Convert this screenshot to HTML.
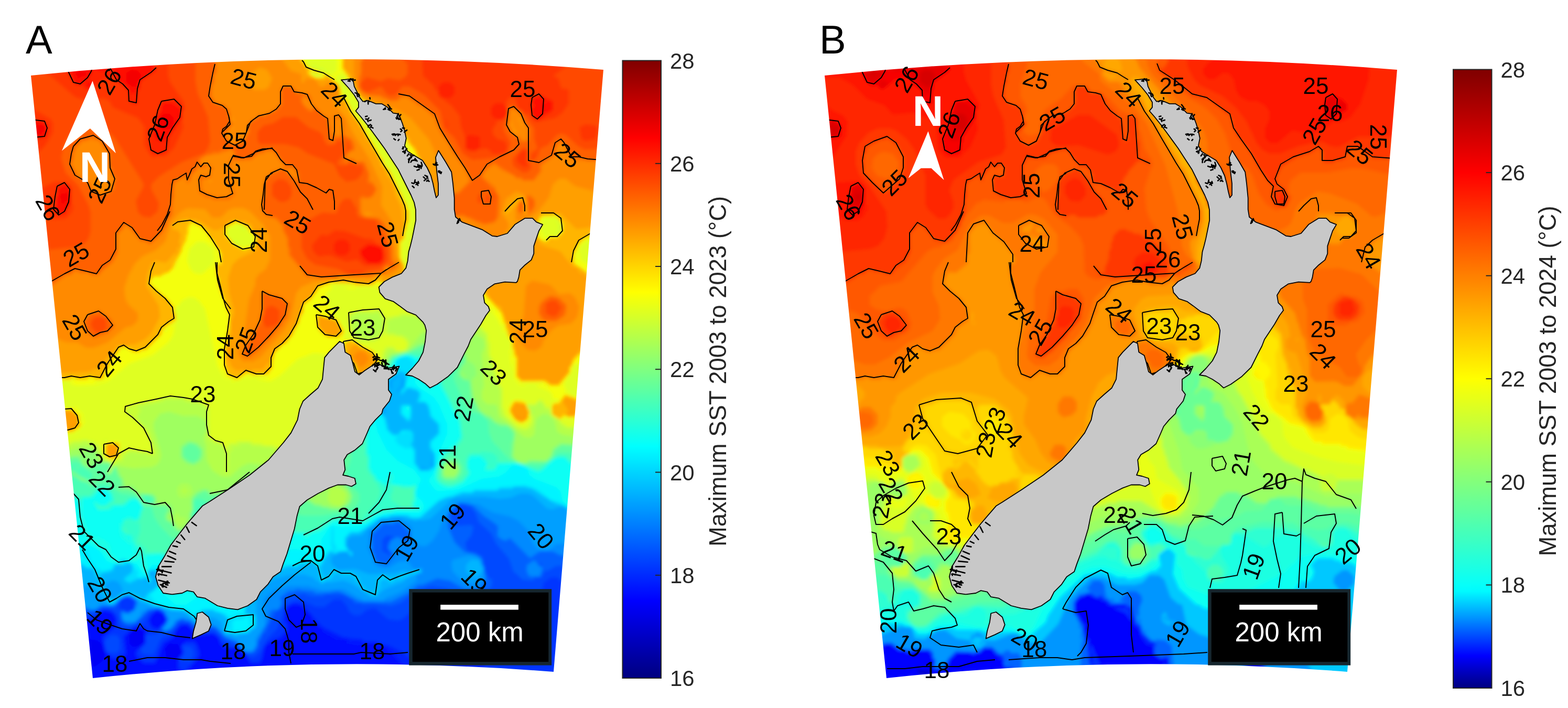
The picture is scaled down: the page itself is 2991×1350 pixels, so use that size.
<!DOCTYPE html>
<html><head><meta charset="utf-8"><title>SST maps</title><style>html,body{margin:0;padding:0;background:#fff;overflow:hidden}
svg{display:block}
text{font-family:"Liberation Sans",Arial,sans-serif}
.tk{font-size:42px;fill:#262626}
.ct{font-size:45.4px;fill:#262626}
.pl{font-size:76px;fill:#000}
.sb{font-size:51px;fill:#fff}
.na{font-size:81px;font-weight:bold;fill:#fff}
.cl{font-size:44px;fill:#000;text-anchor:middle;dominant-baseline:central}</style></head><body>
<svg width="2991" height="1350" viewBox="0 0 2991 1350" xmlns="http://www.w3.org/2000/svg">
<defs><linearGradient id="gA" x1="0" y1="1" x2="0" y2="0"><stop offset="0.0000" stop-color="#000080"/><stop offset="0.0104" stop-color="#00008a"/><stop offset="0.0208" stop-color="#000095"/><stop offset="0.0312" stop-color="#00009f"/><stop offset="0.0417" stop-color="#0000aa"/><stop offset="0.0521" stop-color="#0000b5"/><stop offset="0.0625" stop-color="#0000bf"/><stop offset="0.0729" stop-color="#0000ca"/><stop offset="0.0833" stop-color="#0000d4"/><stop offset="0.0938" stop-color="#0000df"/><stop offset="0.1042" stop-color="#0000ea"/><stop offset="0.1146" stop-color="#0000f4"/><stop offset="0.1250" stop-color="#0000ff"/><stop offset="0.1354" stop-color="#000bff"/><stop offset="0.1458" stop-color="#0015ff"/><stop offset="0.1562" stop-color="#0020ff"/><stop offset="0.1667" stop-color="#002aff"/><stop offset="0.1771" stop-color="#0035ff"/><stop offset="0.1875" stop-color="#0040ff"/><stop offset="0.1979" stop-color="#004aff"/><stop offset="0.2083" stop-color="#0055ff"/><stop offset="0.2188" stop-color="#0060ff"/><stop offset="0.2292" stop-color="#006aff"/><stop offset="0.2396" stop-color="#0075ff"/><stop offset="0.2500" stop-color="#0080ff"/><stop offset="0.2604" stop-color="#008aff"/><stop offset="0.2708" stop-color="#0095ff"/><stop offset="0.2812" stop-color="#009fff"/><stop offset="0.2917" stop-color="#00aaff"/><stop offset="0.3021" stop-color="#00b5ff"/><stop offset="0.3125" stop-color="#00bfff"/><stop offset="0.3229" stop-color="#00caff"/><stop offset="0.3333" stop-color="#00d4ff"/><stop offset="0.3438" stop-color="#00dfff"/><stop offset="0.3542" stop-color="#00eaff"/><stop offset="0.3646" stop-color="#00f4ff"/><stop offset="0.3750" stop-color="#00ffff"/><stop offset="0.3854" stop-color="#0bfff4"/><stop offset="0.3958" stop-color="#15ffea"/><stop offset="0.4062" stop-color="#20ffdf"/><stop offset="0.4167" stop-color="#2bffd4"/><stop offset="0.4271" stop-color="#35ffca"/><stop offset="0.4375" stop-color="#40ffbf"/><stop offset="0.4479" stop-color="#4affb5"/><stop offset="0.4583" stop-color="#55ffaa"/><stop offset="0.4688" stop-color="#60ff9f"/><stop offset="0.4792" stop-color="#6aff95"/><stop offset="0.4896" stop-color="#75ff8a"/><stop offset="0.5000" stop-color="#80ff80"/><stop offset="0.5104" stop-color="#8aff75"/><stop offset="0.5208" stop-color="#95ff6a"/><stop offset="0.5312" stop-color="#9fff60"/><stop offset="0.5417" stop-color="#aaff55"/><stop offset="0.5521" stop-color="#b5ff4a"/><stop offset="0.5625" stop-color="#bfff40"/><stop offset="0.5729" stop-color="#caff35"/><stop offset="0.5833" stop-color="#d5ff2a"/><stop offset="0.5938" stop-color="#dfff20"/><stop offset="0.6042" stop-color="#eaff15"/><stop offset="0.6146" stop-color="#f4ff0b"/><stop offset="0.6250" stop-color="#ffff00"/><stop offset="0.6354" stop-color="#fff400"/><stop offset="0.6458" stop-color="#ffea00"/><stop offset="0.6562" stop-color="#ffdf00"/><stop offset="0.6667" stop-color="#ffd500"/><stop offset="0.6771" stop-color="#ffca00"/><stop offset="0.6875" stop-color="#ffbf00"/><stop offset="0.6979" stop-color="#ffb500"/><stop offset="0.7083" stop-color="#ffaa00"/><stop offset="0.7188" stop-color="#ff9f00"/><stop offset="0.7292" stop-color="#ff9500"/><stop offset="0.7396" stop-color="#ff8a00"/><stop offset="0.7500" stop-color="#ff8000"/><stop offset="0.7604" stop-color="#ff7500"/><stop offset="0.7708" stop-color="#ff6a00"/><stop offset="0.7812" stop-color="#ff6000"/><stop offset="0.7917" stop-color="#ff5500"/><stop offset="0.8021" stop-color="#ff4a00"/><stop offset="0.8125" stop-color="#ff4000"/><stop offset="0.8229" stop-color="#ff3500"/><stop offset="0.8333" stop-color="#ff2a00"/><stop offset="0.8438" stop-color="#ff2000"/><stop offset="0.8542" stop-color="#ff1500"/><stop offset="0.8646" stop-color="#ff0b00"/><stop offset="0.8750" stop-color="#ff0000"/><stop offset="0.8854" stop-color="#f40000"/><stop offset="0.8958" stop-color="#ea0000"/><stop offset="0.9062" stop-color="#df0000"/><stop offset="0.9167" stop-color="#d50000"/><stop offset="0.9271" stop-color="#ca0000"/><stop offset="0.9375" stop-color="#bf0000"/><stop offset="0.9479" stop-color="#b50000"/><stop offset="0.9583" stop-color="#aa0000"/><stop offset="0.9688" stop-color="#9f0000"/><stop offset="0.9792" stop-color="#950000"/><stop offset="0.9896" stop-color="#8a0000"/><stop offset="1.0000" stop-color="#800000"/></linearGradient><linearGradient id="gB" x1="0" y1="1" x2="0" y2="0"><stop offset="0.0000" stop-color="#000080"/><stop offset="0.0104" stop-color="#000099"/><stop offset="0.0208" stop-color="#0000b2"/><stop offset="0.0312" stop-color="#0000cb"/><stop offset="0.0417" stop-color="#0000e5"/><stop offset="0.0521" stop-color="#0000fe"/><stop offset="0.0625" stop-color="#0018ff"/><stop offset="0.0729" stop-color="#0031ff"/><stop offset="0.0833" stop-color="#004aff"/><stop offset="0.0938" stop-color="#0063ff"/><stop offset="0.1042" stop-color="#007cff"/><stop offset="0.1146" stop-color="#0096ff"/><stop offset="0.1250" stop-color="#00afff"/><stop offset="0.1354" stop-color="#00c8ff"/><stop offset="0.1458" stop-color="#00e1ff"/><stop offset="0.1562" stop-color="#00faff"/><stop offset="0.1667" stop-color="#06fff9"/><stop offset="0.1771" stop-color="#0efff1"/><stop offset="0.1875" stop-color="#16ffe9"/><stop offset="0.1979" stop-color="#1effe1"/><stop offset="0.2083" stop-color="#25ffda"/><stop offset="0.2188" stop-color="#2dffd2"/><stop offset="0.2292" stop-color="#35ffca"/><stop offset="0.2396" stop-color="#3dffc2"/><stop offset="0.2500" stop-color="#44ffbb"/><stop offset="0.2604" stop-color="#4cffb3"/><stop offset="0.2708" stop-color="#54ffab"/><stop offset="0.2812" stop-color="#5cffa3"/><stop offset="0.2917" stop-color="#64ff9b"/><stop offset="0.3021" stop-color="#6bff94"/><stop offset="0.3125" stop-color="#73ff8c"/><stop offset="0.3229" stop-color="#7bff84"/><stop offset="0.3333" stop-color="#83ff7c"/><stop offset="0.3438" stop-color="#8aff75"/><stop offset="0.3542" stop-color="#92ff6d"/><stop offset="0.3646" stop-color="#9aff65"/><stop offset="0.3750" stop-color="#a2ff5d"/><stop offset="0.3854" stop-color="#a9ff56"/><stop offset="0.3958" stop-color="#b1ff4e"/><stop offset="0.4062" stop-color="#b9ff46"/><stop offset="0.4167" stop-color="#c1ff3e"/><stop offset="0.4271" stop-color="#c9ff36"/><stop offset="0.4375" stop-color="#d0ff2f"/><stop offset="0.4479" stop-color="#d8ff27"/><stop offset="0.4583" stop-color="#e0ff1f"/><stop offset="0.4688" stop-color="#e8ff17"/><stop offset="0.4792" stop-color="#efff10"/><stop offset="0.4896" stop-color="#f7ff08"/><stop offset="0.5000" stop-color="#ffff00"/><stop offset="0.5104" stop-color="#fff700"/><stop offset="0.5208" stop-color="#ffef00"/><stop offset="0.5312" stop-color="#ffe700"/><stop offset="0.5417" stop-color="#ffdf00"/><stop offset="0.5521" stop-color="#ffd700"/><stop offset="0.5625" stop-color="#ffcf00"/><stop offset="0.5729" stop-color="#ffc700"/><stop offset="0.5833" stop-color="#ffbf00"/><stop offset="0.5938" stop-color="#ffb700"/><stop offset="0.6042" stop-color="#ffaf00"/><stop offset="0.6146" stop-color="#ffa700"/><stop offset="0.6250" stop-color="#ff9f00"/><stop offset="0.6354" stop-color="#ff9700"/><stop offset="0.6458" stop-color="#ff8f00"/><stop offset="0.6562" stop-color="#ff8700"/><stop offset="0.6667" stop-color="#ff8000"/><stop offset="0.6771" stop-color="#ff7800"/><stop offset="0.6875" stop-color="#ff7000"/><stop offset="0.6979" stop-color="#ff6800"/><stop offset="0.7083" stop-color="#ff6000"/><stop offset="0.7188" stop-color="#ff5800"/><stop offset="0.7292" stop-color="#ff5000"/><stop offset="0.7396" stop-color="#ff4800"/><stop offset="0.7500" stop-color="#ff4000"/><stop offset="0.7604" stop-color="#ff3800"/><stop offset="0.7708" stop-color="#ff3000"/><stop offset="0.7812" stop-color="#ff2800"/><stop offset="0.7917" stop-color="#ff2000"/><stop offset="0.8021" stop-color="#ff1800"/><stop offset="0.8125" stop-color="#ff1000"/><stop offset="0.8229" stop-color="#ff0800"/><stop offset="0.8333" stop-color="#ff0000"/><stop offset="0.8438" stop-color="#f70000"/><stop offset="0.8542" stop-color="#ef0000"/><stop offset="0.8646" stop-color="#e70000"/><stop offset="0.8750" stop-color="#df0000"/><stop offset="0.8854" stop-color="#d70000"/><stop offset="0.8958" stop-color="#cf0000"/><stop offset="0.9062" stop-color="#c70000"/><stop offset="0.9167" stop-color="#bf0000"/><stop offset="0.9271" stop-color="#b70000"/><stop offset="0.9375" stop-color="#af0000"/><stop offset="0.9479" stop-color="#a70000"/><stop offset="0.9583" stop-color="#9f0000"/><stop offset="0.9688" stop-color="#970000"/><stop offset="0.9792" stop-color="#8f0000"/><stop offset="0.9896" stop-color="#870000"/><stop offset="1.0000" stop-color="#800000"/></linearGradient><clipPath id="cA"><path d="M59,144 A5916,5916 0 0 1 1151,133 L1056,1281 A4762,4762 0 0 0 177,1293 Z"/></clipPath><clipPath id="cB"><path d="M1573,144 A5916,5916 0 0 1 2665,133 L2570,1281 A4762,4762 0 0 0 1691,1293 Z"/></clipPath><filter id="bl" x="0" y="0" width="100%" height="100%"><feGaussianBlur stdDeviation="3"/></filter></defs>
<rect width="2991" height="1350" fill="#fff"/>
<g clip-path="url(#cA)"><g filter="url(#bl)"><rect x="40" y="100" width="1128" height="1208" fill="#00008a"/>
<path fill-rule="evenodd" d="M41,101 41,1307 1167,1307 1167,101Z" fill="#00009f"/>
<path fill-rule="evenodd" d="M41,101 41,1307 1167,1307 1167,101Z" fill="#0000b5"/>
<path fill-rule="evenodd" d="M41,101 41,1307 1167,1307 1167,101Z" fill="#0000ca"/>
<path fill-rule="evenodd" d="M41,101 41,1307 1167,1307 1167,101Z" fill="#0000df"/>
<path fill-rule="evenodd" d="M41,101 41,1307 1167,1307 1167,101Z" fill="#0000f4"/>
<path fill-rule="evenodd" d="M41,101 41,1307 1167,1307 1167,101ZM461,1247 465,1245 467,1249 465,1251ZM457,1243 461,1241 463,1245 461,1247ZM445,1239 457,1237 459,1241ZM323,1227 343,1229 347,1245 341,1255 321,1257 317,1253 315,1237ZM169,1219 185,1221 195,1229 199,1239 199,1253 195,1261 181,1271 167,1269 157,1259 153,1249 153,1235 157,1227ZM259,1199 265,1199 275,1207 275,1225 265,1233 253,1233 247,1227 247,1209ZM311,1187 313,1185 315,1189 313,1191ZM311,1175 313,1173 315,1177 313,1179Z" fill="#000bff"/>
<path fill-rule="evenodd" d="M373,1223 355,1223 345,1231 349,1245 339,1257 339,1277 345,1277 345,1283 357,1281 381,1251 381,1241ZM41,101 41,1269 57,1271 41,1273 41,1293 53,1289 93,1247 89,1243 95,1243 95,1237 99,1239 97,1235 101,1233 101,1227 107,1227 105,1223 113,1217 113,1211 121,1205 121,1199 135,1185 143,1185 147,1181 179,1181 189,1169 201,1163 215,1169 221,1181 217,1197 195,1213 199,1239 213,1257 229,1257 231,1253 237,1253 241,1249 237,1215 249,1201 257,1197 273,1197 279,1203 277,1225 259,1241 259,1253 273,1265 297,1265 313,1227 333,1215 335,1203 347,1191 357,1191 369,1203 371,1213 407,1209 417,1217 419,1227 429,1237 457,1235 469,1247 477,1265 497,1265 507,1231 521,1221 537,1217 549,1205 549,1189 545,1185 547,1161 557,1153 571,1153 595,1175 595,1181 603,1187 601,1191 605,1189 605,1195 609,1193 611,1201 611,1197 617,1197 617,1205 647,1221 653,1217 665,1217 665,1223 655,1223 675,1229 717,1225 719,1229 713,1231 729,1229 731,1233 727,1235 741,1233 743,1237 737,1239 749,1247 775,1277 783,1295 783,1307 899,1307 901,1299 903,1307 1167,1307 1167,101ZM57,1269 59,1265 65,1267 59,1271ZM65,1263 67,1261 69,1265 67,1267ZM69,1261 71,1257 77,1259 71,1263ZM77,1257 79,1253 83,1255 79,1259ZM81,1253 83,1249 87,1251 83,1255ZM85,1249 87,1245 91,1247 87,1251ZM751,1243 757,1241 759,1245 757,1247ZM743,1239 749,1237 751,1241 747,1243ZM923,1225 927,1227 925,1255ZM869,1225 871,1227 867,1233 865,1227ZM869,1225 871,1221 875,1223 871,1227ZM667,1223 689,1221 691,1225 669,1227ZM873,1221 875,1217 879,1219 875,1223ZM643,1215 649,1213 651,1217 645,1219ZM635,1211 641,1209 643,1213 639,1215ZM891,1205 909,1205 923,1219 919,1239 901,1255 887,1253 875,1235 877,1215ZM627,1207 633,1205 635,1209 631,1211ZM619,1203 625,1201 627,1205 623,1207ZM301,1165 305,1169 309,1167 319,1181 303,1199 291,1195 285,1185 289,1173Z" fill="#0020ff"/>
<path fill-rule="evenodd" d="M369,1225 355,1225 345,1233 349,1237 349,1247 341,1257 341,1273 351,1279 375,1257 379,1249 375,1231ZM41,101 41,1267 53,1267 73,1255 99,1229 119,1197 133,1183 141,1183 145,1179 177,1179 197,1163 215,1167 223,1181 221,1195 197,1215 201,1241 215,1255 225,1255 239,1245 235,1213 257,1195 275,1195 281,1201 277,1211 277,1227 261,1243 261,1249 275,1263 293,1263 303,1249 303,1241 311,1225 329,1215 335,1201 345,1191 359,1191 375,1211 407,1207 417,1213 421,1225 431,1235 457,1235 471,1247 469,1249 479,1263 493,1263 499,1257 503,1233 513,1223 533,1215 547,1201 547,1191 543,1187 543,1165 547,1157 557,1151 571,1151 579,1155 615,1195 655,1215 691,1219 695,1223 719,1223 723,1227 743,1231 767,1243 775,1251 799,1263 805,1261 811,1267 837,1267 851,1253 863,1225 881,1207 889,1203 911,1203 929,1225 929,1255 921,1275 909,1291 911,1297 905,1307 1167,1307 1167,101ZM303,1163 317,1175 315,1177 319,1183 309,1197 297,1201 287,1195 283,1181 293,1167ZM253,1157 255,1161 251,1163 249,1161ZM229,1145 231,1141 235,1143 231,1147Z" fill="#0035ff"/>
<path fill-rule="evenodd" d="M351,1231 347,1233 351,1237 351,1247 341,1259 363,1261 369,1251 369,1241 365,1233ZM211,1211 199,1223 203,1241 207,1245 223,1245 229,1239 229,1219 223,1211ZM41,101 41,1209 69,1205 135,1173 181,1173 197,1161 209,1161 223,1171 227,1191 233,1199 253,1197 255,1193 273,1189 285,1171 301,1161 313,1169 319,1183 297,1209 279,1211 279,1227 267,1239 273,1247 289,1249 295,1245 305,1221 311,1215 327,1209 343,1189 359,1189 371,1201 383,1205 409,1205 431,1227 457,1235 475,1253 485,1253 495,1245 509,1219 529,1199 545,1155 561,1145 575,1145 603,1157 619,1157 637,1143 651,1143 663,1157 665,1165 675,1173 687,1173 699,1163 715,1159 741,1181 759,1183 767,1181 781,1169 791,1147 801,1137 809,1133 823,1133 837,1141 859,1165 867,1169 913,1177 959,1179 989,1173 1017,1157 1031,1139 1037,1111 1051,1101 1063,1101 1079,1117 1087,1137 1117,1161 1143,1173 1167,1177 1167,101ZM239,1137 247,1137 249,1141 257,1143 255,1161 245,1167 227,1161 229,1143Z" fill="#004aff"/>
<path fill-rule="evenodd" d="M41,101 41,1165 105,1157 153,1157 155,1161 165,1161 167,1165 183,1165 195,1157 221,1157 227,1143 235,1141 239,1135 255,1141 259,1145 257,1161 245,1169 231,1165 229,1173 235,1189 245,1193 259,1189 283,1165 303,1161 313,1167 317,1179 321,1181 317,1191 307,1199 313,1205 321,1205 337,1191 339,1185 349,1181 351,1185 361,1185 369,1193 397,1193 399,1197 409,1197 429,1217 449,1225 465,1243 485,1245 493,1233 493,1223 497,1221 501,1207 507,1207 525,1167 537,1159 543,1143 559,1133 577,1133 579,1129 583,1131 581,1133 595,1137 621,1137 617,1135 619,1133 657,1133 659,1137 665,1137 667,1143 673,1141 675,1143 671,1145 679,1151 689,1149 691,1153 711,1151 747,1155 765,1149 793,1127 823,1117 851,1121 891,1137 909,1137 929,1129 937,1119 939,1109 937,1103 931,1103 929,1095 925,1093 921,1067 917,1059 909,1057 911,1055 891,1051 887,1035 899,1021 903,1005 899,1001 871,1003 861,993 861,975 879,961 889,961 891,965 903,967 899,969 907,977 913,995 937,1017 947,1037 971,1065 979,1089 997,1105 1019,1107 1019,1101 1033,1101 1039,1087 1043,1089 1061,1079 1079,1079 1139,1097 1167,1099 1167,101ZM505,1199 507,1197 509,1201 507,1203ZM509,1191 511,1189 513,1193 511,1195ZM1029,1075 1031,1073 1035,1077 1031,1079ZM737,1021 751,1023 739,1037 739,1047 747,1053 745,1059 729,1051 729,1029ZM857,983 859,981 861,985 859,987Z" fill="#0060ff"/>
<path fill-rule="evenodd" d="M1019,1067 1005,1077 1005,1091 1009,1099 1031,1099 1035,1081 1031,1081ZM41,101 41,1147 67,1147 71,1143 117,1143 121,1147 137,1147 169,1163 183,1163 195,1155 217,1157 231,1139 245,1135 261,1147 255,1165 249,1165 247,1169 237,1169 235,1165 231,1167 233,1183 245,1191 259,1187 283,1163 301,1159 313,1167 321,1181 317,1191 309,1197 313,1203 327,1199 335,1187 347,1179 361,1183 369,1191 397,1191 401,1195 409,1195 429,1215 449,1223 467,1243 477,1245 483,1243 491,1231 491,1223 511,1187 515,1167 535,1159 539,1151 535,1139 551,1127 563,1127 567,1123 577,1127 597,1127 601,1131 631,1131 635,1127 645,1127 685,1147 725,1149 747,1147 779,1131 799,1115 807,1115 835,1103 857,1107 885,1123 911,1123 919,1119 927,1107 919,1065 907,1057 887,1053 867,1033 855,1005 855,983 859,975 879,959 901,963 921,983 941,995 949,1003 949,1023 961,1031 973,1027 1011,1065 1031,1051 1053,1051 1069,1059 1085,1059 1089,1063 1105,1063 1109,1067 1125,1067 1129,1071 1167,1071 1167,101ZM761,995 781,1015 781,1029 775,1035 763,1025 745,1029 741,1047 751,1059 737,1077 723,1073 715,1065 715,1057 711,1053 711,1019 731,999 751,999Z" fill="#0075ff"/>
<path fill-rule="evenodd" d="M1019,1069 1005,1079 1005,1089 1011,1099 1029,1099 1035,1083 1029,1081ZM41,101 41,1147 65,1147 69,1143 119,1143 123,1147 139,1147 171,1163 181,1163 193,1155 217,1155 231,1139 247,1135 261,1145 261,1155 257,1163 247,1169 237,1169 233,1165 233,1181 239,1187 257,1187 281,1163 303,1159 313,1165 321,1181 317,1187 319,1189 309,1199 315,1203 325,1199 337,1183 351,1179 355,1183 363,1183 371,1191 399,1191 403,1195 411,1195 431,1215 451,1223 467,1243 481,1243 487,1237 491,1221 511,1185 515,1165 519,1161 529,1163 535,1157 533,1155 537,1149 533,1139 549,1127 561,1127 565,1123 599,1127 603,1131 647,1127 687,1147 745,1147 777,1131 797,1115 805,1115 833,1103 859,1107 887,1123 909,1123 917,1119 927,1105 923,1081 919,1079 919,1067 905,1057 885,1053 867,1035 855,1007 855,981 859,973 877,959 903,963 923,983 951,1003 949,1021 955,1027 965,1031 973,1025 1011,1063 1029,1051 1055,1051 1071,1059 1087,1059 1091,1063 1107,1063 1111,1067 1127,1067 1131,1071 1167,1071 1167,101ZM761,993 783,1015 783,1029 775,1037 761,1025 755,1025 749,1031 747,1029 741,1045 753,1059 737,1079 729,1073 723,1075 713,1065 715,1059 709,1053 709,1019 731,997 749,999 755,993Z" fill="#008aff"/>
<path fill-rule="evenodd" d="M865,1067 861,1073 863,1089 881,1107 895,1113 907,1113 925,1099 921,1097 923,1083 913,1063 895,1059ZM41,101 41,1127 83,1127 131,1133 153,1145 161,1153 159,1157 169,1157 171,1161 181,1161 193,1153 217,1153 229,1139 249,1135 263,1143 263,1155 259,1157 259,1163 247,1171 237,1171 233,1167 235,1181 239,1185 257,1185 269,1173 267,1169 273,1163 277,1165 279,1161 305,1157 315,1165 323,1181 311,1199 315,1201 325,1197 333,1189 333,1183 341,1181 343,1177 363,1181 371,1189 405,1189 407,1193 413,1193 431,1213 453,1221 459,1229 457,1233 467,1241 481,1241 489,1229 487,1217 491,1213 493,1217 491,1211 495,1207 497,1209 497,1203 505,1193 503,1143 519,1127 553,1117 587,1117 615,1125 655,1123 683,1139 679,1141 687,1139 693,1145 733,1145 733,1141 765,1129 795,1107 793,1095 805,1093 805,1083 791,1087 777,1069 761,1071 741,1083 727,1083 713,1075 713,1067 703,1047 705,1015 715,1005 721,1005 725,995 763,991 767,997 775,997 785,1005 785,1027 801,1041 813,1041 825,1031 837,1013 847,985 851,981 853,983 851,977 855,973 857,977 857,971 875,957 897,957 899,959 895,961 911,961 939,977 973,985 989,993 1007,1011 1017,1037 1029,1049 1047,1049 1061,1037 1081,1037 1139,1049 1167,1049 1167,101Z" fill="#009fff"/>
<path fill-rule="evenodd" d="M899,1067 889,1077 889,1089 895,1097 907,1101 919,1091 921,1081 917,1079 915,1069ZM41,101 41,1091 99,1093 141,1103 163,1117 185,1125 199,1143 199,1139 203,1139 203,1147 209,1153 215,1153 237,1135 249,1135 271,1149 281,1149 293,1157 357,1169 377,1189 391,1177 409,1177 423,1187 429,1209 445,1209 447,1213 453,1213 455,1209 479,1207 477,1203 489,1197 489,1135 507,1113 527,1103 547,1097 579,1095 597,1101 605,1109 609,1107 611,1113 617,1113 619,1109 629,1111 655,1107 671,1113 707,1137 721,1137 721,1133 735,1123 771,1109 777,1101 781,1103 783,1097 791,1097 795,1091 803,1091 805,1087 801,1085 797,1089 787,1087 785,1091 777,1091 773,1087 753,1093 705,1095 677,1085 643,1087 633,1075 631,1067 635,1059 643,1057 647,1051 663,1053 669,1061 673,1061 673,1051 667,1051 661,1041 663,1029 669,1023 691,1021 703,1005 709,1005 727,989 767,985 777,991 785,989 789,993 799,993 797,991 801,989 803,993 821,989 865,949 921,947 953,951 973,949 993,941 1007,941 1017,945 1043,969 1053,971 1073,965 1083,973 1089,973 1091,989 1107,1001 1141,1009 1167,1009 1167,101ZM195,1131 197,1129 199,1133 197,1135ZM683,1119 685,1117 687,1121 685,1123ZM211,1107 221,1107 229,1113 235,1127 217,1143 209,1141 197,1117ZM277,1107 281,1105 283,1111 281,1113ZM291,1103 295,1107 291,1113ZM305,1093 307,1109 303,1111 301,1107ZM285,1101 287,1089 303,1091 291,1093 291,1101ZM801,891 819,893 803,895ZM825,865 827,889 823,891ZM727,765 731,767 729,779 731,777 737,785 731,789 725,781ZM731,757 735,761 733,767 729,765ZM757,743 761,741 763,747 759,749ZM761,739 765,737 767,741 763,743ZM745,739 747,737 749,741 747,743ZM767,721 771,723 769,739 765,737ZM753,717 755,721 747,727 747,737 743,739 741,727ZM753,717 755,713 759,715 755,719Z" fill="#00b5ff"/>
<path fill-rule="evenodd" d="M767,771 763,775 763,789 779,805 785,799 785,775 781,771ZM41,101 41,1065 143,1073 145,1077 153,1075 165,1085 177,1085 209,1151 223,1147 237,1135 249,1135 293,1155 305,1155 325,1163 349,1163 377,1187 379,1185 373,1175 375,1171 379,1173 383,1167 405,1163 411,1169 417,1167 435,1181 431,1187 433,1193 429,1197 429,1207 445,1207 451,1211 455,1207 471,1207 487,1195 487,1173 469,1169 469,1157 473,1153 471,1139 477,1133 475,1127 481,1117 497,1101 509,1093 517,1093 523,1087 525,1089 529,1085 541,1085 557,1079 563,1083 575,1075 585,1077 593,1071 607,1083 613,1111 627,1103 629,1105 639,1093 647,1093 651,1097 671,1097 689,1119 687,1121 709,1135 719,1135 719,1127 725,1121 725,1109 731,1103 747,1111 751,1107 765,1105 771,1099 777,1101 783,1095 791,1095 793,1091 803,1091 801,1085 799,1089 789,1089 785,1093 779,1091 773,1097 767,1095 755,1103 741,1103 735,1097 729,1097 719,1107 719,1123 715,1125 715,1131 701,1127 689,1115 685,1103 669,1091 651,1093 637,1085 623,1103 617,1101 611,1079 617,1075 617,1069 631,1051 637,1055 661,1051 671,1061 671,1053 667,1053 659,1041 659,1027 669,1017 685,1017 691,1011 693,1013 725,989 759,983 779,985 783,989 801,989 837,957 853,949 865,949 871,943 877,945 881,941 901,941 905,937 949,937 953,933 977,933 981,929 1013,931 1039,949 1041,947 1051,957 1053,955 1059,961 1073,963 1095,977 1103,977 1119,985 1167,985 1167,101ZM309,1095 307,1111 291,1127 285,1127 275,1143 263,1135 257,1135 255,1131 235,1131 217,1145 207,1141 209,1139 195,1117 197,1111 193,1101 189,1099 199,1091 205,1093 215,1089 221,1077 239,1077 243,1073 253,1079 253,1089 235,1105 247,1113 255,1107 259,1109 263,1103 273,1105 277,1099 287,1113 289,1105 283,1091 287,1087 301,1087ZM763,707 775,713 773,737 763,751 767,753 779,739 785,739 791,745 793,743 801,751 795,767 809,767 817,775 815,777 821,783 819,793 835,809 837,825 819,841 819,855 829,867 829,889 817,897 803,897 793,883 793,857 785,847 789,843 789,825 783,819 767,819 757,829 749,827 739,817 741,811 737,807 737,799 723,781 723,767 741,745 739,727Z" fill="#00caff"/>
<path fill-rule="evenodd" d="M767,773 765,789 779,803 783,797 783,773ZM41,101 41,1063 143,1071 167,1083 179,1083 185,1099 189,1101 193,1119 205,1137 205,1145 211,1151 221,1147 225,1141 219,1145 207,1143 195,1119 191,1101 187,1099 189,1095 213,1087 221,1075 237,1077 245,1071 253,1077 253,1091 237,1103 239,1107 249,1111 261,1103 273,1103 277,1099 287,1111 289,1107 283,1101 283,1089 303,1087 309,1093 309,1109 291,1129 281,1135 275,1145 253,1133 235,1133 229,1137 249,1133 295,1155 307,1155 327,1163 351,1163 359,1167 377,1187 379,1185 371,1175 373,1171 389,1163 407,1163 427,1171 437,1181 429,1205 451,1209 469,1207 487,1193 487,1175 467,1171 471,1137 479,1117 497,1099 529,1083 541,1083 545,1079 559,1079 563,1083 573,1075 595,1071 609,1081 613,1111 629,1103 637,1091 647,1091 649,1095 671,1095 685,1109 689,1121 711,1135 719,1133 723,1109 729,1103 739,1103 747,1111 757,1103 801,1091 803,1087 791,1089 787,1093 757,1101 755,1105 741,1105 731,1097 721,1107 721,1123 717,1125 715,1133 701,1129 687,1115 683,1103 671,1093 649,1093 637,1085 637,1091 623,1105 615,1103 615,1097 611,1095 611,1077 629,1051 639,1055 645,1051 663,1051 671,1059 671,1053 665,1053 663,1045 659,1043 659,1025 669,1015 685,1015 725,987 741,987 745,983 779,983 783,987 801,987 837,955 853,947 865,947 881,939 901,939 905,935 949,935 953,931 977,931 981,927 1003,927 1007,931 1015,931 1051,955 1119,983 1167,983 1167,101ZM227,1069 237,1067 239,1071 231,1073ZM761,707 777,713 773,739 765,745 765,751 777,739 795,743 801,749 797,767 811,767 817,773 821,793 837,809 837,827 821,843 821,853 829,865 829,891 819,897 801,897 791,883 791,859 783,847 787,841 787,827 781,821 767,821 759,829 749,829 739,819 735,799 723,783 723,765 739,745 739,725Z" fill="#00dfff"/>
<path fill-rule="evenodd" d="M485,1175 469,1175 463,1181 449,1181 443,1187 445,1201 435,1203 431,1199 431,1205 469,1205 475,1197 485,1193ZM475,1177 483,1179 481,1195 477,1193ZM207,1145 211,1149 215,1147ZM231,1137 237,1133 247,1133 237,1133ZM735,1101 731,1099 723,1107 729,1101ZM763,827 779,823 785,829 785,841 785,827 781,823 767,823ZM767,775 767,789 779,799 783,791 783,775ZM41,101 41,1061 145,1069 147,1073 157,1073 167,1081 181,1081 183,1089 187,1083 195,1089 187,1095 195,1089 213,1085 219,1075 239,1075 241,1071 247,1071 255,1077 255,1091 257,1081 265,1091 261,1101 273,1101 277,1097 285,1105 285,1111 287,1105 283,1103 281,1089 285,1085 303,1085 311,1093 309,1109 303,1119 283,1135 285,1139 287,1133 293,1145 287,1149 295,1145 299,1149 295,1153 309,1153 311,1157 325,1157 327,1161 353,1161 355,1165 361,1165 373,1181 369,1171 385,1165 387,1161 409,1161 411,1165 429,1169 437,1177 459,1169 465,1171 469,1135 473,1133 477,1115 507,1089 517,1089 527,1081 541,1081 543,1077 559,1077 563,1073 569,1077 569,1071 585,1073 587,1069 597,1069 609,1079 621,1057 629,1049 635,1049 631,1041 633,1005 637,1007 637,1035 643,1045 639,1053 641,1055 645,1049 663,1049 657,1041 657,1025 669,1013 685,1013 727,985 741,985 745,981 779,981 783,985 801,985 837,953 881,937 901,937 905,933 949,933 951,929 1003,925 1025,933 1051,953 1067,957 1095,973 1117,977 1119,981 1167,981 1167,101ZM175,1077 179,1075 181,1079 177,1081ZM171,1073 175,1071 177,1075 173,1077ZM599,1071 603,1069 611,1073 603,1075ZM227,1069 237,1065 241,1071 231,1073ZM169,1063 173,1065 171,1073 167,1071ZM155,1051 161,1049 169,1057 169,1063 165,1065ZM765,681 779,681 789,691 789,701 779,711 775,737 765,749 779,737 797,743 803,749 803,761 797,765 811,765 819,773 823,793 839,809 839,827 823,843 823,853 831,865 831,889 819,899 801,899 789,883 789,859 785,857 785,851 781,855 773,855 759,847 753,837 759,831 749,831 737,819 733,799 721,783 721,765 737,745 737,725 753,709 757,709 755,691Z" fill="#00f4ff"/>
<path fill-rule="evenodd" d="M773,775 781,791 781,775ZM787,737 779,737 775,729 775,739 767,747 777,737ZM41,101 41,1021 93,1021 121,1025 187,1045 203,1069 211,1073 239,1075 241,1071 261,1075 273,1093 279,1095 285,1111 287,1105 283,1103 281,1087 291,1077 303,1077 311,1085 309,1111 303,1117 307,1123 305,1127 335,1153 355,1153 383,1133 423,1117 463,1081 499,1061 523,1053 561,1047 579,1049 587,1055 605,1053 613,1041 613,1029 631,1001 651,1005 685,1003 709,993 715,985 727,985 729,981 743,977 797,977 805,973 809,965 805,955 793,945 793,935 797,931 795,925 801,921 803,913 789,895 759,879 737,857 721,825 713,793 715,765 729,743 737,719 751,703 753,689 765,679 775,677 787,681 797,697 791,729 797,737 827,757 837,771 853,809 853,827 839,859 835,885 831,889 831,897 819,913 819,919 829,933 837,937 875,933 919,913 951,909 965,901 977,887 991,885 1001,889 1007,895 1009,905 1019,913 1061,929 1069,937 1073,955 1081,963 1095,963 1111,951 1125,947 1167,947 1167,101ZM227,1067 239,1065 241,1071 229,1073ZM161,989 163,987 165,991 163,993ZM179,969 181,967 183,971 181,973Z" fill="#0bfff4"/>
<path fill-rule="evenodd" d="M41,101 41,977 89,977 91,973 109,973 111,969 119,971 119,965 125,965 135,953 143,951 151,957 151,993 155,995 159,1019 165,1021 167,1027 187,1045 201,1051 207,1063 227,1075 239,1073 229,1073 209,1053 211,1043 205,1035 181,1021 175,1023 175,1017 171,1019 165,1013 161,993 155,985 157,951 177,949 187,937 201,933 211,943 211,951 215,953 201,963 191,963 179,955 179,961 187,973 215,971 215,965 237,965 251,953 263,953 271,967 263,989 255,991 253,987 241,985 243,989 233,989 235,997 229,997 229,1021 251,1041 255,1053 259,1055 257,1059 253,1057 253,1063 241,1069 259,1069 269,1059 271,1081 287,1109 283,1103 281,1081 277,1077 277,1059 309,1057 311,1061 325,1065 325,1071 329,1069 329,1075 335,1075 331,1079 335,1089 329,1095 325,1091 315,1091 309,1099 309,1111 305,1115 311,1125 323,1125 333,1115 335,1093 343,1087 361,1083 337,1083 333,1079 335,1077 373,1079 369,1077 371,1073 383,1075 383,1069 391,1071 391,1065 399,1067 399,1061 407,1063 407,1057 415,1059 415,1053 421,1053 439,1041 447,1043 447,1037 457,1037 459,1033 469,1033 471,1029 481,1029 483,1025 525,1021 527,1017 577,1017 579,1023 585,1025 595,1017 611,1013 637,993 697,997 723,979 729,981 733,977 749,977 753,973 801,973 803,967 789,965 793,955 791,935 795,927 791,923 785,927 747,923 745,915 751,915 747,899 739,911 739,923 731,923 729,919 733,915 729,919 719,915 717,907 709,901 709,895 705,893 705,867 701,865 701,783 705,779 705,771 715,751 721,747 731,723 749,699 753,687 763,679 783,677 801,685 831,711 835,725 839,727 839,737 843,739 843,745 847,747 871,795 871,801 875,803 879,833 875,835 875,841 843,869 831,899 831,915 841,925 849,929 863,929 883,921 897,903 893,893 893,879 897,871 901,869 907,873 911,867 929,883 929,889 923,893 925,897 943,897 951,885 989,883 1027,901 1035,897 1051,879 1063,873 1077,873 1101,897 1119,909 1133,909 1135,913 1167,913 1167,101ZM329,1095 333,1093 335,1097 331,1099ZM259,1045 263,1047 261,1055 257,1053ZM253,1043 257,1041 259,1045 257,1047ZM201,1043 207,1041 211,1045 203,1047ZM193,1039 199,1037 201,1041 195,1043ZM251,1033 255,1035 253,1043 249,1039ZM189,1035 191,1033 195,1037 191,1039ZM185,1031 187,1029 191,1033 187,1035ZM181,1027 185,1025 187,1029 183,1031ZM239,1023 249,1021 251,1031 247,1033 247,1027 241,1027ZM177,1023 181,1021 183,1025 179,1027ZM233,1019 237,1017 239,1021 237,1023ZM229,1015 233,1013 235,1017 231,1019Z" fill="#20ffdf"/>
<path fill-rule="evenodd" d="M315,1093 311,1097 311,1111 305,1117 311,1123 323,1123 331,1115 331,1101 323,1093ZM41,101 41,975 87,975 89,971 107,971 143,947 153,957 153,991 157,993 161,1019 167,1019 169,1027 183,1035 187,1043 199,1047 223,1073 237,1075 221,1069 207,1055 207,1049 193,1045 163,1015 163,1005 159,1003 159,991 155,987 155,949 175,947 185,935 203,931 213,941 217,955 209,957 203,965 189,965 181,957 187,971 207,971 213,963 235,963 249,951 263,951 273,967 269,973 269,983 265,985 263,993 253,993 251,989 237,993 233,1011 241,1019 253,1021 253,1031 265,1045 265,1055 243,1071 263,1063 271,1051 273,1081 283,1101 275,1079 277,1055 311,1055 313,1059 327,1063 337,1075 367,1075 369,1071 379,1071 381,1067 387,1067 389,1063 395,1063 397,1059 403,1059 405,1055 411,1055 413,1051 419,1051 445,1035 455,1035 457,1031 467,1031 469,1027 479,1027 481,1023 523,1019 525,1015 579,1015 581,1023 585,1023 593,1015 611,1011 617,1003 637,991 675,991 679,995 697,995 713,983 733,975 749,975 753,971 803,971 787,967 787,957 791,955 791,933 795,929 791,925 787,929 745,925 743,913 747,911 747,901 745,911 741,913 741,927 737,929 735,925 729,925 723,917 717,917 715,909 707,903 707,897 703,895 703,869 699,867 699,781 703,779 703,769 747,699 751,687 761,679 775,675 803,683 813,695 819,695 833,709 833,715 841,725 841,735 845,737 845,743 849,745 849,751 853,753 853,759 857,761 857,767 861,769 861,775 877,801 881,835 867,853 861,853 845,869 833,899 833,913 841,923 847,923 849,927 863,927 883,919 895,903 895,897 891,895 891,877 895,875 897,867 903,867 905,871 909,867 923,871 929,881 929,891 925,895 943,895 949,883 989,883 1025,899 1035,895 1059,873 1077,871 1101,895 1107,895 1121,907 1135,907 1137,911 1167,911 1167,101Z" fill="#35ffca"/>
<path fill-rule="evenodd" d="M311,1097 311,1113 307,1117 311,1121 321,1121 329,1113 329,1103 321,1095ZM319,1095 329,1105 329,1111 319,1121 313,1121 309,1115 313,1111 313,1099ZM267,1045 267,1049 271,1049ZM235,1003 235,1009 243,1017 251,1017 245,1017ZM243,995 239,995 239,999ZM743,925 751,931 745,947 747,955 765,965 753,969 787,969 785,957 789,953 789,933 793,929 767,931 761,927ZM929,893 941,893 945,885 939,893 935,893 931,889 931,881ZM41,101 41,973 85,973 87,969 105,969 107,965 121,961 131,949 143,945 139,943 141,939 153,947 151,951 147,947 153,955 155,945 173,945 185,933 203,929 215,941 219,957 211,959 205,967 189,967 183,959 187,969 205,969 211,961 233,961 249,949 261,949 271,959 275,971 271,973 267,993 253,995 267,997 267,1013 259,1037 263,1041 267,1037 281,1049 275,1055 313,1053 315,1057 329,1061 339,1073 365,1073 367,1069 377,1069 379,1065 385,1065 387,1061 393,1061 395,1057 401,1057 403,1053 409,1053 411,1049 417,1049 443,1033 453,1033 455,1029 465,1029 467,1025 477,1025 479,1021 521,1017 523,1013 581,1013 585,1021 591,1013 601,1013 597,1009 599,1007 609,1009 615,1001 621,1001 635,989 677,989 679,993 697,993 691,989 719,957 725,943 725,933 721,927 725,923 713,917 713,911 701,897 701,871 697,869 697,781 709,753 739,709 749,687 755,681 773,675 803,681 835,709 839,721 843,723 843,733 847,735 847,741 851,743 851,749 855,751 855,757 859,759 859,765 863,767 863,773 879,799 883,837 869,855 863,855 847,871 839,885 835,913 843,921 861,925 881,917 893,901 889,895 889,877 893,867 903,865 905,861 909,865 915,865 917,861 939,863 949,871 949,881 985,881 1015,893 1023,893 1025,897 1063,869 1079,869 1103,893 1115,901 1121,901 1123,905 1137,905 1139,909 1167,909 1167,101ZM261,1033 263,1031 267,1037 263,1039ZM583,1017 585,1013 589,1015 585,1019ZM277,955 291,957 279,959ZM271,947 283,947 275,951ZM719,923 721,921 723,925 721,927Z" fill="#4affb5"/>
<path fill-rule="evenodd" d="M873,873 861,871 847,879 841,893 841,909 849,917 867,917 881,905 883,891ZM41,101 41,937 95,929 129,913 131,905 137,905 137,911 145,909 153,917 169,921 169,927 181,927 189,921 205,921 229,941 261,945 275,965 289,965 295,987 307,1005 327,1025 345,1031 369,1025 381,1011 381,995 365,983 365,977 369,975 371,951 389,953 407,973 425,981 453,981 471,977 541,977 579,983 615,983 667,975 677,969 685,957 685,941 661,917 661,899 669,875 677,805 689,771 751,681 769,677 771,673 795,671 825,673 853,669 863,675 871,691 865,721 887,773 897,785 917,789 931,803 933,825 939,841 973,877 995,885 1029,887 1045,881 1067,863 1087,863 1125,877 1167,881 1167,101ZM269,945 287,945 295,957 279,961ZM127,903 129,901 131,905 129,907ZM213,899 215,897 217,901 215,903ZM203,895 205,893 207,897 205,899ZM145,899 155,889 161,889 161,895 165,893 175,903 177,911 167,915 151,907ZM143,889 147,891 147,897 139,899 137,895ZM207,887 209,885 211,889 209,891ZM127,893 141,881 149,885 153,881 155,883 153,891 143,887 137,895Z" fill="#60ff9f"/>
<path fill-rule="evenodd" d="M127,897 161,919 169,919 175,925 181,921 151,909 135,897ZM853,879 843,891 843,907 849,913 867,913 877,901 877,889 867,879ZM41,101 41,905 61,905 63,901 101,897 139,873 149,873 157,887 167,893 175,893 183,885 209,883 211,889 203,903 211,905 219,889 223,905 231,915 233,925 223,929 227,933 245,933 255,937 265,947 273,963 317,965 319,977 315,979 315,991 325,997 337,1013 351,1013 365,999 363,979 367,975 367,955 379,941 385,941 387,937 393,937 401,945 441,941 451,929 455,931 455,925 459,929 461,927 457,925 459,921 465,921 465,925 475,925 475,921 481,921 483,925 479,927 489,925 491,929 505,929 507,933 545,937 547,941 569,945 575,953 581,953 583,957 589,957 601,965 625,969 629,973 651,973 669,959 673,945 665,929 645,909 641,895 637,893 637,863 641,861 641,847 645,845 649,819 653,817 665,783 721,721 747,681 777,673 811,657 823,657 827,653 853,653 855,657 869,661 883,675 887,689 875,705 875,715 885,725 895,727 899,759 911,783 953,813 967,813 981,827 979,841 975,845 975,871 989,883 1005,885 1009,881 1041,881 1053,871 1057,859 1071,849 1125,853 1129,857 1167,857 1167,101ZM267,943 291,945 295,949 295,959 279,961ZM465,919 473,917 475,921 467,923ZM363,845 373,849 383,859 379,877 369,883 359,879 349,869 349,855Z" fill="#75ff8a"/>
<path fill-rule="evenodd" d="M129,897 155,915 179,923ZM853,881 845,889 845,907 849,911 867,911 875,901 875,891 867,881ZM41,101 41,903 59,903 61,899 99,895 137,871 151,871 157,885 167,891 175,891 181,883 209,883 213,889 205,903 211,903 219,887 229,911 233,913 233,923 237,927 225,931 247,931 249,935 255,935 275,963 319,963 325,971 317,981 317,991 327,995 339,1011 351,1011 363,999 367,949 377,939 383,939 385,935 395,935 401,943 439,939 469,911 493,927 527,931 529,935 547,935 549,939 571,943 577,951 583,951 601,963 611,963 613,967 651,971 667,959 671,945 663,931 643,911 643,905 635,895 635,861 639,859 639,845 643,843 647,817 655,807 655,797 659,795 663,781 671,775 671,769 711,731 747,679 779,671 799,659 823,655 825,651 855,651 857,655 871,659 885,673 889,691 881,697 877,715 885,723 897,725 901,759 905,761 913,781 929,795 935,795 945,807 951,807 953,811 967,811 977,817 981,825 977,871 987,881 1005,883 1009,879 1043,879 1051,871 1059,853 1067,851 1069,847 1127,851 1129,855 1167,855 1167,101ZM267,941 291,943 297,949 297,959 277,961 267,947ZM361,843 375,847 385,857 385,871 381,873 381,879 373,881 371,885 357,881 347,871 347,853Z" fill="#8aff75"/>
<path fill-rule="evenodd" d="M177,883 167,889 173,889ZM855,881 847,889 847,907 867,909 873,901 873,891 869,885ZM159,881 159,885 163,885ZM879,707 879,713 887,721 895,721 889,721ZM41,101 41,901 97,893 99,889 113,885 137,869 153,869 163,859 177,859 183,865 185,875 181,881 209,881 213,885 205,903 211,903 217,887 223,891 231,909 235,911 235,921 239,923 237,929 247,929 251,925 255,929 251,933 257,929 265,943 267,937 273,941 291,941 299,949 297,961 327,963 331,983 329,985 323,975 319,989 323,993 329,991 339,1009 349,1009 361,997 361,979 367,973 365,949 377,937 385,933 397,933 403,941 437,937 445,929 441,927 445,923 449,925 455,917 461,917 465,913 463,909 477,899 483,913 475,913 487,921 493,921 495,925 529,929 531,933 549,933 551,937 573,941 579,949 585,949 603,961 613,961 615,965 627,965 631,969 649,969 663,961 669,947 661,931 641,911 637,899 633,897 633,859 637,857 637,843 641,841 645,815 653,805 653,797 661,781 727,709 747,677 779,669 797,657 821,653 825,649 855,649 867,657 873,657 891,679 891,691 897,689 907,699 909,715 899,725 903,757 915,781 923,789 935,793 947,805 967,809 979,817 983,825 979,871 989,881 1001,883 1011,877 1041,879 1051,869 1053,857 1069,845 1129,849 1131,853 1167,853 1167,101ZM439,929 441,931 435,935 433,933ZM359,841 377,845 387,857 387,871 383,879 371,887 355,883 345,873 345,851Z" fill="#9fff60"/>
<path fill-rule="evenodd" d="M335,975 335,997 339,1001 347,1001 353,995 353,987 343,987ZM337,995 345,993 347,997 339,999ZM345,991 349,989 351,993 347,995ZM337,987 341,985 343,989 339,991ZM635,927 627,933 625,953 631,961 647,965 657,959 661,941 651,931ZM345,923 339,929 339,943 345,949 361,947 365,941 365,929 359,923ZM353,943 357,941 359,945 355,947ZM345,943 349,941 351,945 347,947ZM357,939 361,937 363,941 359,943ZM341,939 345,937 347,941 343,943ZM357,931 361,929 363,933 359,935ZM341,931 345,929 347,933 343,935ZM353,927 357,925 359,929 355,931ZM345,927 349,925 351,929 347,931ZM41,101 41,873 101,869 155,853 175,853 187,863 195,877 213,883 213,891 205,903 211,901 217,887 253,893 289,891 301,885 307,873 307,863 293,817 293,805 305,789 323,785 349,793 377,793 393,803 395,821 389,831 389,839 393,849 395,879 405,897 423,909 439,909 461,889 475,883 523,889 567,885 593,865 641,775 663,753 697,733 721,713 743,675 777,669 803,637 819,629 837,627 881,635 905,635 923,647 925,661 919,675 923,737 919,745 919,761 929,771 945,771 949,775 951,793 999,833 1011,835 1019,829 1023,799 1035,789 1047,791 1057,801 1063,823 1073,829 1099,833 1167,829 1167,101ZM1013,785 1015,783 1017,787 1015,789Z" fill="#b5ff4a"/>
<path fill-rule="evenodd" d="M41,101 41,845 61,845 63,849 135,849 139,845 155,845 159,841 177,845 191,861 195,873 215,885 209,895 209,903 215,889 223,881 235,877 237,867 245,865 247,861 281,865 285,869 293,869 297,865 285,825 261,797 269,779 263,779 261,775 311,765 315,761 349,761 353,765 381,769 395,779 397,835 409,845 419,845 427,853 431,863 431,901 435,903 437,861 447,855 439,853 439,849 459,851 461,849 453,849 455,845 477,845 479,849 521,853 523,857 555,853 577,835 589,815 589,807 593,805 601,783 605,781 605,775 631,749 655,737 681,733 705,721 723,703 739,665 749,665 757,671 773,669 781,657 777,645 767,639 755,639 753,635 739,635 739,609 749,609 751,605 763,605 767,601 797,605 799,601 821,601 823,597 845,597 847,601 877,605 879,609 909,621 927,639 931,679 939,695 943,721 947,723 947,731 955,743 955,777 959,791 987,817 1003,821 1013,815 1017,807 1017,793 1013,791 1013,785 1005,773 1021,773 1029,765 1037,771 1041,781 1049,779 1051,791 1067,801 1067,807 1081,817 1115,817 1119,813 1141,809 1143,805 1167,801 1167,101ZM433,855 435,853 439,857 435,859ZM245,783 247,781 249,785 247,787ZM669,603 683,597 725,597 727,605 731,607 731,629 727,631 727,637 713,647 691,647 687,643 679,643 673,633ZM717,595 721,593 723,597 719,599Z" fill="#caff35"/>
<path fill-rule="evenodd" d="M217,881 215,887 219,885ZM41,101 41,841 63,841 65,845 135,845 137,841 167,837 169,841 179,841 191,853 195,865 197,857 199,873 205,873 207,877 233,873 229,871 231,857 235,863 245,857 263,857 267,861 283,861 293,865 281,825 261,801 253,799 241,787 241,781 249,773 273,769 277,765 293,765 313,757 351,757 355,761 383,765 399,777 399,833 411,841 419,841 431,857 437,845 449,845 453,841 479,841 483,845 499,845 503,849 523,849 525,853 555,849 561,841 569,839 573,829 581,823 585,805 601,773 629,745 651,737 653,733 663,733 665,729 683,729 685,725 705,717 721,701 725,685 729,685 729,673 737,661 751,661 757,669 771,669 775,665 777,653 767,643 737,639 733,631 731,639 715,651 689,651 685,647 681,647 685,647 685,651 679,651 677,647 667,645 673,639 665,619 665,601 681,593 713,593 717,589 723,589 731,597 735,609 737,605 763,601 765,597 795,601 797,597 817,597 821,593 847,593 849,597 879,601 881,605 911,617 931,637 931,651 935,653 935,679 939,681 939,691 943,693 943,707 947,709 951,731 959,741 959,779 963,781 963,791 987,813 995,813 997,817 1009,813 1009,807 1013,807 1013,795 1009,791 1013,785 1007,781 1005,771 1021,771 1029,761 1035,763 1043,777 1049,773 1051,789 1059,797 1061,795 1071,801 1071,807 1079,809 1081,813 1115,813 1117,809 1131,809 1141,801 1167,797 1167,101ZM203,839 205,841 201,847 199,841ZM697,715 699,713 701,717 699,719ZM701,711 709,711 705,715ZM709,709 711,705 715,707 711,711ZM713,705 715,701 719,703 715,707ZM717,699 719,697 721,701 719,703ZM685,651 687,649 691,653 687,655ZM769,499 771,497 773,501 771,503ZM449,463 453,461 455,465 451,467ZM445,459 449,457 451,461 447,463ZM1061,445 1063,449 1059,451 1057,449ZM1065,441 1067,445 1063,447 1061,445ZM461,435 471,435 465,439ZM457,431 461,429 463,433 459,435ZM1067,425 1071,427 1069,443 1065,441ZM1065,417 1065,427 1061,423ZM773,383 775,381 777,385 775,387ZM769,375 771,373 773,377 771,379ZM761,359 763,357 765,361 763,363ZM757,351 759,349 761,353 759,355ZM749,335 751,333 753,337 751,339ZM745,327 747,325 749,329 747,331ZM737,315 739,313 741,317 739,319ZM733,307 735,305 737,309 735,311ZM721,287 723,285 725,289 723,291ZM709,267 711,265 713,269 711,271ZM697,247 699,245 701,249 699,251ZM669,203 671,201 673,205 671,207ZM665,195 667,193 669,197 667,199ZM653,167 655,165 661,173 655,175ZM651,157 655,161 653,167 649,165ZM601,143 613,141 615,145 603,147ZM593,139 597,137 601,141 595,143ZM617,135 621,133 623,137 619,139ZM605,131 615,129 619,133 607,135ZM593,127 603,125 607,129 595,131Z" fill="#dfff20"/>
<path fill-rule="evenodd" d="M205,843 199,849 199,871 209,877 219,877 223,871 227,873 229,843ZM159,791 145,775 139,779 89,777 91,787 89,789 85,783 83,787 91,817 95,821 117,821 119,825 141,825 143,821 149,821 161,805ZM155,791 159,793 157,807 153,805ZM93,789 99,791 97,811 91,809 95,805ZM149,787 151,785 155,789 151,791ZM145,783 147,781 151,785 147,787ZM141,779 143,777 147,781 143,783ZM979,763 971,775 975,795 993,809 1005,805 1011,789 1003,773 1005,769 997,763ZM41,101 41,717 87,719 41,721 41,747 65,741 91,729 93,725 135,725 137,727 133,731 147,735 189,733 205,727 247,693 291,677 321,653 329,641 335,619 333,615 337,611 333,585 339,585 347,573 359,567 369,567 379,573 391,589 415,697 425,717 433,725 435,721 445,721 447,725 439,727 445,729 447,725 457,725 459,721 463,723 463,717 469,721 479,721 481,717 511,717 511,721 485,723 515,727 533,717 567,685 599,673 631,677 669,703 673,697 673,707 679,707 681,717 695,717 707,709 725,691 725,685 711,667 691,659 675,647 663,647 661,651 655,649 659,645 653,641 657,637 657,629 649,617 649,611 633,605 635,601 641,601 625,581 621,561 635,547 629,545 631,541 673,541 673,547 655,547 665,551 709,551 679,551 675,547 677,545 711,545 713,549 735,549 737,545 743,545 749,549 753,547 747,547 747,541 755,541 759,545 759,537 765,541 779,527 779,515 779,521 775,525 773,523 773,505 765,493 765,463 773,455 773,443 781,423 781,401 745,325 737,317 697,245 673,213 665,193 653,181 653,169 641,153 641,145 645,141 657,141 663,147 671,169 687,187 687,193 693,193 707,209 713,209 713,215 719,215 717,219 721,217 723,221 729,221 731,225 727,227 771,275 791,311 801,345 803,331 807,331 807,347 803,353 805,359 805,351 811,351 811,367 807,371 809,377 809,371 815,371 813,401 815,397 819,399 819,411 815,415 817,421 817,415 823,415 823,427 819,431 839,493 847,505 893,543 937,591 951,611 961,635 963,629 967,631 967,641 975,651 975,665 971,669 977,709 979,683 983,683 981,723 987,723 983,727 995,737 1011,735 993,735 993,729 1037,729 1037,733 1021,735 1047,745 1053,751 1055,761 1067,761 1065,767 1055,767 1051,779 1053,791 1069,801 1077,795 1101,797 1109,789 1109,763 1097,755 1087,755 1085,751 1089,749 1085,747 1083,751 1075,749 1081,745 1077,739 1077,727 1089,711 1093,695 1097,693 1099,697 1107,689 1127,683 1167,681 1167,665 1141,663 1167,661 1167,527 1157,525 1167,523 1167,499 1143,507 1125,507 1107,495 1105,481 1101,479 1103,473 1107,475 1105,467 1111,467 1109,463 1115,463 1115,457 1123,459 1123,453 1167,467 1167,449 1153,447 1167,445 1167,101 647,101 643,105 643,137 629,143 617,139 615,135 605,135 603,131 593,131 587,127 585,119 581,117 585,113 585,101 581,101 581,115 577,113 577,101ZM1039,735 1045,733 1047,737 1045,739ZM1073,733 1075,729 1079,731 1075,735ZM985,727 989,725 991,729 989,731ZM179,727 195,725 197,729 183,731ZM197,725 199,721 203,723 199,727ZM137,723 141,721 143,725 139,727ZM87,723 89,721 91,725 89,727ZM429,719 433,717 435,721 433,723ZM469,715 477,713 479,717 471,719ZM427,705 431,707 429,717 425,715ZM665,695 669,693 671,697 669,699ZM661,691 665,689 667,693 665,695ZM657,687 661,685 663,689 661,691ZM975,665 979,667 977,681 973,677ZM229,669 231,665 243,667ZM549,651 551,649 553,653 551,655ZM609,635 613,633 615,637 613,639ZM561,635 563,633 565,637 563,639ZM603,627 605,625 607,629 605,631ZM565,627 567,625 569,629 567,631ZM313,631 315,625 321,627 315,633ZM959,617 963,619 961,629 957,625ZM569,619 571,617 573,621 571,623ZM325,621 327,617 335,619 329,623ZM577,599 579,597 581,601 579,603ZM941,591 945,589 947,593 945,595ZM597,567 599,565 601,569 599,571ZM723,543 733,541 735,545ZM713,545 715,541 721,543 715,547ZM765,537 767,533 771,535 767,539ZM773,525 775,527 771,533 769,527ZM333,507 335,505 337,509 335,511ZM407,499 411,501 409,529ZM337,499 339,497 341,501 339,503ZM1101,481 1099,503 1097,483ZM415,481 419,483 417,499 411,497 415,493ZM409,475 413,473 415,479 413,481ZM405,471 409,469 411,473 409,475ZM401,463 405,461 407,467 405,469ZM375,461 391,461 407,475 409,493 403,507 385,523 371,521 363,513 357,497 361,475ZM1037,455 1041,453 1043,457 1039,459ZM481,455 485,453 487,457 483,459ZM1129,453 1131,449 1153,451ZM1029,449 1031,447 1037,453 1031,455ZM825,439 829,437 831,443 829,445ZM1027,433 1031,435 1029,447 1025,445ZM821,431 825,429 827,435 825,437ZM365,429 375,431 367,433ZM433,435 449,429 451,425 469,433 483,451 483,469 459,471 445,463 433,449ZM1033,415 1061,413 1071,427 1071,441 1061,451 1047,451 1045,455 1037,451 1029,433 1029,423 1035,423ZM799,317 803,319 801,329ZM777,279 781,277 783,283 781,285ZM773,275 777,273 779,277 777,279ZM769,267 773,265 775,271 773,273ZM761,259 765,257 767,261 765,263ZM757,255 761,253 763,257 761,259ZM753,251 757,249 759,253 757,255ZM749,247 753,245 755,249 753,251ZM745,243 749,241 751,245 749,247ZM741,239 745,237 747,241 745,243ZM737,235 741,233 743,237 741,239ZM733,231 737,229 739,233 737,235ZM729,227 733,225 735,229 733,231ZM637,147 639,145 643,149 639,151ZM629,143 635,141 637,145 631,147ZM589,139 599,137 603,141 615,141 617,145 603,147ZM649,135 653,133 655,139 653,141Z" fill="#f4ff0b"/>
<path fill-rule="evenodd" d="M207,843 199,851 201,871 209,875 227,871 227,843ZM91,783 91,787 99,791 99,809 91,813 99,821 117,819 123,825 137,825 157,811 151,805 153,795 137,779 95,779ZM983,763 975,771 977,773 971,779 971,785 987,805 1001,805 1009,799 1011,785 1003,769 995,763ZM1077,751 1065,767 1059,767 1053,773 1053,791 1065,799 1071,799 1077,793 1083,797 1097,797 1109,785 1109,767 1101,759ZM657,651 655,671 661,675 659,683 677,699 675,701 681,707 679,713 683,717 695,715 723,691 723,685 709,667 707,669 701,663 691,661 675,649 667,647 661,653ZM605,599 603,623 609,627 607,631 625,645 647,645 657,633 647,617 649,615 641,607 635,609 631,603 619,605 615,599ZM647,101 651,105 651,131 663,145 675,173 687,189 731,221 775,265 775,271 791,289 791,295 799,305 799,315 803,317 803,327 807,329 807,347 811,349 811,365 815,369 815,393 819,397 819,411 823,413 827,435 831,437 847,475 915,541 923,563 955,597 959,615 963,617 963,627 967,629 967,637 975,649 979,679 983,681 983,717 993,729 1039,729 1049,737 1067,737 1089,709 1089,701 1105,677 1111,677 1129,665 1139,665 1141,661 1167,661 1167,527 1121,519 1095,501 1095,483 1101,479 1099,475 1105,469 1103,467 1115,455 1117,457 1123,451 1127,453 1131,447 1151,449 1155,443 1167,445 1167,101ZM1033,413 1061,411 1073,427 1073,441 1061,453 1051,451 1039,461 1025,447 1025,433ZM41,101 41,717 87,717 95,725 135,725 139,719 145,725 167,725 171,719 177,719 181,725 193,725 201,719 199,711 209,703 213,689 221,683 221,677 231,665 241,663 253,673 267,673 271,667 279,669 309,639 313,627 335,611 335,597 331,593 333,585 315,563 309,563 287,541 287,535 293,529 307,529 309,525 323,521 333,511 333,505 349,479 349,469 357,459 365,425 377,433 383,433 395,445 395,451 409,463 407,467 421,483 421,501 411,501 411,527 417,531 415,547 421,551 419,559 425,563 423,571 429,575 427,583 433,587 431,595 437,599 437,629 431,633 433,649 427,653 427,703 433,707 431,713 439,721 445,719 451,725 463,715 467,717 471,711 477,711 481,717 513,715 511,711 521,703 519,687 525,683 523,675 541,657 547,657 549,649 561,639 561,633 573,615 571,607 581,595 579,583 589,573 597,571 597,565 605,559 603,555 611,547 615,549 619,543 627,545 631,539 673,539 677,545 709,545 721,537 741,545 745,541 755,541 769,531 769,525 773,523 773,507 765,495 765,461 773,453 771,443 777,437 775,427 781,421 781,403 775,397 777,391 771,385 773,383 767,377 769,375 763,369 765,367 759,361 761,359 755,353 757,351 751,345 749,335 735,317 733,307 723,297 721,287 711,277 713,275 699,257 697,247 671,213 673,211 667,205 665,195 653,183 647,161 623,141 595,133 589,127 587,129 577,115 577,101ZM431,435 451,423 469,431 489,455 483,463 485,469 481,473 471,471 467,475 451,469 431,449ZM589,137 597,135 601,139 613,139 619,147 603,149Z" fill="#fff400"/>
<path fill-rule="evenodd" d="M205,845 201,849 201,871 207,871 209,875 227,871 227,845ZM93,781 93,787 101,791 101,809 93,813 97,819 139,823 155,811 151,805 151,793 139,781ZM981,765 973,777 973,787 985,803 995,807 1007,799 1011,785 1007,783 1003,769 995,765ZM1053,773 1053,789 1067,799 1071,799 1077,791 1081,795 1099,795 1107,787 1107,765 1083,753 1077,753 1065,769 1057,769ZM657,653 661,683 677,699 681,715 695,715 723,691 723,685 711,669 691,661 675,649ZM605,601 605,623 617,639 625,643 647,643 655,635 655,629 643,609ZM649,101 653,107 653,131 689,191 729,219 777,267 793,291 809,331 809,347 813,351 817,395 821,399 825,427 849,475 917,543 925,563 957,599 969,639 977,651 977,663 985,683 985,719 993,727 1037,727 1049,735 1067,735 1087,711 1087,703 1095,687 1107,675 1143,659 1167,659 1167,529 1123,521 1095,501 1095,483 1103,467 1115,455 1131,447 1167,443 1167,101ZM1061,411 1073,427 1073,441 1061,453 1049,453 1041,461 1031,457 1023,445 1023,435 1031,415 1035,411ZM41,101 41,715 85,715 93,723 135,723 139,719 145,723 167,723 171,719 195,723 199,719 199,711 231,663 241,663 253,671 279,667 307,639 311,627 335,611 331,585 323,573 287,541 287,535 295,527 307,527 331,511 355,459 359,435 365,423 381,431 397,447 421,483 421,503 419,505 413,501 413,527 417,531 417,547 437,599 437,629 433,633 433,649 429,653 429,703 433,707 433,715 449,723 455,723 471,711 481,715 511,715 519,703 523,675 543,655 547,655 559,639 579,595 579,583 595,571 611,547 631,539 711,543 721,535 743,543 767,531 771,523 771,505 763,493 763,463 771,455 771,443 779,423 779,401 775,397 775,389 743,325 735,317 695,245 671,213 663,193 651,181 647,161 623,141 587,129 575,113 575,101ZM431,435 451,423 469,431 489,455 485,469 481,473 469,473 467,477 451,469 431,449ZM587,137 599,135 601,139 615,139 621,147 603,149Z" fill="#ffdf00"/>
<path fill-rule="evenodd" d="M205,845 201,851 201,869 211,875 219,875 227,869 227,845ZM93,783 101,789 101,811 93,813 99,819 137,823 155,811 151,807 151,795 137,781ZM983,765 977,771 973,785 981,799 995,807 1007,799 1007,791 1011,787 1001,769ZM1107,767 1101,761 1079,753 1067,769 1059,769 1053,775 1053,789 1067,799 1077,791 1083,795 1097,795 1107,785ZM667,649 657,655 661,681 677,697 681,713 693,715 723,687 709,669 689,661 673,649ZM605,601 605,621 609,631 617,633 617,639 627,643 645,643 655,633 641,609ZM649,101 653,105 653,129 689,189 731,219 777,265 793,289 809,329 809,345 813,349 817,393 821,397 825,425 849,473 917,541 925,561 957,597 969,637 977,649 977,661 985,681 985,717 995,727 1039,727 1051,735 1065,735 1087,709 1087,701 1095,685 1105,675 1141,659 1167,659 1167,529 1121,521 1095,503 1095,481 1103,465 1113,455 1129,447 1167,443 1167,101ZM1031,413 1063,411 1073,425 1073,443 1063,453 1051,453 1043,461 1029,457 1023,447 1023,433ZM41,101 41,715 87,715 95,723 133,723 137,719 147,723 165,723 169,719 193,723 229,663 243,663 255,671 277,667 307,637 311,625 335,609 331,587 323,575 287,543 287,533 293,527 305,527 321,519 331,509 355,457 359,433 365,423 383,431 397,445 421,481 421,503 417,505 413,501 413,525 417,529 417,545 437,597 437,631 433,635 433,651 429,655 429,701 433,705 433,713 451,723 469,711 479,711 483,715 511,713 519,701 523,673 541,655 547,655 547,649 559,637 571,613 571,605 579,593 579,581 589,571 595,571 595,565 609,547 629,539 709,543 721,535 741,543 761,535 771,521 771,507 763,495 763,461 771,453 771,441 779,421 775,391 743,327 735,319 695,247 671,215 663,195 651,183 647,163 621,141 585,129 575,115 575,101ZM431,433 449,423 471,431 489,453 485,471 465,477 449,469 431,451ZM587,137 599,135 603,139 615,139 621,147 601,149Z" fill="#ffca00"/>
<path fill-rule="evenodd" d="M207,845 201,851 203,869 217,875 225,869 227,847ZM93,783 103,791 103,809 99,815 95,813 99,819 117,817 123,823 137,823 153,811 149,807 151,795 137,781ZM983,765 977,771 979,773 973,779 973,785 987,803 1001,803 1007,797 1007,779 1001,769ZM1107,767 1101,761 1099,763 1093,757 1087,759 1079,753 1065,771 1059,769 1053,775 1055,791 1063,793 1067,799 1077,789 1083,795 1097,795 1107,785ZM667,649 657,655 657,669 663,675 661,681 679,697 677,701 683,707 681,713 693,715 723,687 709,669 705,671 701,665 689,663 683,655ZM605,603 605,621 611,625 609,629 619,635 619,639 623,637 627,643 645,643 655,633 641,609 635,611 629,605 619,607 613,601ZM649,101 655,107 653,129 667,147 665,149 671,155 669,157 677,173 691,187 689,189 693,189 727,219 729,217 779,267 777,269 795,291 793,293 803,307 801,313 807,319 805,325 811,331 809,345 815,351 813,365 819,371 817,393 823,399 821,409 827,415 825,425 831,431 829,433 835,439 833,441 839,447 837,449 843,455 841,457 847,463 849,473 919,543 917,545 923,551 925,561 959,599 957,601 963,607 961,613 967,619 965,625 971,631 969,637 979,651 977,661 983,667 981,677 987,683 985,717 995,727 1037,725 1051,735 1065,735 1087,709 1085,703 1091,697 1093,687 1107,673 1109,675 1131,661 1137,663 1143,657 1167,657 1167,531 1159,531 1153,525 1135,527 1129,521 1123,523 1093,501 1093,483 1099,477 1101,467 1115,453 1117,455 1131,445 1149,447 1155,441 1167,441 1167,101ZM1061,409 1075,425 1075,443 1063,455 1051,453 1039,463 1033,457 1031,459 1021,445 1021,435 1027,429 1025,423 1035,409ZM41,101 41,713 85,713 95,723 133,723 139,717 147,723 165,723 171,717 177,717 183,723 193,723 199,717 197,711 207,701 209,691 219,681 217,679 227,669 225,665 229,661 241,661 255,671 265,671 271,665 277,667 307,637 309,627 335,609 335,599 329,593 331,587 321,577 323,575 285,541 285,535 295,525 305,527 311,521 321,519 331,509 329,507 347,477 345,471 355,457 353,451 359,445 357,435 365,421 371,427 381,429 399,447 397,449 411,463 409,465 423,483 423,503 419,507 413,503 413,525 419,531 417,545 423,551 421,557 427,563 425,569 431,575 429,581 439,599 439,629 433,635 435,649 429,655 429,701 435,707 433,713 451,723 471,709 477,709 483,715 511,713 509,711 519,701 517,687 523,681 521,675 543,653 545,655 545,651 559,637 557,635 571,613 569,607 579,593 577,583 591,569 595,569 593,567 611,545 613,547 619,541 625,543 631,537 675,537 679,543 709,543 721,533 727,539 733,537 741,543 747,537 753,539 767,529 765,527 771,521 771,507 761,487 761,463 771,453 769,443 775,437 773,425 779,421 779,403 773,399 775,391 765,379 767,375 757,363 759,359 753,353 755,351 749,345 747,335 741,331 743,327 729,311 731,307 721,297 719,287 709,277 711,275 697,257 695,247 669,213 667,203 661,199 663,195 649,181 647,163 621,141 619,143 623,147 617,151 595,147 587,139 589,133 597,133 603,139 613,137 607,139 601,133 595,135 589,129 585,131 581,127 583,123 573,113 573,101ZM429,435 441,425 445,427 449,421 459,427 463,425 467,431 471,429 491,455 485,463 487,471 483,475 471,473 467,479 453,469 449,471 429,449Z" fill="#ffb500"/>
<path fill-rule="evenodd" d="M205,847 203,869 217,873 219,867 225,869 225,847ZM95,783 115,787 109,795 109,807 115,813 107,817 97,815 137,821 149,813 149,795 137,783ZM1067,771 1059,771 1055,775 1055,789 1059,793 1063,793 1057,789 1055,779 1061,771ZM983,767 975,779 975,785 981,797 995,805 1007,797 1005,791 1009,785 1005,783 1001,771ZM1079,755 1071,767 1073,765 1085,785 1077,789 1083,793 1097,793 1105,785 1105,767ZM91,715 95,721 133,721 99,721ZM509,709 505,713 483,713 509,713ZM197,709 197,715 191,721 183,721 193,721 197,717ZM435,705 435,713 439,717 447,717 441,717 435,711ZM659,655 663,681 667,685 669,683 679,695 683,713 693,713 721,689 709,671 703,673 701,667 687,663 681,655 667,663 667,669 663,671 659,663 663,655ZM715,683 719,687 715,693ZM305,633 275,665 269,665 277,665 305,637ZM607,603 607,621 619,637 625,637 627,641 645,641 653,633 651,631 647,637 645,635 649,623 641,611ZM333,599 331,609 325,613 333,609ZM323,583 329,589 329,595 329,587ZM309,567 321,579 321,575ZM415,505 417,525 415,511 419,507ZM329,505 317,517 321,517ZM1047,461 1055,455 1063,455 1051,455ZM399,445 399,449 409,457ZM651,101 655,103 655,129 667,143 679,173 691,189 695,189 711,205 717,205 727,217 733,217 779,263 779,269 795,287 795,293 803,303 803,313 807,315 807,325 811,327 811,345 815,347 819,393 823,395 827,425 831,427 851,473 919,539 927,561 959,595 963,613 967,615 967,625 971,627 971,637 979,647 983,677 987,679 987,717 995,725 1041,725 1051,733 1065,733 1085,709 1085,699 1089,697 1093,683 1103,673 1117,669 1113,667 1105,671 1103,669 1135,649 1167,641 1167,543 1133,535 1119,527 1129,523 1119,523 1105,511 1099,511 1093,505 1093,481 1089,505 1069,479 1031,467 1027,463 1029,461 1037,465 1043,463 1035,463 1033,459 1025,457 1025,451 1021,449 1021,431 1025,429 1025,419 1029,417 1031,409 1065,409 1069,413 1065,409 1067,405 1099,437 1167,429 1167,101ZM953,587 955,585 959,589 955,591ZM949,583 951,581 955,585 951,587ZM929,559 931,557 933,561 931,563ZM925,549 927,547 931,553 927,555ZM1113,523 1117,521 1121,525 1117,527ZM1105,519 1109,517 1111,521 1109,523ZM1101,515 1105,513 1107,517 1105,519ZM1089,505 1091,503 1095,509 1093,511ZM851,461 919,527 927,543 925,549 921,541 853,473 849,465ZM997,381 1001,379 1003,385 1001,387ZM997,375 999,379 993,379 967,409 963,405 965,399 987,377ZM789,279 791,277 793,281 791,283ZM781,267 783,265 785,269 783,271ZM41,101 41,703 77,703 117,711 169,709 189,701 221,663 221,673 225,669 221,663 223,659 243,661 245,657 257,657 277,647 289,635 305,605 303,583 279,545 281,523 289,503 295,497 317,501 337,479 337,493 349,461 345,467 341,465 345,447 339,439 329,437 327,433 337,423 351,417 363,417 365,421 371,417 377,421 371,425 381,421 407,439 417,439 425,433 429,451 429,431 437,429 433,425 437,421 441,425 445,425 441,421 445,417 449,421 457,421 459,425 467,421 471,425 467,429 475,425 483,433 481,437 475,433 491,451 491,461 487,463 487,471 491,475 487,479 483,475 471,475 485,479 455,493 443,505 435,531 437,559 447,593 443,613 439,597 439,631 443,635 439,643 435,635 435,651 439,653 435,663 431,655 431,701 435,681 441,699 451,707 467,705 469,709 479,709 481,705 501,705 513,689 515,701 511,705 517,701 515,679 517,677 521,681 521,671 539,653 545,653 545,647 557,637 555,629 561,629 561,623 569,613 569,603 573,601 571,591 573,589 577,593 577,579 587,569 593,569 593,563 601,557 601,551 607,545 625,541 627,537 677,537 679,541 709,541 711,537 717,537 717,531 723,533 719,531 723,525 729,527 727,537 737,537 741,541 743,537 753,537 765,529 765,523 769,521 769,507 761,495 761,461 769,453 773,425 769,423 765,393 753,369 757,359 753,357 745,335 741,339 737,335 741,327 733,321 733,315 729,319 725,315 729,307 721,301 717,287 709,281 709,275 697,261 693,247 685,241 685,235 669,217 665,203 661,207 659,205 661,195 649,183 645,163 621,143 621,151 603,151 593,147 585,139 585,135 591,133 583,131 581,123 573,117 573,101ZM551,635 553,633 555,637 553,639ZM341,469 343,477 339,481 337,475ZM489,463 491,461 493,465 491,467ZM485,443 487,441 491,447 489,449ZM767,435 769,433 771,437 769,439ZM749,359 753,357 755,363 753,365ZM747,351 749,349 751,353 749,355ZM743,343 745,341 747,345 745,347ZM733,325 735,323 739,329 737,331ZM721,307 725,305 727,309 725,311ZM709,287 713,285 715,289 713,291ZM699,267 701,265 703,269 701,271ZM687,247 689,245 691,249 689,251ZM655,195 657,193 659,197 657,199Z" fill="#ff9f00"/>
<path fill-rule="evenodd" d="M1001,771 997,771 1007,787 1003,789 1003,797 993,801 979,789 987,801 1001,801 1005,797 1005,789 1009,787 1005,785ZM683,669 675,677 675,685 683,693 683,699 693,699 703,689 703,679 695,671ZM1015,535 1003,545 999,601 995,617 987,629 987,645 1005,667 1021,669 1033,661 1037,649 1053,629 1065,621 1089,617 1101,605 1105,585 1097,567 1087,559 1067,561 1049,543ZM675,101 675,137 681,165 679,173 681,169 687,175 687,181 765,213 783,225 819,267 839,311 839,329 833,337 833,351 839,359 835,397 843,415 875,441 919,459 941,459 957,453 971,433 969,423 957,407 965,379 985,365 999,371 1005,383 1005,409 999,409 999,385 993,381 983,399 983,421 1001,421 1025,405 1047,377 1055,351 1067,341 1079,341 1097,355 1135,365 1167,365 1167,101ZM981,251 983,249 987,253 983,255ZM977,245 979,243 983,249 979,251ZM993,235 997,233 999,239 997,241ZM975,227 977,243 973,241ZM993,223 993,233 989,227ZM41,101 41,633 85,637 127,653 147,653 165,663 179,663 205,653 239,625 253,621 263,611 263,597 245,581 239,569 237,549 245,525 257,503 271,489 297,477 315,461 327,423 343,405 357,397 391,399 405,415 421,415 435,401 445,397 465,397 477,403 501,427 515,451 515,495 507,513 493,523 487,533 487,543 475,571 467,623 455,655 453,675 463,689 483,689 497,681 541,631 555,607 565,559 575,547 599,537 617,533 645,533 647,529 705,531 725,523 745,525 757,517 765,505 765,499 761,499 761,493 755,489 749,425 727,391 729,355 705,303 671,249 661,225 637,197 637,189 647,179 649,171 641,159 627,157 617,165 611,165 603,155 605,151 599,151 597,147 591,151 583,149 579,159 575,155 575,141 555,135 529,101ZM739,509 741,515 737,517 733,513ZM695,409 699,405 715,409ZM395,343 405,343 401,347ZM441,245 443,241 447,243 443,247ZM441,225 443,223 447,229 443,231ZM495,129 509,133 519,149 513,165 505,171 485,171 477,163 477,147 481,139Z" fill="#ff8a00"/>
<path fill-rule="evenodd" d="M189,591 181,597 175,595 159,613 163,631 179,645 205,637 219,623 213,609ZM1067,567 1051,563 1041,567 1031,577 1027,585 1027,599 1033,609 1041,613 1061,613 1077,603 1081,595 1081,581ZM531,563 517,563 515,559 507,557 499,559 499,597 495,601 495,613 487,625 487,631 483,633 483,639 475,645 475,651 463,667 463,681 469,679 475,683 489,673 541,617 539,615 549,605 547,595 553,589 553,579ZM993,381 987,403 997,409 999,387ZM1011,371 1001,377 1005,381 1007,409 1017,403 1021,393 1021,381ZM687,117 687,143 683,147 683,165 687,173 699,181 727,185 731,189 739,189 741,193 759,193 767,185 777,185 797,201 805,203 831,227 831,235 843,259 849,263 863,291 887,323 895,345 873,367 865,367 849,375 843,387 847,405 857,413 885,413 921,429 943,425 949,419 953,409 953,375 945,363 945,357 921,337 925,327 943,313 957,325 981,335 985,341 993,341 997,345 1019,345 1033,327 1033,315 1061,295 1061,283 1067,273 1073,273 1079,279 1083,295 1093,305 1153,309 1157,313 1167,313 1167,101 695,101 691,115ZM973,209 983,209 997,223 997,231 1007,245 1005,267 995,267 993,261 987,261 975,251 975,245 971,243ZM41,101 41,549 69,549 79,553 91,545 99,545 127,525 135,525 143,517 153,521 169,521 173,525 191,525 193,519 217,499 225,483 225,447 237,435 237,429 245,433 269,461 279,461 281,465 289,465 313,441 311,439 319,431 319,423 329,409 333,351 339,345 355,337 355,349 359,349 365,343 365,335 377,323 377,317 387,323 397,315 401,319 401,333 383,333 379,337 379,367 393,377 403,377 407,381 437,381 449,371 441,349 441,315 445,307 479,305 495,293 503,293 507,289 521,289 543,319 517,327 515,333 509,335 503,347 499,403 507,413 525,417 539,431 539,439 547,455 551,487 579,519 579,523 587,529 601,527 605,531 643,531 647,527 711,527 715,523 735,523 763,503 755,503 749,495 749,471 745,467 745,455 733,425 723,415 695,413 689,407 689,379 703,379 711,375 719,361 711,347 705,345 705,331 697,311 693,307 679,309 675,303 659,301 667,289 677,287 677,275 669,263 657,257 657,231 649,219 635,221 637,255 633,259 631,241 627,237 629,225 617,219 595,197 595,189 589,179 565,175 559,165 543,163 535,169 535,197 521,211 505,219 493,219 489,225 481,227 473,237 473,253 463,269 447,275 439,271 429,257 443,239 437,209 427,199 411,195 405,185 405,163 409,159 409,143 413,139 413,107 417,101ZM741,507 741,515 735,517 733,513ZM545,323 557,321 567,331 565,343ZM441,285 447,293 435,313 435,351 443,369 433,375 411,375 391,367 385,361 385,343 403,339 403,327 407,321 399,313 389,313 385,317 381,305 393,297 419,293ZM171,265 189,269 207,295 207,319 211,321 211,331 219,341 215,345 215,357 205,367 197,367 193,371 177,361 167,343 161,343 149,335 137,313 145,283 159,269 167,269ZM645,223 653,231 653,255 643,261 639,257 639,227ZM579,185 585,185 597,203 595,211 581,201 577,193Z" fill="#ff7500"/>
<path fill-rule="evenodd" d="M189,593 183,599 175,597 161,615 167,621 165,629 177,641 185,643 189,637 195,637 195,633 207,633 217,623 209,615 211,611 203,603 197,603ZM1051,565 1033,579 1029,597 1035,603 1033,605 1043,611 1061,611 1075,601 1079,583 1065,569ZM549,577 547,579 537,569 533,571 529,565 517,567 513,561 509,563 505,557 501,559 503,601 499,601 499,615 489,627 491,631 485,635 487,637 477,647 479,649 469,659 471,663 465,667 467,673 463,679 469,677 475,681 523,637 521,635 537,619 537,613 545,607ZM993,383 989,387 989,401 997,407 999,387ZM1011,375 1003,377 1007,383 1007,407 1019,393 1019,383ZM391,369 395,375 403,375 407,379 437,379 441,375 409,377ZM401,331 399,337 385,335 381,339 383,367 383,341 387,337 401,337ZM403,319 401,327 405,323ZM649,221 637,223 639,253 637,227 643,221 651,225ZM689,119 691,129 685,165 691,175 705,181 725,181 743,191 757,191 765,181 777,181 787,191 791,189 799,199 801,197 811,207 813,205 835,225 833,233 839,237 841,249 847,253 845,257 863,279 865,289 875,299 873,301 883,311 881,313 891,323 889,325 895,329 893,333 899,339 899,345 873,371 867,369 849,379 849,405 859,411 885,409 891,415 897,413 903,419 905,417 911,423 917,421 923,427 941,423 947,417 951,375 943,359 939,359 917,337 931,315 937,315 941,309 987,339 993,337 999,343 1017,343 1031,325 1029,315 1059,293 1057,281 1063,277 1061,273 1065,269 1073,269 1083,279 1081,285 1095,303 1115,301 1119,307 1155,305 1159,311 1167,309 1167,101 699,101ZM973,205 981,205 995,215 1003,239 1011,245 1009,269 993,271 989,267 991,263 985,263 973,251 969,243 969,209ZM41,101 41,545 69,545 77,551 81,545 85,547 91,541 97,543 127,521 133,523 143,513 151,513 155,519 169,517 175,523 189,523 189,519 215,497 213,495 223,481 221,447 235,433 233,429 237,425 243,431 245,429 271,459 277,457 283,463 289,463 311,441 309,437 317,431 317,421 327,409 325,381 331,377 329,349 339,341 349,339 353,333 359,337 359,345 363,341 361,335 375,321 373,317 377,313 385,321 395,313 397,315 391,313 387,319 383,317 377,307 385,299 399,293 401,295 407,289 417,291 423,285 433,287 439,281 451,291 445,299 447,303 477,303 493,289 501,291 505,285 523,285 539,307 537,309 547,313 545,317 559,317 571,331 571,347 565,351 561,341 539,323 525,331 519,329 519,333 513,339 511,337 511,343 505,347 507,375 501,379 501,401 507,405 507,411 513,409 519,415 525,413 543,431 541,437 551,455 549,469 555,475 553,485 587,527 603,525 605,529 643,529 645,525 711,525 713,521 735,521 737,519 733,519 731,513 739,505 747,509 743,515 757,507 751,505 747,495 745,469 737,449 739,443 731,427 721,417 697,415 687,407 685,379 691,373 701,377 711,373 717,361 709,349 705,351 701,347 703,331 693,309 677,311 675,305 663,305 665,311 661,313 655,307 657,297 663,295 663,289 675,285 671,267 655,259 655,231 653,259 649,263 641,263 637,257 639,269 633,271 629,267 629,241 625,239 627,227 623,227 599,203 597,213 587,211 573,193 575,183 583,181 595,197 589,181 565,179 557,167 543,165 537,171 539,199 523,215 519,213 515,219 511,217 505,223 495,221 485,231 483,229 475,237 475,255 469,259 471,263 465,267 467,271 463,275 455,273 447,279 441,273 437,275 433,271 435,267 425,257 425,253 429,249 433,251 433,245 443,237 437,231 435,211 425,201 419,203 413,197 409,199 405,195 407,191 401,187 401,161 407,157 405,143 411,137 409,107 415,101ZM169,261 183,261 199,273 197,277 211,293 209,317 215,323 213,329 223,341 217,347 219,357 207,371 199,369 195,375 185,369 181,371 173,363 175,359 169,353 171,351 143,333 143,327 137,323 139,319 133,315 133,309 139,305 137,289 143,285 141,281 157,265 165,267Z" fill="#ff6000"/>
<path fill-rule="evenodd" d="M181,605 173,615 175,625 185,635 199,631 203,627 203,611 197,605ZM521,583 515,583 505,591 501,613 507,625 525,621 533,611 533,591ZM1051,573 1041,579 1041,597 1051,603 1061,603 1071,587 1061,573ZM579,431 575,443 575,473 585,493 601,505 645,513 663,523 689,523 701,517 725,513 741,497 741,475 717,419 687,415 681,409 681,399 669,379 657,379 649,387 641,407 615,405 589,419ZM927,369 925,385 933,387 935,375ZM915,369 911,375 911,385 917,389 919,371ZM937,365 941,369 943,389 945,369ZM531,341 519,351 519,373 533,385 545,385 553,379 557,369 555,355 545,343ZM1001,281 995,283 977,303 979,317 997,329 1005,329 1013,323 1013,313 1007,309 1007,287ZM665,269 661,269 661,293 669,285ZM491,251 491,269 497,275 543,275 569,281 587,293 637,313 647,335 661,347 681,343 691,331 693,321 683,309 679,313 669,313 667,309 661,315 647,315 643,311 655,295 653,269 643,267 639,275 625,277 617,265 617,259 609,251 589,243 565,223 539,223 521,235 503,239ZM679,313 683,311 685,315 681,317ZM687,159 691,173 697,173 699,177 727,165 739,181 749,183 757,179 767,165 781,165 809,181 839,211 847,245 867,263 883,293 901,305 941,301 963,295 969,289 975,273 961,249 961,237 969,219 969,205 973,201 981,201 989,211 993,211 1019,245 1019,265 1025,283 1013,291 1013,307 1025,301 1031,283 1045,277 1063,257 1069,255 1079,257 1103,279 1115,285 1167,283 1167,101 761,101 763,109 777,121 777,141 773,147 763,153 739,149 727,155 699,147ZM41,477 87,477 145,471 161,465 169,455 173,441 173,405 169,391 149,353 125,329 117,301 121,279 129,263 145,247 159,241 193,245 209,253 219,263 273,349 273,357 259,383 263,405 273,413 287,415 301,403 303,387 289,361 289,351 303,337 347,309 389,293 397,283 401,269 397,223 377,177 373,153 373,101 41,101Z" fill="#ff4a00"/>
<path fill-rule="evenodd" d="M689,513 685,519 667,517 667,521 687,521ZM595,467 597,479 607,489 629,487 661,499 681,495 695,507 727,505 733,499 735,485 729,467 723,467 709,455 697,455 659,441 639,439 625,449 613,447ZM127,347 103,347 79,359 71,367 69,377 75,395 91,413 103,419 125,417 137,405 141,393 137,391 137,357ZM129,403 131,401 133,405 131,407ZM133,395 135,393 137,397 135,399ZM1015,293 1013,305 1019,301ZM1001,285 991,291 985,301 987,309 999,319 1011,315 1005,311 1005,287ZM1105,243 1109,265 1117,269 1137,265 1141,245 1135,239 1117,237ZM851,223 851,241 855,241ZM49,199 41,199 41,311 61,303 87,277 101,253 101,235 97,227ZM809,101 805,115 807,145 827,163 829,171 835,173 835,181 843,189 849,189 849,193 861,201 877,221 879,241 887,261 887,283 895,289 909,289 911,285 929,283 943,295 961,293 967,285 967,277 963,269 949,265 941,257 939,247 949,233 945,231 959,229 967,219 965,195 973,185 983,187 989,209 995,209 1003,219 1009,213 1015,227 1023,233 1059,225 1073,215 1085,197 1085,173 1081,169 1071,169 1065,149 1055,145 1085,123 1089,101ZM41,101 41,123 55,125 97,145 143,185 175,195 197,187 209,193 215,205 263,225 275,241 275,277 287,297 295,301 307,301 297,301 297,297 315,299 317,297 313,295 321,295 333,281 349,245 349,235 345,231 349,229 349,211 353,209 353,203 349,201 353,197 325,157 321,143 321,101ZM321,289 323,287 325,291 323,293Z" fill="#ff3500"/>
<path fill-rule="evenodd" d="M685,477 689,491 701,503 725,503 731,497 731,473 727,469 701,465ZM645,457 637,465 637,479 645,487 659,487 667,479 667,465 659,457ZM127,349 121,349 109,357 105,397 101,401 109,411 127,407 127,401 135,391 135,357ZM897,257 889,261 889,283 907,287 909,283 915,283 915,261ZM41,225 41,275 55,267 87,263 91,259 91,237 79,229 55,229 51,225ZM945,197 937,205 937,219 945,227 959,227 967,217 967,207 959,197ZM335,189 325,193 309,193 305,201 305,209 297,225 297,237 285,261 289,291 297,295 311,295 313,291 319,291 323,263 347,227 347,211 351,205ZM1031,181 1017,185 1013,193 1013,219 1017,221 1017,227 1023,227 1025,231 1055,211 1055,193ZM1015,201 1019,199 1021,203 1017,205ZM845,157 837,165 837,179 845,187 859,187 867,179 867,165 859,157ZM113,101 121,127 145,163 157,163 165,171 171,171 195,151 217,147 225,159 229,159 245,175 245,191 253,199 263,199 263,175 267,171 269,155 299,135 295,125 295,101Z" fill="#ff2000"/>
<path fill-rule="evenodd" d="M687,479 691,489 703,501 721,503 731,493 729,475 713,467 703,467ZM125,351 111,359 111,373 107,375 107,399 119,405 111,409 125,405 123,399 129,397 129,391 133,389 133,359 129,359ZM291,281 291,289 295,289ZM317,273 317,285 313,289 317,289ZM909,263 913,267 913,277 909,281 913,281 913,263ZM891,263 891,281 895,281 891,277 891,267 895,263ZM41,227 41,273 51,265 85,261 89,257 89,239 77,231 51,231 49,227ZM965,207 963,217 955,225 947,225 957,225 965,217ZM327,195 311,195 311,201 307,203 307,213 303,215 303,223 299,227 299,241 295,243 295,253 291,255 301,269 313,269 317,265 321,269 319,257 325,257 323,251 333,245 333,237 337,237 339,231 341,233 339,225 345,225 345,209ZM1029,183 1027,187 1019,187 1015,199 1021,201 1015,205 1015,217 1019,219 1019,225 1027,227 1037,217 1039,209 1041,217 1053,209 1053,195 1041,187 1031,187ZM1039,187 1043,191 1039,203ZM189,151 179,161 171,153 165,155 163,165 167,169 177,165ZM115,101 119,103 119,117 123,119 123,125 131,131 131,137 133,135 137,139 135,145 139,145 139,153 147,161 157,161 157,157 173,143 177,131 197,137 213,129 221,137 227,157 233,155 235,161 237,159 247,171 247,189 249,179 257,177 261,181 261,193 255,197 261,197 259,171 265,169 265,157 287,137 297,133 293,129 293,101ZM289,135 293,129 295,133 291,137Z" fill="#ff0b00"/>
<path fill-rule="evenodd" d="M117,363 111,387 125,389 129,385 129,365ZM121,383 125,381 127,385 123,387ZM115,377 119,379 117,387 113,385ZM117,367 125,365 127,369 119,371ZM65,235 59,243 63,257 81,257 85,253 85,239ZM77,251 81,249 83,253 79,255ZM63,241 67,243 65,251 61,249ZM73,239 77,237 79,241 75,243ZM65,239 69,237 71,241 67,243ZM313,217 305,223 301,233 309,247 325,247 331,241 331,225 323,217ZM161,135 147,135 143,141 143,149 151,157 169,141ZM149,151 153,149 155,153 151,155ZM153,147 157,145 159,149 155,151ZM147,141 151,143 149,151 145,149ZM159,137 163,139 161,147 157,145ZM251,133 241,139 241,157 255,167 263,161 261,159 271,145 263,135Z" fill="#f40000"/></g>
<path d="M128,130 131,138 140,157 153,160 167,148 174,136 176,130 M210,130 212,133 222,152 234,160 245,172 246,193 260,196 262,169 267,152 288,138 298,129 M308,193 332,189 346,203 343,224 329,244 319,262 317,286 301,293 288,286 284,265 295,238 301,210 308,193 M54,227 85,231 90,244 85,260 54,263 M109,355 123,348 133,361 131,385 123,403 112,410 102,399 105,375 109,355 M140,279 153,265 178,258 195,269 209,293 210,320 219,341 212,365 191,372 174,365 167,348 143,334 133,313 136,293 140,279 M329,430 339,423 363,420 384,430 401,451 418,478 422,500 M410,122 406,139 401,164 398,183 406,195 424,201 432,208 437,224 439,237 432,244 424,252 M470,252 478,232 493,221 514,216 527,208 535,198 535,175 540,164 555,164 561,175 576,177 586,180 594,198 604,211 617,221 625,226 628,265 635,268 638,250 638,221 646,219 651,226 653,255 656,301 680,312 M444,296 465,301 483,293 488,288 501,284 519,283 527,291 535,304 545,314 558,314 566,324 571,348 586,350 604,358 622,368 628,361 635,363 638,384 638,400 M504,400 506,345 517,330 535,322 548,327 561,345 573,366 586,379 597,400 M436,220 438,231 432,241 425,246 423,254 432,269 448,277 463,269 470,252 472,239 482,229 495,220 M520,282 501,286 487,290 480,298 461,301 451,299 444,298 436,315 436,343 444,369 432,375 414,377 395,371 381,364 379,343 383,334 393,337 400,334 402,320 396,311 389,311 383,318 376,309 372,318 366,322 361,334 357,343 355,330 347,335 338,341 330,343 328,352 326,371 325,390 319,409 309,428 300,440 M520,330 508,337 504,352 502,371 499,390 501,402 508,409 520,411 M210,496 195,506 184,522 164,517 143,512 123,522 97,537 71,548 M324,403 308,439 288,460 267,455 252,434 236,424 221,444 221,475 210,496 M760,179 781,183 805,200 829,217 839,244 856,272 873,299 887,320 901,344 915,334 929,313 953,299 980,286 990,275 987,262 973,251 966,238 970,207 980,203 987,210 994,217 1001,234 1008,244 1008,272 1008,306 1028,310 1052,296 1059,272 1070,265 1076,272 1090,299 1104,299 1121,303 1160,306 M918,365 932,363 937,375 935,389 922,389 918,375 918,365 M1015,186 1028,179 1037,189 1035,217 1025,227 1015,220 1013,200 1015,186 M963,403 973,392 987,379 997,377 1001,392 1001,403 M1032,406 1056,406 1070,416 1073,440 1063,451 1049,451 1042,458 M1090,500 1094,478 1104,458 1128,444 1160,440 M167,600 188,593 202,603 215,620 205,631 191,634 178,641 167,631 160,613 167,600 M295,500 288,517 284,541 298,555 315,569 329,586 332,607 322,613 308,624 301,638 288,651 277,662 260,669 246,665 236,658 226,662 205,693 191,720 171,717 153,720 136,717 123,720 92,720 M411,500 415,534 425,569 440,589 M432,900 432,865 425,844 411,840 398,830 394,810 394,785 398,772 367,761 350,758 325,755 298,761 264,768 239,775 238,785 253,796 274,816 288,844 291,865 M205,900 226,865 246,854 264,858 281,861 291,865 M92,782 136,779 147,792 150,806 143,816 129,820 92,813 M198,847 215,844 226,854 222,868 209,871 198,865 198,847 M500,555 513,562 538,569 548,579 544,600 531,620 513,641 493,662 472,679 462,675 469,658 483,638 496,610 500,589 500,555 M414,500 414,521 421,548 426,569 431,586 438,600 434,631 428,665 428,696 434,713 452,720 469,706 489,713 503,713 517,699 517,682 524,665 538,655 551,641 565,617 572,596 579,576 593,565 606,545 627,538 655,534 675,538 703,541 716,534 727,521 737,514 M572,507 586,524 613,528 675,524 727,521 744,510 761,500 M603,600 620,603 641,610 651,631 641,641 620,638 606,624 603,600 M665,596 692,591 723,589 734,607 730,631 723,644 703,648 675,644 667,631 665,596 M655,651 672,648 692,662 710,672 720,686 710,699 692,710 682,713 675,693 661,679 655,662 655,651 M226,929 246,928 260,938 274,958 295,962 315,958 325,969 329,989 331,1003 M140,941 150,952 153,986 160,1013 188,1041 202,1048 212,1062 226,1072 246,1069 260,1058 267,1044 270,1051 274,1079 281,1099 284,1110 M157,1048 167,1065 181,1086 195,1120 209,1148 222,1141 233,1134 246,1130 267,1141 295,1151 322,1158 350,1161 370,1175 377,1185 M167,1168 184,1182 212,1192 233,1199 260,1203 267,1189 274,1199 281,1203 308,1206 336,1213 363,1216 M246,1261 281,1254 315,1254 350,1258 384,1258 401,1261 440,1265 M400,941 434,934 455,917 476,900 M579,1020 606,1007 634,989 648,986 692,993 710,983 730,972 758,969 800,969 M703,979 723,958 737,934 744,900 M558,1079 572,1072 593,1069 606,1079 613,1106 627,1099 637,1086 651,1093 668,1093 679,1099 692,1124 716,1134 720,1106 730,1096 744,1106 761,1099 778,1093 800,1086 M710,1013 727,996 761,993 782,1010 778,1031 761,1044 737,1075 716,1072 706,1044 710,1013 M593,1072 562,1096 538,1117 513,1141 500,1161 507,1175 531,1185 544,1199 551,1223 551,1244 555,1265 M544,1141 562,1134 579,1148 582,1172 575,1192 565,1196 551,1182 544,1161 544,1141 M558,1247 606,1247 675,1247 689,1244 744,1247 778,1244 M428,1203 434,1182 452,1175 483,1172 483,1192 469,1203 448,1206 428,1203 M656,187 669,212 686,236 702,264 715,286 729,310 743,332 756,358 767,380 772,392 774,402 774,418 771,433 768,450 M576,115 579,118 584,128 599,134 617,139 628,146 638,152 M429,430 449,420 473,430 487,451 484,471 463,475 442,464 429,447 429,430" fill="none" stroke="#000" stroke-width="2" stroke-linejoin="round"/>
</g>
<text class="cl" transform="translate(208,155) rotate(-60)">26</text>
<text class="cl" transform="translate(465,150) rotate(15)">25</text>
<text class="cl" transform="translate(638,180) rotate(45)">24</text>
<text class="cl" transform="translate(997,169) rotate(0)">25</text>
<text class="cl" transform="translate(301,244) rotate(-70)">26</text>
<text class="cl" transform="translate(447,268) rotate(0)">25</text>
<text class="cl" transform="translate(442,334) rotate(90)">25</text>
<text class="cl" transform="translate(1083,296) rotate(40)">25</text>
<text class="cl" transform="translate(92,396) rotate(60)">26</text>
<text class="cl" transform="translate(568,423) rotate(30)">25</text>
<text class="cl" transform="translate(493,458) rotate(-90)">24</text>
<text class="cl" transform="translate(740,447) rotate(75)">25</text>
<text class="cl" transform="translate(145,485) rotate(-30)">25</text>
<text class="cl" transform="translate(624,586) rotate(40)">24</text>
<text class="cl" transform="translate(692,624) rotate(0)">23</text>
<text class="cl" transform="translate(987,632) rotate(-90)">24</text>
<text class="cl" transform="translate(1021,627) rotate(0)">25</text>
<text class="cl" transform="translate(143,624) rotate(60)">25</text>
<text class="cl" transform="translate(429,662) rotate(-90)">24</text>
<text class="cl" transform="translate(469,648) rotate(-70)">25</text>
<text class="cl" transform="translate(208,693) rotate(-50)">24</text>
<text class="cl" transform="translate(942,710) rotate(45)">23</text>
<text class="cl" transform="translate(387,751) rotate(0)">23</text>
<text class="cl" transform="translate(884,779) rotate(-80)">22</text>
<text class="cl" transform="translate(175,868) rotate(60)">23</text>
<text class="cl" transform="translate(195,921) rotate(45)">22</text>
<text class="cl" transform="translate(853,872) rotate(-90)">21</text>
<text class="cl" transform="translate(668,983) rotate(0)">21</text>
<text class="cl" transform="translate(863,984) rotate(-50)">19</text>
<text class="cl" transform="translate(157,1024) rotate(45)">21</text>
<text class="cl" transform="translate(596,1055) rotate(0)">20</text>
<text class="cl" transform="translate(775,1045) rotate(-60)">19</text>
<text class="cl" transform="translate(1032,1022) rotate(50)">20</text>
<text class="cl" transform="translate(191,1124) rotate(60)">20</text>
<text class="cl" transform="translate(191,1186) rotate(45)">19</text>
<text class="cl" transform="translate(219,1265) rotate(0)">18</text>
<text class="cl" transform="translate(589,1203) rotate(90)">18</text>
<text class="cl" transform="translate(445,1241) rotate(0)">18</text>
<text class="cl" transform="translate(538,1235) rotate(0)">19</text>
<text class="cl" transform="translate(710,1241) rotate(0)">18</text>
<text class="cl" transform="translate(905,1108) rotate(45)">19</text>
<text class="cl" transform="translate(190,362) rotate(-65)">25</text>
<g clip-path="url(#cB)"><g filter="url(#bl)"><rect x="1554" y="100" width="1128" height="1208" fill="#000099"/>
<path fill-rule="evenodd" d="M1555,101 1555,1307 2681,1307 2681,101Z" fill="#0000cb"/>
<path fill-rule="evenodd" d="M1555,101 1555,1307 2681,1307 2681,101ZM1751,1283 1753,1277 1777,1279 1771,1287 1755,1287ZM1749,1271 1753,1275 1749,1281Z" fill="#0000fe"/>
<path fill-rule="evenodd" d="M1555,101 1555,1307 1643,1307 1643,1275 1647,1273 1647,1263 1665,1245 1689,1229 1699,1229 1715,1241 1727,1241 1729,1245 1739,1245 1741,1241 1771,1241 1783,1259 1783,1265 1777,1271 1783,1277 1801,1277 1811,1265 1811,1259 1825,1245 1851,1245 1857,1249 1861,1245 1869,1245 1877,1237 1891,1237 1901,1249 1909,1251 1905,1255 1907,1259 1909,1253 1913,1255 1915,1275 1933,1275 1931,1285 1927,1277 1919,1279 1925,1287 1927,1307 1931,1307 1933,1285 1937,1287 1937,1307 2083,1307 2085,1267 2089,1271 2087,1307 2111,1307 2107,1287 2079,1223 2077,1211 2077,1221 2071,1221 2071,1207 2075,1207 2073,1199 2073,1205 2067,1205 2069,1189 2063,1189 2063,1183 2051,1165 2051,1151 2055,1143 2073,1133 2079,1133 2081,1137 2087,1137 2099,1145 2103,1141 2103,1147 2111,1145 2113,1149 2109,1153 2113,1155 2147,1153 2147,1159 2123,1159 2147,1169 2159,1185 2159,1179 2163,1177 2163,1191 2169,1191 2165,1195 2173,1195 2171,1205 2173,1201 2177,1203 2175,1211 2181,1211 2177,1215 2189,1229 2201,1233 2201,1247 2215,1257 2225,1255 2229,1259 2229,1269 2225,1271 2223,1263 2201,1293 2199,1307 2217,1307 2215,1287 2219,1283 2221,1307 2371,1307 2371,1279 2375,1277 2375,1271 2389,1261 2399,1261 2413,1275 2413,1307 2681,1307 2681,101ZM2221,1271 2225,1273 2223,1283 2219,1281ZM2081,1243 2085,1245 2083,1267 2079,1265ZM2191,1227 2199,1225 2201,1229 2195,1231ZM2187,1223 2191,1221 2193,1225 2191,1227ZM2077,1221 2081,1225 2079,1243 2075,1241ZM2183,1219 2187,1217 2189,1221 2187,1223ZM2179,1215 2183,1213 2185,1217 2183,1219ZM2157,1165 2161,1167 2159,1177 2155,1175ZM2149,1159 2155,1157 2157,1163 2155,1165ZM2111,1151 2115,1149 2117,1153 2113,1155ZM2095,1139 2099,1137 2101,1141 2097,1143Z" fill="#0031ff"/>
<path fill-rule="evenodd" d="M1555,101 1555,1307 1641,1307 1641,1273 1645,1271 1645,1261 1663,1243 1669,1243 1687,1227 1701,1227 1715,1239 1729,1239 1731,1243 1737,1243 1739,1239 1773,1239 1779,1245 1779,1255 1783,1257 1783,1267 1779,1271 1785,1275 1801,1275 1809,1263 1809,1257 1823,1243 1851,1243 1857,1247 1861,1243 1869,1243 1875,1235 1893,1235 1903,1247 1909,1247 1915,1253 1915,1267 1919,1271 1935,1273 1935,1283 1939,1285 1939,1307 2081,1307 2081,1269 2077,1267 2073,1225 2069,1223 2065,1193 2049,1167 2049,1149 2053,1141 2061,1135 2069,1135 2071,1131 2081,1131 2091,1139 2101,1135 2119,1151 2149,1151 2151,1155 2159,1157 2163,1175 2167,1177 2167,1187 2175,1193 2179,1207 2195,1223 2201,1223 2207,1229 2203,1233 2203,1247 2215,1255 2225,1251 2231,1257 2231,1271 2227,1273 2227,1283 2223,1285 2223,1307 2369,1307 2369,1277 2373,1275 2373,1269 2387,1259 2401,1259 2415,1273 2415,1307 2681,1307 2681,101Z" fill="#0063ff"/>
<path fill-rule="evenodd" d="M1917,1253 1917,1265 1921,1269 1933,1269 1923,1269 1917,1263ZM2205,1235 2205,1245 2213,1249 2205,1243ZM1555,101 1555,1307 1639,1307 1639,1271 1643,1269 1643,1261 1663,1241 1687,1225 1701,1225 1717,1237 1731,1237 1733,1241 1737,1237 1773,1237 1781,1245 1781,1255 1785,1257 1785,1267 1781,1271 1799,1273 1807,1257 1823,1241 1857,1243 1867,1241 1877,1233 1893,1233 1905,1245 1915,1249 1911,1245 1923,1239 1929,1245 1943,1245 1949,1255 1949,1281 1955,1307 2059,1307 2063,1225 2067,1223 2067,1211 2063,1209 2063,1195 2059,1193 2059,1187 2055,1185 2055,1179 2047,1167 2047,1149 2059,1133 2081,1129 2073,1123 2085,1107 2099,1107 2107,1115 2109,1133 2113,1137 2105,1137 2115,1141 2121,1149 2149,1149 2135,1145 2153,1127 2167,1127 2177,1135 2179,1145 2173,1159 2173,1175 2171,1177 2167,1173 2165,1165 2169,1185 2177,1191 2181,1205 2197,1221 2203,1221 2205,1225 2205,1219 2223,1221 2235,1231 2237,1255 2233,1257 2233,1271 2235,1257 2239,1257 2237,1307 2359,1307 2359,1293 2363,1285 2367,1307 2367,1275 2371,1273 2371,1267 2385,1257 2403,1257 2417,1271 2417,1307 2681,1307 2681,101ZM2061,1209 2065,1211 2063,1225ZM2183,1203 2185,1201 2187,1205 2185,1207ZM2057,1195 2059,1193 2061,1197 2059,1199ZM2171,1181 2173,1179 2177,1185 2173,1187ZM2119,1143 2121,1141 2127,1145 2121,1147Z" fill="#0096ff"/>
<path fill-rule="evenodd" d="M2217,1173 2217,1183 2223,1189 2233,1193 2235,1189 2245,1187 2229,1183 2223,1167ZM2231,1189 2233,1185 2237,1187 2233,1191ZM2223,1183 2227,1181 2229,1185 2225,1187ZM2221,1173 2225,1175 2223,1183 2219,1181ZM1555,101 1555,1285 1569,1281 1637,1229 1719,1195 1739,1197 1745,1217 1763,1219 1787,1203 1803,1201 1825,1217 1851,1221 1855,1233 1871,1235 1881,1225 1875,1221 1877,1217 1883,1221 1897,1221 1929,1209 1941,1209 1957,1223 1977,1227 1987,1223 2019,1189 2041,1139 2081,1101 2105,1101 2131,1115 2165,1115 2179,1111 2193,1097 2211,1097 2221,1105 2233,1139 2247,1151 2255,1153 2263,1191 2287,1209 2319,1219 2413,1217 2455,1229 2479,1245 2493,1261 2505,1287 2507,1307 2681,1307 2681,101ZM1867,1227 1871,1225 1873,1229 1869,1231ZM1855,1227 1859,1225 1861,1229 1857,1231ZM1871,1223 1875,1221 1877,1225 1873,1227ZM1851,1221 1853,1211 1861,1209 1863,1205 1877,1211 1875,1219 1871,1215 1857,1215 1857,1221ZM2561,1087 2571,1087 2583,1099 2583,1113 2569,1127 2557,1127 2543,1111 2545,1099Z" fill="#00c8ff"/>
<path fill-rule="evenodd" d="M1555,101 1555,1213 1583,1213 1585,1209 1603,1209 1605,1205 1619,1205 1621,1201 1639,1201 1641,1197 1659,1197 1661,1193 1685,1193 1689,1189 1721,1189 1725,1193 1739,1195 1751,1209 1769,1209 1789,1197 1819,1197 1823,1201 1871,1201 1877,1205 1937,1205 1953,1213 1965,1213 1995,1187 1999,1175 2023,1139 2069,1097 2103,1089 2107,1093 2115,1093 2131,1101 2147,1101 2151,1105 2177,1101 2197,1089 2205,1089 2215,1079 2211,1059 2221,1049 2231,1047 2241,1057 2237,1095 2249,1123 2281,1153 2287,1153 2297,1161 2311,1161 2313,1165 2373,1167 2373,1161 2397,1163 2397,1157 2413,1159 2413,1153 2425,1155 2425,1149 2435,1151 2431,1149 2433,1145 2445,1147 2445,1141 2453,1143 2453,1137 2457,1141 2463,1135 2459,1133 2461,1129 2469,1131 2467,1127 2473,1127 2471,1123 2477,1123 2485,1115 2479,1113 2481,1109 2497,1109 2503,1103 2507,1089 2501,1077 2513,1065 2543,1065 2547,1069 2555,1069 2557,1073 2575,1073 2583,1077 2625,1119 2623,1123 2627,1121 2627,1127 2633,1127 2631,1131 2641,1131 2637,1135 2659,1149 2681,1153 2673,1147 2681,1145 2681,101ZM2657,1143 2671,1141 2673,1145 2661,1147ZM2649,1139 2655,1137 2657,1141 2653,1143ZM2641,1135 2647,1133 2649,1137 2645,1139ZM2455,1137 2457,1133 2461,1135 2457,1139ZM2479,1113 2481,1119 2477,1123 2475,1115Z" fill="#00faff"/>
<path fill-rule="evenodd" d="M1555,101 1555,1211 1579,1211 1583,1207 1599,1207 1603,1203 1635,1199 1639,1195 1655,1195 1659,1191 1683,1191 1687,1187 1721,1187 1741,1195 1753,1207 1767,1207 1787,1195 1821,1195 1825,1199 1873,1199 1877,1203 1929,1201 1953,1211 1963,1211 1993,1185 1997,1173 2021,1137 2067,1095 2087,1091 2091,1087 2105,1087 2109,1091 2117,1091 2133,1099 2149,1099 2153,1103 2175,1099 2195,1087 2203,1087 2213,1077 2209,1059 2221,1047 2233,1047 2243,1057 2239,1093 2251,1121 2285,1151 2317,1163 2367,1163 2371,1159 2407,1155 2431,1143 2439,1143 2463,1127 2481,1105 2495,1107 2505,1093 2497,1077 2511,1063 2525,1061 2545,1063 2561,1071 2577,1071 2585,1075 2637,1127 2661,1139 2681,1143 2681,101Z" fill="#0efff1"/>
<path fill-rule="evenodd" d="M1555,101 1555,1181 1711,1177 1729,1189 1735,1189 1753,1203 1775,1201 1793,1189 1823,1187 1869,1197 1927,1193 1945,1205 1961,1205 1971,1197 1987,1163 2019,1123 2063,1089 2081,1081 2107,1079 2147,1093 2173,1093 2195,1085 2207,1073 2209,1059 2221,1047 2237,1045 2245,1057 2245,1075 2255,1087 2257,1103 2265,1119 2311,1137 2343,1137 2391,1121 2447,1093 2481,1061 2499,1057 2583,1057 2637,1085 2661,1093 2681,1095 2681,101ZM2257,1051 2259,1049 2261,1053 2259,1055ZM2333,1043 2347,1043 2339,1047ZM2347,1041 2349,1037 2353,1039 2349,1043ZM2353,1023 2357,1027 2353,1037ZM2193,1007 2197,1009 2201,1005 2217,1017 2217,1027 2211,1035 2193,1037 2187,1033 2187,1013Z" fill="#1effe1"/>
<path fill-rule="evenodd" d="M1555,101 1555,1145 1639,1145 1653,1149 1671,1161 1683,1161 1711,1153 1715,1139 1725,1125 1743,1125 1753,1135 1753,1153 1737,1159 1735,1163 1731,1159 1725,1167 1729,1169 1729,1181 1733,1187 1747,1197 1767,1197 1785,1181 1789,1183 1805,1173 1843,1173 1861,1157 1869,1157 1881,1167 1883,1183 1875,1189 1893,1189 1903,1173 1935,1171 1955,1163 2009,1109 2049,1081 2067,1073 2067,1069 2073,1071 2097,1061 2109,1061 2117,1067 2131,1067 2135,1073 2139,1069 2141,1077 2159,1081 2161,1085 2167,1085 2169,1081 2183,1081 2197,1069 2207,1069 2209,1057 2219,1047 2227,1045 2223,1039 2213,1035 2193,1039 2183,1029 2179,1015 2197,1001 2203,1001 2223,1013 2233,1033 2251,1039 2255,1037 2261,1043 2261,1053 2269,1061 2277,1063 2275,1067 2293,1083 2297,1091 2297,1087 2301,1087 2303,1107 2307,1105 2309,1109 2331,1111 2343,1097 2343,1081 2331,1063 2327,1047 2333,1041 2343,1041 2351,1033 2351,1023 2357,1017 2387,1029 2409,1043 2421,1039 2431,1025 2441,1021 2467,1021 2509,1043 2535,1045 2543,1037 2543,1015 2549,1009 2569,1009 2583,1025 2607,1037 2647,1049 2681,1053 2681,101ZM1687,1143 1691,1141 1693,1145 1691,1147ZM1683,1135 1687,1133 1689,1137 1687,1139ZM2133,1045 2137,1047 2135,1067 2131,1063ZM2127,1043 2131,1041 2133,1045 2131,1047ZM2111,1039 2127,1037 2129,1041 2113,1043Z" fill="#2dffd2"/>
<path fill-rule="evenodd" d="M2311,1077 2303,1085 2303,1099 2311,1107 2325,1107 2333,1099 2333,1085 2325,1077ZM1555,101 1555,1127 1679,1127 1691,1135 1697,1151 1705,1147 1705,1135 1721,1123 1743,1123 1755,1135 1755,1153 1731,1169 1731,1179 1739,1191 1753,1197 1773,1191 1797,1171 1833,1167 1861,1155 1917,1159 1921,1155 1945,1151 2013,1095 2037,1083 2045,1075 2093,1055 2113,1035 2127,1035 2139,1047 2139,1067 2143,1075 2163,1083 2169,1079 2181,1079 2199,1065 2207,1067 2209,1057 2225,1045 2213,1037 2195,1043 2181,1029 2177,1015 2197,999 2211,1003 2239,1027 2251,1031 2263,1043 2263,1055 2267,1059 2291,1063 2295,1067 2309,1067 2333,1039 2345,1039 2349,1035 2349,1023 2357,1015 2377,1015 2397,1007 2451,1007 2455,1011 2467,1011 2503,1027 2523,1043 2533,1043 2541,1035 2541,1015 2553,1003 2575,1007 2595,1019 2603,1019 2619,1027 2651,1031 2655,1035 2681,1035 2681,101Z" fill="#3dffc2"/>
<path fill-rule="evenodd" d="M2313,1077 2303,1087 2303,1097 2313,1107 2323,1107 2333,1097 2333,1087 2323,1077ZM1555,101 1555,1127 1679,1125 1691,1133 1697,1149 1705,1145 1703,1135 1711,1127 1739,1121 1755,1133 1757,1147 1753,1157 1741,1161 1731,1171 1731,1177 1741,1191 1749,1195 1763,1195 1795,1171 1831,1167 1859,1155 1915,1159 1919,1155 1943,1151 2011,1095 2035,1083 2043,1075 2091,1055 2111,1035 2127,1033 2139,1045 2139,1065 2143,1073 2153,1079 2179,1079 2199,1063 2207,1067 2207,1057 2223,1045 2211,1037 2195,1045 2177,1023 2177,1013 2195,999 2213,1003 2241,1027 2253,1031 2263,1041 2263,1053 2269,1059 2293,1063 2297,1067 2307,1067 2331,1039 2343,1039 2349,1033 2349,1021 2355,1015 2375,1015 2395,1007 2453,1007 2457,1011 2469,1011 2505,1027 2525,1043 2531,1043 2541,1033 2541,1013 2551,1003 2565,1003 2597,1019 2605,1019 2621,1027 2633,1027 2637,1031 2681,1035 2681,101Z" fill="#4cffb3"/>
<path fill-rule="evenodd" d="M1695,1139 1695,1145 1703,1145ZM1669,1123 1669,1127 1675,1125ZM2265,1039 2265,1053 2283,1061 2277,1055 2267,1053ZM2539,1015 2537,1033 2531,1039 2513,1033 2525,1041 2531,1041 2539,1033ZM1555,101 1555,1107 1645,1107 1675,1095 1691,1097 1713,1119 1745,1121 1757,1133 1757,1157 1741,1163 1733,1171 1733,1177 1741,1189 1749,1193 1763,1193 1771,1189 1785,1173 1791,1173 1787,1171 1791,1167 1799,1169 1805,1163 1817,1165 1817,1161 1841,1155 1849,1157 1849,1153 1863,1153 1863,1149 1907,1147 1931,1141 1971,1117 2019,1081 2055,1063 2061,1065 2059,1063 2119,1029 2131,1031 2137,1039 2145,1073 2151,1073 2153,1077 2179,1077 2195,1065 2193,1047 2175,1025 2175,1011 2193,997 2215,1001 2237,1021 2241,1019 2263,1029 2279,1027 2297,1041 2327,1041 2331,1037 2345,1037 2347,1021 2353,1011 2357,1013 2357,1007 2409,995 2467,997 2485,1009 2499,1007 2513,1011 2531,1009 2549,997 2551,1001 2555,1001 2555,997 2571,997 2623,1013 2681,1019 2681,101ZM1753,1075 1769,1073 1777,1081 1779,1093 1771,1093 1773,1097 1767,1103 1757,1103 1745,1093 1747,1081ZM1717,1075 1715,1079 1705,1077ZM1719,1069 1721,1073 1717,1075 1715,1073ZM1721,1067 1723,1065 1725,1069 1723,1071ZM1721,1059 1723,1057 1725,1061 1723,1063ZM1715,1055 1719,1053 1721,1057 1719,1059ZM1711,1051 1715,1049 1717,1053 1715,1055Z" fill="#5cffa3"/>
<path fill-rule="evenodd" d="M1699,1141 1695,1143 1697,1145ZM2163,1029 2149,1053 2153,1067 2161,1071 2181,1069 2187,1061 2187,1043 2179,1035ZM1555,101 1555,1067 1603,1069 1635,1075 1681,1073 1689,1055 1701,1045 1717,1049 1729,1065 1715,1079 1687,1077 1693,1093 1709,1109 1739,1113 1769,1139 1767,1141 1773,1149 1781,1153 1797,1153 1919,1121 2013,1065 2055,1049 2105,1019 2121,1015 2153,1017 2173,997 2191,989 2215,993 2217,997 2245,1009 2287,1009 2333,989 2359,985 2375,975 2407,973 2425,953 2435,953 2437,949 2453,963 2493,965 2527,979 2575,979 2637,989 2681,991 2681,101ZM1811,1075 1815,1073 1817,1077 1813,1079ZM1817,1073 1821,1069 1825,1071 1823,1075ZM1753,1065 1771,1065 1781,1073 1785,1083 1767,1105 1757,1105 1743,1097 1743,1075 1753,1069ZM1827,1057 1829,1069 1825,1071ZM2241,765 2245,767 2243,779 2247,779 2251,785 2249,787 2239,781ZM2245,757 2249,761 2247,767 2243,765ZM2271,743 2275,741 2277,747 2273,749ZM2275,739 2279,737 2281,741 2277,743ZM2259,739 2261,737 2263,741 2261,743ZM2281,721 2285,723 2283,739 2279,737ZM2267,717 2269,721 2261,727 2261,737 2257,739 2255,727ZM2267,717 2269,713 2273,715 2269,719Z" fill="#6bff94"/>
<path fill-rule="evenodd" d="M2165,1035 2151,1053 2155,1067 2177,1069 2187,1057 2187,1047 2175,1035ZM2281,771 2277,775 2277,789 2293,805 2299,799 2299,775 2295,771ZM1555,101 1555,1041 1615,1043 1621,1049 1627,1047 1631,1053 1637,1053 1649,1061 1667,1061 1687,1045 1707,1043 1715,1047 1731,1065 1715,1081 1697,1079 1693,1089 1715,1109 1739,1111 1777,1145 1803,1145 1809,1139 1815,1141 1819,1137 1863,1129 1869,1123 1875,1125 1881,1119 1883,1121 1907,1109 1915,1109 2011,1053 2019,1053 2025,1047 2031,1049 2037,1043 2043,1045 2047,1041 2055,1041 2079,1021 2097,1011 2099,1013 2105,1007 2135,1005 2139,1001 2159,997 2165,991 2171,993 2177,987 2205,989 2249,1005 2283,997 2295,989 2319,965 2317,963 2327,949 2337,945 2341,939 2359,939 2363,945 2373,945 2397,961 2415,961 2425,951 2473,949 2477,953 2487,951 2493,957 2499,955 2505,961 2511,959 2517,965 2529,965 2533,969 2625,969 2629,973 2681,973 2681,101ZM1831,1059 1829,1071 1815,1081 1809,1075 1799,1075 1795,1071 1785,1087 1767,1105 1757,1105 1741,1093 1741,1075 1761,1059 1793,1061 1809,1047 1819,1047ZM2269,711 2271,713 2279,707 2289,713 2287,737 2277,751 2281,753 2293,739 2299,739 2315,751 2309,767 2323,767 2331,775 2329,777 2335,783 2333,793 2351,811 2351,825 2341,839 2319,843 2317,839 2303,837 2303,825 2297,819 2281,819 2271,829 2265,829 2253,817 2255,811 2251,807 2251,799 2237,781 2237,767 2255,745 2253,727Z" fill="#7bff84"/>
<path fill-rule="evenodd" d="M2163,1037 2151,1053 2155,1057 2155,1065 2179,1067 2185,1059 2185,1045 2177,1037ZM2281,773 2279,789 2293,803 2297,797 2297,773ZM1555,101 1555,1039 1601,1039 1605,1043 1629,1047 1649,1059 1667,1059 1687,1043 1709,1043 1731,1061 1731,1067 1715,1081 1703,1079 1695,1083 1695,1089 1713,1107 1733,1107 1741,1111 1777,1143 1803,1143 1819,1135 1863,1127 1907,1107 1915,1107 1939,1091 1959,1083 1967,1075 1987,1067 1995,1059 2011,1051 2055,1039 2079,1019 2115,1003 2135,1003 2175,987 2205,987 2229,999 2245,999 2249,1003 2283,995 2295,987 2317,965 2325,949 2339,939 2361,939 2365,943 2373,943 2397,959 2417,959 2423,951 2433,951 2435,947 2473,947 2477,951 2489,951 2533,967 2625,967 2629,971 2681,971 2681,101ZM1831,1057 1831,1069 1823,1077 1813,1081 1795,1073 1787,1087 1769,1105 1755,1105 1741,1099 1741,1073 1759,1059 1791,1059 1807,1047 1821,1047ZM2267,711 2281,707 2291,713 2287,739 2279,745 2279,751 2291,739 2301,739 2315,749 2311,767 2325,767 2331,773 2335,793 2351,809 2351,827 2341,841 2319,845 2315,841 2303,841 2301,827 2295,821 2281,821 2273,829 2263,829 2253,819 2249,799 2237,783 2237,765 2253,745 2253,725Z" fill="#8aff75"/>
<path fill-rule="evenodd" d="M2165,1037 2153,1053 2157,1057 2157,1065 2179,1065 2185,1057 2185,1047 2175,1037ZM2277,827 2293,823 2299,829 2299,839 2299,827 2295,823 2281,823ZM2281,775 2281,789 2293,799 2297,791 2297,775ZM1555,101 1555,1037 1603,1037 1605,1041 1631,1045 1649,1057 1667,1057 1687,1041 1707,1041 1731,1059 1733,1067 1717,1081 1697,1083 1699,1093 1713,1105 1733,1105 1741,1109 1777,1141 1803,1141 1819,1133 1863,1125 1907,1105 1915,1105 1981,1065 1987,1065 1995,1057 2011,1049 2019,1049 2021,1045 2055,1037 2085,1013 2115,1001 2135,1001 2137,997 2147,997 2175,985 2205,985 2229,997 2245,997 2249,1001 2283,993 2315,965 2315,959 2323,953 2323,947 2337,937 2363,937 2365,941 2383,945 2397,957 2413,959 2423,949 2433,949 2435,945 2475,945 2477,949 2491,949 2493,953 2503,953 2505,957 2513,957 2517,961 2531,961 2533,965 2627,965 2629,969 2681,969 2681,101ZM1833,1059 1831,1069 1817,1081 1807,1077 1799,1079 1795,1075 1789,1087 1767,1107 1757,1107 1751,1101 1743,1103 1739,1099 1739,1073 1759,1057 1791,1057 1799,1049 1819,1045ZM1685,927 1687,925 1689,929 1687,931ZM2279,681 2293,681 2303,691 2303,701 2293,711 2289,737 2279,749 2293,737 2311,743 2317,749 2317,761 2311,765 2325,765 2337,779 2337,793 2353,809 2353,829 2343,843 2333,843 2331,847 2303,843 2315,845 2317,849 2295,855 2283,855 2271,845 2267,835 2273,831 2263,831 2251,819 2247,799 2235,783 2235,765 2251,745 2251,725 2267,709 2271,709 2269,691Z" fill="#9aff65"/>
<path fill-rule="evenodd" d="M1731,1071 1717,1081 1703,1081 1701,1093 1709,1101 1731,1101 1735,1097 1735,1075ZM1761,975 1753,983 1753,989 1757,993 1771,993 1771,979ZM2287,775 2295,791 2295,775ZM2301,737 2293,737 2289,729 2289,739 2281,747 2291,737ZM1555,101 1555,993 1603,989 1621,981 1649,957 1655,929 1671,917 1675,921 1685,921 1689,925 1689,933 1693,933 1703,921 1723,921 1729,931 1727,943 1711,951 1709,947 1693,941 1669,961 1669,969 1677,985 1671,1011 1677,1021 1703,1033 1729,1057 1743,1057 1765,1043 1823,1045 1833,1055 1833,1067 1817,1083 1801,1079 1789,1093 1777,1097 1771,1107 1753,1107 1747,1103 1747,1113 1753,1121 1761,1123 1767,1117 1769,1129 1777,1133 1793,1133 1825,1117 1845,1117 1857,1113 2029,1021 2033,1021 2039,1029 2049,1029 2055,1025 2061,1005 2107,985 2175,973 2195,977 2229,991 2257,989 2271,981 2287,957 2287,931 2255,895 2249,859 2231,809 2227,771 2243,743 2251,719 2265,703 2267,689 2279,679 2289,677 2301,681 2311,697 2305,729 2311,737 2335,751 2357,781 2369,805 2385,873 2405,897 2425,909 2473,921 2529,947 2551,947 2577,941 2681,943 2681,101ZM1755,1115 1759,1113 1761,1117 1757,1119ZM1751,1111 1755,1109 1757,1113 1753,1115ZM1749,1107 1751,1105 1753,1109 1751,1111ZM1775,1101 1777,1113 1769,1119 1767,1115 1771,1113ZM2039,1023 2047,1021 2049,1025 2041,1027ZM2051,1015 2055,1013 2057,1017 2053,1019ZM2031,1019 2031,1007 2035,1001 2053,1001 2059,1007 2055,1011 2051,1007 2037,1007 2037,1017 2041,1021 2037,1023ZM1759,969 1775,973 1779,979 1777,995 1771,999 1755,999 1747,991 1747,981Z" fill="#a9ff56"/>
<path fill-rule="evenodd" d="M1777,1097 1779,1113 1771,1121 1771,1127 1789,1129 1795,1123 1795,1103 1785,1097ZM1729,1073 1715,1083 1705,1081 1703,1091 1711,1099 1729,1099 1733,1095 1733,1077ZM1717,1023 1713,1029 1713,1045 1725,1055 1739,1053 1743,1049 1743,1029 1739,1023ZM1555,101 1555,957 1607,949 1657,917 1683,919 1691,927 1691,933 1705,919 1721,917 1727,923 1729,941 1713,951 1697,943 1685,955 1685,965 1677,987 1677,1003 1687,1013 1695,1013 1699,1017 1727,1019 1731,1017 1727,1013 1731,991 1745,969 1761,965 1777,973 1781,979 1777,1025 1799,1041 1831,1045 1841,1057 1821,1079 1829,1085 1829,1103 1839,1109 1853,1105 1863,1091 1889,1069 1895,1069 1913,1057 1921,1057 1945,1045 1953,1037 1959,1037 1961,1033 1967,1033 1969,1029 1997,1017 2033,989 2065,981 2077,973 2087,973 2089,969 2097,969 2101,965 2111,965 2113,961 2131,961 2133,957 2175,957 2221,985 2249,985 2267,967 2267,955 2271,949 2267,945 2267,935 2231,889 2231,879 2227,877 2227,867 2223,865 2223,855 2219,853 2219,835 2215,833 2215,783 2227,755 2235,747 2245,723 2263,699 2267,687 2277,679 2297,677 2315,685 2345,711 2357,745 2369,759 2369,765 2373,767 2373,773 2377,775 2393,813 2401,823 2401,829 2421,851 2421,857 2449,881 2515,909 2517,927 2523,937 2545,937 2553,917 2681,917 2681,101ZM1723,1017 1725,1013 1729,1015 1725,1019ZM1729,869 1745,869 1751,875 1749,879 1755,883 1741,899 1735,899 1733,895 1729,897 1723,891 1723,875Z" fill="#b9ff46"/>
<path fill-rule="evenodd" d="M1777,1097 1779,1115 1771,1125 1789,1127 1793,1123 1793,1105 1785,1097ZM1727,1073 1717,1083 1703,1083 1703,1089 1713,1099 1727,1099 1733,1093 1733,1079ZM1719,1025 1715,1029 1715,1045 1725,1055 1739,1051 1741,1029 1737,1025ZM1555,101 1555,955 1605,947 1607,943 1629,935 1635,927 1641,927 1655,915 1685,919 1691,925 1691,931 1703,919 1717,915 1723,917 1731,929 1731,941 1713,953 1701,945 1691,949 1687,955 1687,967 1683,969 1683,981 1679,985 1679,1001 1687,1011 1697,1011 1699,1015 1721,1015 1725,1011 1725,1001 1729,999 1729,989 1743,967 1759,963 1775,971 1783,979 1779,1023 1799,1039 1831,1043 1843,1057 1821,1079 1831,1087 1831,1103 1839,1107 1861,1095 1861,1089 1887,1067 1893,1067 1911,1055 1921,1055 1923,1051 1945,1043 1951,1035 1997,1015 2031,987 2065,979 2075,971 2085,971 2087,967 2097,967 2099,963 2109,963 2111,959 2129,959 2131,955 2177,955 2221,983 2247,983 2265,967 2265,955 2269,949 2265,947 2265,937 2253,923 2253,917 2229,891 2229,881 2225,879 2225,869 2221,867 2221,857 2217,855 2217,837 2213,835 2213,781 2217,779 2217,769 2221,767 2225,753 2237,739 2265,687 2275,679 2289,675 2317,683 2327,695 2333,695 2347,709 2363,751 2371,757 2371,763 2375,765 2375,771 2379,773 2379,779 2383,781 2403,827 2423,849 2423,855 2451,879 2517,907 2523,913 2519,917 2523,935 2545,935 2551,915 2681,915 2681,101ZM1745,867 1751,873 1755,887 1743,899 1735,901 1723,893 1723,873 1727,869Z" fill="#c9ff36"/>
<path fill-rule="evenodd" d="M1777,1099 1781,1101 1781,1115 1773,1125 1787,1125 1791,1121 1791,1107 1785,1099ZM1727,1075 1719,1083 1705,1083 1705,1089 1713,1097 1727,1097 1731,1093 1731,1079ZM1727,1077 1731,1083 1727,1095 1717,1097 1707,1089 1709,1085 1717,1085ZM1721,1027 1717,1031 1715,1045 1719,1045 1725,1053 1731,1053 1719,1045 1717,1033 1723,1027 1733,1027 1739,1033 1739,1045 1735,1049 1739,1049 1739,1031 1735,1027ZM2525,929 2525,933 2543,933 2543,929 2539,933 2529,933ZM1555,101 1555,953 1603,945 1655,913 1673,913 1679,919 1685,919 1691,925 1691,931 1703,919 1719,913 1729,921 1733,941 1713,953 1699,945 1691,951 1685,981 1681,985 1681,1001 1689,1009 1697,1009 1701,1013 1719,1013 1723,1009 1723,999 1727,997 1727,987 1743,965 1759,961 1775,969 1785,979 1781,1021 1799,1037 1831,1041 1845,1057 1823,1079 1831,1085 1831,1099 1839,1105 1843,1101 1851,1101 1859,1089 1887,1065 1911,1053 1919,1053 1921,1049 1943,1041 1951,1033 1987,1017 1989,1013 1995,1013 2031,985 2063,977 2065,973 2095,965 2097,961 2107,961 2109,957 2127,957 2129,953 2177,953 2221,981 2247,981 2263,965 2265,949 2259,931 2227,891 2223,871 2219,869 2219,859 2215,857 2215,839 2211,837 2211,781 2223,753 2253,709 2263,687 2269,681 2287,675 2317,681 2349,709 2353,721 2357,723 2357,733 2385,779 2405,825 2425,847 2425,853 2453,877 2459,877 2485,893 2495,893 2521,909 2537,903 2547,907 2551,913 2681,913 2681,101ZM1795,919 1805,937 1797,947 1787,951 1775,941 1773,927 1779,921ZM1743,865 1753,873 1757,887 1735,903 1725,897 1721,889 1721,875 1729,867Z" fill="#d8ff27"/>
<path fill-rule="evenodd" d="M1833,1069 1833,1073 1825,1079 1833,1083 1833,1099 1845,1097 1847,1077ZM1839,1091 1843,1089 1845,1093 1841,1095ZM1839,1079 1843,1077 1845,1081 1841,1083ZM1831,1081 1833,1073 1841,1075 1835,1083ZM1693,951 1703,969 1723,969 1731,957 1727,947 1713,955 1701,947ZM1555,101 1555,921 1603,917 1643,905 1669,905 1677,911 1677,917 1685,917 1693,929 1703,917 1711,917 1713,911 1721,909 1729,915 1729,923 1737,931 1743,949 1761,961 1763,959 1765,965 1781,969 1793,981 1793,1021 1799,1031 1809,1037 1837,1037 1861,1047 1895,1041 1955,1013 2029,969 2123,927 2127,911 2137,909 2139,905 2149,909 2153,917 2133,915 2129,919 2133,925 2127,933 2147,933 2153,917 2179,921 2193,929 2205,961 2217,975 2239,979 2251,969 2255,949 2247,935 2207,913 2203,891 2191,877 2187,865 2187,835 2195,793 2207,765 2265,681 2285,673 2339,673 2351,669 2367,669 2381,679 2385,693 2379,721 2389,747 2405,777 2419,789 2431,789 2445,803 2449,833 2465,853 2517,873 2553,881 2615,889 2681,889 2681,101ZM2143,923 2147,921 2149,925 2145,927ZM1773,917 1787,915 1803,927 1807,935 1805,945 1799,951 1781,949 1769,937 1767,925ZM1751,865 1761,877 1761,891 1753,899 1743,899 1731,905 1727,903 1721,891 1721,875 1729,867Z" fill="#e8ff17"/>
<path fill-rule="evenodd" d="M1761,949 1771,967 1789,969 1795,965 1793,949 1787,953 1773,941ZM2223,939 2213,949 2213,963 2219,973 2235,977 2247,967 2247,945 2237,939ZM1741,901 1729,911 1731,923 1741,933 1753,933 1763,919 1763,909 1753,901ZM1555,101 1555,893 1637,893 1647,889 1651,893 1671,893 1675,897 1691,897 1695,901 1717,901 1721,895 1721,873 1741,861 1755,861 1769,875 1777,903 1795,917 1807,933 1809,945 1801,957 1801,975 1809,993 1801,1009 1801,1027 1813,1037 1833,1033 1837,1029 1873,1029 1915,1013 1917,1009 1923,1009 1925,1005 1931,1005 1933,1001 1971,985 1973,981 1989,977 2021,953 2089,917 2147,865 2147,859 2159,841 2159,831 2167,821 2167,811 2171,809 2183,779 2235,721 2259,683 2267,677 2291,673 2313,661 2337,657 2341,653 2367,653 2383,661 2397,675 2401,689 2389,705 2389,715 2399,725 2409,727 2413,759 2425,783 2459,809 2489,817 2489,823 2507,845 2519,845 2521,849 2555,849 2557,853 2567,853 2569,857 2603,861 2605,865 2681,865 2681,101Z" fill="#f7ff08"/>
<path fill-rule="evenodd" d="M2223,941 2215,949 2215,963 2219,971 2237,975 2245,967 2245,947 2235,941ZM1771,941 1763,949 1767,961 1773,967 1789,967 1793,963 1793,951 1787,953ZM1743,901 1731,911 1731,921 1741,931 1753,931 1761,919 1761,909 1751,901ZM1555,101 1555,891 1637,891 1639,887 1649,887 1651,891 1673,891 1675,895 1717,899 1721,893 1721,873 1741,859 1757,859 1771,873 1779,903 1809,935 1811,947 1803,957 1803,975 1807,977 1811,995 1807,997 1807,1007 1803,1009 1803,1027 1811,1035 1821,1035 1835,1027 1873,1027 1875,1023 1897,1019 1899,1015 1905,1015 1907,1011 1913,1011 1915,1007 1921,1007 1923,1003 1929,1003 1931,999 1937,999 1939,995 1945,995 1971,979 1989,975 1995,967 2001,967 2019,951 2041,943 2047,935 2053,935 2055,931 2077,923 2083,915 2089,915 2107,895 2113,895 2145,863 2145,857 2157,839 2157,829 2165,819 2165,809 2169,807 2181,777 2189,771 2189,765 2225,731 2257,683 2269,675 2293,671 2313,659 2337,655 2339,651 2369,651 2371,655 2385,659 2399,673 2403,691 2395,697 2391,715 2399,723 2411,725 2415,759 2419,761 2423,775 2437,791 2449,795 2459,807 2489,815 2499,835 2507,843 2521,843 2523,847 2557,847 2559,851 2569,851 2571,855 2605,859 2607,863 2681,863 2681,101Z" fill="#fff700"/>
<path fill-rule="evenodd" d="M1769,957 1773,965 1787,965 1793,951 1789,955 1779,951 1791,959 1783,965 1773,963ZM2225,943 2217,951 2215,961 2221,965 2219,969 2237,973 2245,965 2243,947ZM1775,947 1771,943 1765,953 1771,945ZM1739,903 1733,911 1733,921 1741,929 1751,929 1755,921 1749,929 1745,929 1733,915 1741,905 1751,905 1759,913 1757,917 1759,911 1751,903ZM2393,707 2393,713 2401,721 2409,721 2403,721ZM1555,101 1555,889 1635,889 1639,885 1649,885 1653,889 1673,889 1677,893 1693,893 1697,897 1715,897 1721,893 1721,873 1727,867 1733,867 1741,857 1757,857 1773,873 1781,901 1797,917 1813,943 1805,959 1805,973 1809,977 1813,997 1809,999 1803,1025 1811,1033 1821,1033 1833,1025 1871,1025 1875,1021 1895,1017 1971,977 1987,973 2025,945 2039,941 2047,933 2087,913 2143,861 2179,777 2241,709 2255,683 2269,673 2283,673 2311,657 2335,653 2337,649 2369,649 2389,659 2405,679 2405,691 2411,689 2423,703 2423,715 2413,725 2413,737 2417,739 2417,757 2429,781 2461,805 2481,809 2491,815 2509,841 2521,841 2525,845 2559,845 2561,849 2571,849 2573,853 2607,857 2609,861 2681,861 2681,101Z" fill="#ffe700"/>
<path fill-rule="evenodd" d="M1837,819 1833,823 1833,833 1841,841 1847,841 1855,833 1855,827 1849,819ZM1835,823 1839,821 1841,825 1837,827ZM1555,101 1555,863 1667,873 1705,891 1719,893 1721,873 1733,865 1737,853 1749,847 1767,849 1785,867 1797,917 1813,935 1813,941 1821,953 1839,955 1847,961 1847,979 1843,989 1847,989 1855,1001 1887,1003 1959,961 1985,959 1999,937 2067,901 2115,849 2159,773 2179,753 2235,713 2235,707 2243,701 2247,687 2257,675 2291,669 2319,635 2345,627 2419,635 2437,647 2439,661 2433,675 2437,737 2433,745 2433,761 2443,771 2459,771 2463,775 2465,793 2507,825 2527,825 2535,817 2537,799 2551,789 2561,791 2571,801 2575,821 2589,833 2613,839 2681,837 2681,101ZM1883,797 1897,795 1909,803 1911,819 1899,835 1893,835 1891,829 1875,815 1875,807ZM2527,787 2529,785 2531,789 2529,791ZM1797,795 1811,785 1837,789 1851,803 1853,819 1861,825 1861,835 1849,847 1839,847 1833,839 1815,831 1797,813ZM2561,783 2563,781 2565,785 2563,787Z" fill="#ffd700"/>
<path fill-rule="evenodd" d="M1555,101 1555,833 1587,837 1589,841 1599,841 1601,845 1611,845 1613,849 1623,849 1627,853 1651,853 1655,857 1683,857 1685,861 1695,861 1701,867 1701,879 1705,885 1719,891 1719,875 1733,865 1723,857 1731,843 1753,821 1757,823 1757,817 1767,823 1771,821 1803,865 1811,865 1813,869 1843,871 1817,875 1817,885 1823,889 1807,891 1797,903 1799,921 1809,933 1815,933 1827,949 1847,953 1857,959 1857,965 1849,975 1849,989 1855,999 1881,997 1897,969 1917,965 1939,951 1943,939 1947,937 1947,913 1955,911 1949,907 1951,905 2013,909 2045,897 2079,859 2099,829 2119,783 2149,749 2155,749 2173,737 2197,733 2219,721 2239,701 2253,665 2263,665 2271,671 2285,671 2295,661 2291,643 2251,633 2253,609 2263,609 2265,605 2277,605 2281,601 2299,601 2301,605 2307,605 2309,601 2331,601 2333,597 2367,597 2369,601 2395,605 2397,609 2419,617 2441,639 2445,679 2453,695 2457,721 2461,723 2461,731 2469,743 2469,779 2473,783 2473,791 2485,805 2503,817 2521,817 2531,807 2531,793 2527,791 2527,785 2519,773 2537,773 2543,765 2551,771 2555,781 2563,779 2565,791 2581,801 2581,807 2599,821 2633,821 2637,817 2647,817 2649,813 2681,809 2681,101ZM1943,903 1947,901 1949,905 1947,907ZM1939,899 1943,897 1945,901 1943,903ZM1859,891 1861,889 1865,893 1861,895ZM1855,887 1857,885 1861,889 1857,891ZM1825,887 1827,885 1829,889 1827,891ZM1851,883 1853,881 1857,885 1853,887ZM1831,881 1833,885 1829,887 1827,885ZM1847,879 1849,877 1853,881 1849,883ZM1843,869 1845,865 1855,867ZM1855,865 1857,861 1867,863 1863,867ZM1867,859 1871,857 1873,861 1869,863ZM1765,813 1769,815 1767,823 1763,817ZM1759,779 1763,777 1765,781 1761,783ZM1869,773 1895,773 1921,795 1925,815 1929,819 1929,841 1925,843 1923,861 1925,857 1929,859 1929,873 1941,891 1937,905 1945,907 1945,911 1929,911 1919,919 1909,919 1903,925 1895,923 1889,927 1871,913 1871,907 1867,905 1869,899 1867,903 1863,901 1863,895 1867,895 1865,875 1875,859 1871,855 1877,855 1875,851 1883,845 1889,831 1873,815 1867,801 1863,779 1867,777 1869,781ZM1763,775 1779,773 1781,769 1791,769 1793,765 1839,765 1853,775 1861,795 1861,807 1877,823 1881,833 1863,855 1839,859 1835,863 1805,859 1803,851 1795,845 1771,809 1771,803 1763,797 1763,785 1771,779 1765,779ZM2183,603 2197,597 2239,597 2241,605 2245,607 2245,629 2241,631 2241,637 2227,647 2205,647 2201,643 2193,643 2187,633ZM2231,595 2235,593 2237,597 2233,599Z" fill="#ffc700"/>
<path fill-rule="evenodd" d="M1809,893 1799,903 1799,921 1809,931 1821,935 1829,947 1849,951 1859,957 1859,967 1851,975 1851,993 1857,999 1871,999 1879,995 1895,967 1915,963 1931,955 1945,933 1945,913 1931,913 1929,917 1907,921 1905,925 1897,925 1893,929 1879,925 1861,903 1861,897 1845,881 1839,881 1825,897 1819,893ZM1555,101 1555,831 1589,835 1629,851 1653,851 1657,855 1685,855 1689,859 1697,859 1703,865 1707,885 1719,891 1719,873 1727,865 1733,865 1727,865 1721,859 1721,853 1729,841 1763,811 1771,813 1803,863 1813,863 1815,867 1839,867 1843,863 1853,863 1855,859 1865,859 1887,829 1865,803 1861,777 1867,771 1897,771 1905,775 1927,801 1927,813 1931,817 1931,843 1927,853 1931,857 1935,879 1951,903 1977,903 1981,907 2011,907 2015,903 2027,903 2043,895 2065,873 2101,819 2117,781 2147,747 2171,735 2195,731 2219,719 2237,701 2251,663 2265,663 2273,671 2283,671 2293,661 2289,645 2249,635 2249,609 2261,607 2263,603 2275,603 2279,599 2301,599 2305,603 2307,599 2327,599 2331,595 2369,595 2373,599 2397,603 2399,607 2421,615 2443,637 2447,677 2455,693 2455,705 2459,709 2463,729 2471,741 2471,777 2475,781 2475,789 2485,803 2503,815 2519,815 2529,805 2529,793 2525,791 2527,787 2519,773 2537,771 2543,763 2555,773 2557,779 2567,783 2565,789 2575,795 2587,811 2601,819 2631,819 2663,807 2681,807 2681,101ZM1757,777 1763,771 1775,771 1791,763 1841,763 1855,773 1859,791 1863,793 1863,805 1879,821 1883,835 1865,857 1855,857 1853,861 1841,861 1837,865 1815,865 1813,861 1803,861 1761,799 1761,785 1757,783ZM2237,591 2247,605 2247,631 2243,639 2229,649 2203,649 2199,645 2191,645 2181,619 2181,601 2195,595 2227,595ZM2297,383 2299,381 2301,385 2299,387ZM2293,375 2295,373 2297,377 2295,379ZM2281,351 2283,349 2285,353 2283,355Z" fill="#ffb700"/>
<path fill-rule="evenodd" d="M1861,959 1861,969 1853,975 1853,993 1857,997 1873,997 1883,989 1883,981 1877,965 1869,963 1863,967ZM1943,927 1941,933 1937,923 1931,919 1919,923 1909,921 1903,927 1889,931 1891,935 1883,949 1901,957 1923,957 1935,949ZM1801,915 1801,921 1809,931 1817,929 1825,941 1837,949 1851,949 1857,953 1853,951 1871,943 1863,923 1847,911 1827,917 1821,925 1809,925ZM2291,655 2283,667 2269,665 2273,669 2285,669ZM2283,647 2287,651 2287,647ZM1555,101 1555,821 1583,825 1601,835 1593,837 1605,835 1609,839 1605,841 1635,847 1629,849 1675,849 1675,853 1669,853 1717,851 1719,855 1717,851 1723,849 1727,839 1735,833 1733,829 1743,809 1747,775 1761,761 1797,749 1851,749 1897,761 1925,783 1931,797 1929,807 1931,805 1935,811 1933,841 1933,831 1937,831 1945,865 1961,887 1981,897 1999,901 2027,901 2029,897 2043,893 2059,877 2059,871 2063,873 2063,867 2067,865 2065,861 2071,853 2075,857 2073,849 2079,849 2075,847 2079,841 2083,845 2081,837 2087,837 2083,835 2107,783 2137,745 2165,731 2179,733 2181,729 2195,729 2197,725 2219,717 2235,701 2243,685 2243,671 2247,665 2239,655 2189,647 2185,641 2187,639 2181,639 2183,633 2177,623 2179,617 2175,599 2189,589 2229,583 2245,585 2261,593 2277,593 2279,597 2301,597 2303,593 2341,583 2369,585 2401,597 2415,607 2409,609 2417,607 2417,613 2423,613 2429,621 2431,617 2439,625 2437,629 2445,635 2449,677 2453,679 2453,689 2457,691 2457,705 2459,699 2463,705 2461,717 2465,719 2465,729 2473,739 2473,777 2477,781 2477,789 2485,801 2505,813 2519,813 2527,805 2525,785 2517,773 2521,769 2535,771 2543,761 2553,767 2557,777 2567,781 2567,791 2581,799 2601,817 2625,817 2623,815 2631,811 2643,813 2639,811 2643,807 2653,809 2649,807 2657,801 2681,797 2681,101ZM2305,393 2307,431 2295,487 2287,499 2289,471 2293,467 2293,455 2297,451 2303,419 2299,395ZM2297,381 2301,383 2299,393 2295,389ZM2289,365 2297,373 2295,383 2289,373ZM2281,349 2289,359 2287,365 2279,353ZM2167,159 2189,183 2199,205 2257,295 2281,341 2279,351 2265,321 2257,313 2249,293 2241,285 2213,233 2189,201 2181,181 2165,165ZM2161,155 2165,153 2167,159 2165,161Z" fill="#ffa700"/>
<path fill-rule="evenodd" d="M1555,101 1555,765 1587,759 1617,733 1631,733 1639,737 1649,747 1649,757 1635,771 1605,783 1605,799 1609,809 1631,829 1659,833 1677,827 1691,813 1699,793 1699,777 1709,765 1709,757 1717,749 1773,713 1831,693 1867,669 1885,667 1901,679 1909,709 1917,721 1961,759 1953,793 1953,809 1975,839 1985,863 1997,879 2009,885 2025,885 2037,877 2051,839 2071,819 2071,799 2083,755 2095,731 2109,717 2137,705 2157,705 2189,717 2209,717 2239,691 2231,667 2205,659 2197,651 2181,647 2175,641 2163,601 2163,589 2177,571 2189,565 2259,561 2271,557 2307,537 2315,521 2307,511 2285,503 2281,493 2281,469 2295,427 2295,399 2291,387 2287,385 2287,379 2283,377 2283,371 2279,369 2259,323 2251,317 2247,303 2235,289 2235,283 2223,269 2223,263 2211,249 2211,243 2183,205 2179,191 2159,173 2155,153 2163,145 2175,149 2189,163 2241,231 2261,263 2273,295 2281,347 2291,359 2297,379 2303,383 2301,391 2313,403 2311,405 2329,443 2337,479 2339,511 2397,553 2445,601 2457,619 2461,641 2453,649 2453,663 2459,669 2473,673 2493,737 2493,749 2483,773 2489,799 2505,809 2521,805 2525,785 2521,783 2517,771 2535,769 2539,761 2551,753 2563,763 2567,789 2585,801 2619,801 2635,789 2641,767 2635,757 2609,747 2599,737 2599,721 2605,711 2623,699 2639,699 2665,709 2681,711 2681,101ZM2517,749 2521,763 2519,767 2513,765ZM2471,647 2475,645 2477,649 2475,651ZM1855,615 1857,613 1861,617 1857,619ZM1853,595 1857,597 1855,613 1851,611ZM2653,479 2655,477 2657,481 2655,483ZM2629,473 2631,491 2627,489ZM2563,413 2573,413 2585,427 2585,441 2575,451 2563,451 2553,447 2549,441 2549,427ZM2105,139 2113,137 2115,141 2127,141 2129,145 2119,149ZM2107,117 2117,109 2129,109 2137,117 2141,133 2133,139 2129,135 2109,131 2105,127Z" fill="#ff9700"/>
<path fill-rule="evenodd" d="M2011,847 2001,865 2007,875 2025,879 2033,871 2035,855 2027,847ZM1661,775 1645,775 1625,791 1625,809 1645,825 1663,821 1675,809 1675,789ZM2497,763 2487,777 2489,793 2501,805 2515,805 2523,799 2525,787 2517,775 2517,769 2509,763ZM2045,755 2027,755 2017,769 2017,787 2027,797 2045,793 2055,783 2055,765ZM2591,751 2579,767 2573,767 2567,773 2567,789 2581,799 2591,793 2597,797 2611,797 2623,785 2623,767 2615,759ZM2171,651 2169,671 2173,673 2173,683 2191,699 2189,701 2195,707 2195,715 2209,715 2237,691 2237,685 2225,669 2205,661 2189,649 2179,649 2175,653ZM2119,599 2117,623 2121,631 2139,645 2161,645 2169,635 2161,613 2155,607 2149,609 2143,603ZM2165,101 2165,115 2169,117 2173,131 2249,213 2277,253 2277,263 2281,265 2281,275 2285,277 2285,307 2281,311 2279,333 2287,355 2297,367 2303,391 2335,421 2341,421 2419,499 2433,531 2433,543 2437,547 2441,567 2469,597 2473,615 2477,617 2477,627 2481,629 2481,637 2489,649 2493,679 2497,681 2497,717 2509,729 2553,729 2563,737 2581,737 2603,709 2603,701 2611,687 2627,673 2657,661 2681,661 2681,527 2635,519 2603,497 2607,491 2607,477 2629,455 2631,457 2643,449 2681,445 2681,101ZM2515,411 2575,411 2587,427 2587,441 2575,453 2563,453 2555,463 2535,463 2519,447 2515,437ZM1555,101 1555,713 1595,713 1609,725 1649,725 1653,719 1659,725 1681,725 1683,721 1707,725 1715,719 1715,709 1723,703 1727,689 1735,683 1735,677 1745,665 1755,665 1767,673 1793,669 1823,639 1827,627 1849,611 1849,597 1845,593 1847,587 1839,579 1839,573 1805,545 1803,535 1809,521 1825,521 1847,503 1847,485 1851,483 1851,447 1861,431 1873,429 1875,425 1889,437 1889,443 1917,467 1933,489 1935,501 1925,501 1925,527 1929,529 1929,547 1949,599 1949,629 1945,633 1945,651 1941,653 1941,703 1953,721 1961,721 1965,725 1983,713 1993,713 1997,717 2027,715 2027,709 2035,703 2039,673 2055,657 2061,657 2063,649 2075,639 2095,595 2097,579 2111,571 2111,565 2119,559 2123,549 2129,549 2133,543 2139,545 2145,539 2189,541 2191,545 2223,545 2237,537 2239,541 2249,541 2255,545 2281,533 2283,525 2287,523 2287,507 2275,491 2275,483 2271,479 2271,461 2277,453 2285,455 2285,443 2293,423 2293,401 2289,397 2289,389 2257,325 2249,317 2209,245 2185,213 2177,193 2173,189 2163,191 2147,175 2147,169 2137,155 2115,155 2103,143 2105,135 2113,135 2115,139 2129,139 2151,157 2153,153 2129,137 2119,137 2117,133 2107,133 2101,129 2091,115 2091,101ZM1963,451 1967,449 1969,457 1977,453 1991,457 1997,463 1997,469 1989,471 1983,467 1977,471 1963,457ZM1975,437 1987,435 1989,439 1979,443ZM1971,427 1963,443 1957,439 1953,443 1949,441 1953,433 1965,429 1967,425Z" fill="#ff8700"/>
<path fill-rule="evenodd" d="M2013,849 2003,865 2009,875 2011,873 2017,879 2023,879 2033,869 2033,855 2027,849ZM1659,777 1645,777 1627,791 1627,809 1645,823 1663,819 1673,809 1673,791ZM2497,765 2489,777 2491,793 2501,803 2519,801 2523,785 2515,769ZM2043,757 2029,757 2019,771 2019,785 2029,795 2043,791 2053,781 2053,767ZM2569,773 2569,789 2581,797 2585,797 2591,789 2597,795 2611,795 2621,785 2621,767 2615,761 2595,753 2579,771 2573,769ZM2171,655 2171,669 2177,675 2175,681 2193,697 2191,701 2197,707 2197,715 2209,713 2237,689 2223,669 2219,671 2215,665 2203,663 2197,655 2191,655 2189,651ZM2119,603 2119,621 2125,625 2123,629 2133,635 2133,639 2137,637 2141,643 2159,643 2169,633 2155,609 2149,611 2145,607 2133,607 2127,601ZM2111,133 2117,139 2127,139ZM2167,101 2167,113 2175,129 2251,213 2279,253 2279,261 2285,267 2283,273 2287,277 2287,307 2283,311 2281,337 2287,355 2297,365 2303,391 2341,419 2423,501 2429,511 2427,513 2433,519 2431,525 2437,531 2435,541 2439,545 2443,565 2471,597 2483,637 2491,649 2491,661 2499,681 2499,717 2509,727 2545,725 2565,735 2579,735 2601,709 2601,701 2615,679 2645,661 2651,663 2657,657 2681,657 2681,529 2669,531 2663,525 2649,527 2643,521 2637,523 2599,497 2605,489 2603,479 2629,453 2631,455 2645,445 2663,447 2669,441 2681,441 2681,101ZM2511,411 2517,405 2543,405 2549,411 2575,409 2589,425 2589,441 2575,455 2565,453 2555,467 2537,467 2511,437ZM1555,101 1555,709 1595,709 1605,715 1609,723 1647,723 1653,717 1661,723 1679,723 1685,717 1691,717 1697,723 1707,723 1713,717 1711,711 1721,701 1723,691 1745,661 1755,661 1769,671 1779,671 1785,665 1791,667 1821,637 1823,627 1847,611 1847,597 1843,593 1845,587 1835,577 1837,575 1799,541 1799,535 1805,529 1803,523 1809,517 1823,519 1845,501 1843,487 1849,481 1847,447 1865,425 1871,427 1875,421 1893,439 1891,441 1921,467 1919,469 1937,491 1937,501 1933,505 1927,503 1927,525 1933,531 1931,545 1937,551 1935,557 1941,563 1939,569 1945,575 1943,581 1953,599 1953,629 1947,635 1949,649 1943,655 1943,701 1949,707 1947,713 1965,723 1985,709 1991,709 1997,715 2025,713 2023,711 2033,701 2031,687 2037,681 2035,675 2057,653 2059,655 2059,651 2073,637 2071,635 2085,613 2083,607 2093,593 2091,583 2105,569 2109,569 2107,567 2125,545 2127,547 2133,541 2139,543 2145,537 2189,537 2193,543 2223,543 2235,533 2241,539 2255,543 2281,529 2285,521 2285,507 2273,491 2269,461 2277,449 2285,453 2283,443 2289,437 2287,427 2293,421 2293,403 2287,397 2289,391 2283,385 2285,383 2279,377 2281,375 2275,369 2277,367 2271,361 2273,359 2267,353 2269,351 2263,345 2265,343 2259,337 2257,327 2247,317 2245,307 2235,297 2233,287 2223,277 2225,275 2211,257 2209,247 2183,213 2181,203 2175,199 2177,195 2173,191 2163,193 2145,175 2135,157 2115,157 2101,143 2101,137 2107,133 2103,129 2101,131 2089,115 2089,101ZM1959,451 1973,443 1975,447 1971,453 1977,449 1983,449 1989,455 1991,453 2001,463 2001,469 1995,475 1985,471 1977,475 1959,457ZM1973,437 1977,433 1987,433 1997,443 1993,447 1989,443 1981,447ZM1967,421 1973,427 1973,433 1967,439 1969,441 1961,447 1957,443 1951,445 1947,435 1953,429 1963,427Z" fill="#ff7800"/>
<path fill-rule="evenodd" d="M1643,785 1635,793 1635,811 1639,815 1657,815 1665,807 1665,797 1661,789ZM2601,781 2601,789 2615,789 2615,781 2611,789 2603,789ZM2499,769 2491,779 2495,797 2501,801 2519,799 2523,785 2519,783 2515,771 2507,767ZM2191,667 2185,681 2195,693 2195,699 2211,701 2217,697 2221,689 2219,677 2207,667ZM2127,615 2127,627 2135,635 2141,635 2143,639 2155,635 2157,617 2143,609 2135,609ZM2513,513 2501,519 2485,539 2485,569 2493,591 2493,633 2497,649 2509,671 2519,681 2555,699 2569,719 2589,719 2595,713 2597,701 2591,693 2587,675 2607,647 2643,613 2651,599 2651,583 2643,567 2597,523 2555,511ZM2185,101 2189,125 2197,141 2275,219 2297,251 2303,271 2303,289 2297,305 2285,321 2281,335 2287,355 2297,363 2303,391 2317,399 2365,409 2409,433 2429,439 2441,439 2455,433 2463,425 2471,399 2479,387 2513,365 2537,369 2589,389 2617,413 2627,413 2655,401 2681,401 2681,101ZM1555,101 1555,669 1597,673 1649,695 1669,695 1697,681 1733,653 1779,631 1793,609 1791,583 1779,557 1779,527 1783,517 1801,493 1827,477 1849,427 1871,411 1887,411 1913,425 1931,425 1961,409 1973,409 1991,417 2017,447 2017,481 1985,519 1973,551 1973,595 1961,649 1959,677 1961,685 1975,697 2001,697 2019,685 2031,665 2055,641 2071,617 2087,569 2111,545 2143,533 2221,535 2235,525 2257,531 2275,521 2279,513 2279,499 2263,487 2255,471 2247,403 2223,315 2187,235 2163,203 2099,155 2097,141 2065,117 2061,101ZM2247,513 2251,509 2255,513Z" fill="#ff6800"/>
<path fill-rule="evenodd" d="M2599,575 2585,565 2577,567 2575,563 2563,563 2563,559 2555,561 2533,581 2533,613 2541,621 2565,621 2575,617 2575,613 2581,615 2591,611 2603,595ZM2055,551 2039,551 2027,555 2027,559 2023,555 2013,555 2013,561 2005,565 1997,613 1981,647 1981,661 1977,661 1973,681 1991,685 1997,677 2001,679 1999,675 2007,673 2039,641 2039,635 2063,609 2067,569ZM2307,319 2305,323 2297,323 2295,327 2287,327 2283,331 2283,345 2299,367 2303,389 2309,393 2323,393 2341,381 2345,367 2337,345 2335,325 2329,319ZM2209,101 2209,117 2205,119 2209,137 2217,145 2223,145 2229,153 2237,155 2233,157 2269,187 2299,205 2321,227 2337,255 2351,301 2381,323 2389,335 2401,369 2415,389 2433,401 2447,401 2441,401 2441,397 2455,397 2465,373 2459,373 2459,351 2463,343 2481,329 2533,329 2577,321 2599,321 2653,333 2681,333 2681,101ZM2455,363 2457,361 2459,365 2457,367ZM1555,101 1555,591 1623,593 1635,597 1649,611 1657,627 1685,649 1705,649 1717,643 1719,637 1725,639 1737,627 1735,621 1739,619 1731,595 1719,587 1709,587 1705,591 1697,591 1695,595 1669,589 1659,581 1659,565 1679,545 1719,537 1769,479 1781,473 1801,469 1797,469 1797,465 1807,465 1809,461 1813,463 1821,455 1819,451 1827,445 1827,439 1835,433 1835,423 1839,421 1843,407 1847,407 1861,389 1877,381 1915,385 1919,381 1951,381 1951,385 1945,385 1961,385 1975,377 1987,375 1997,385 2009,407 2043,433 2061,453 2067,469 2069,519 2075,527 2091,533 2099,533 2099,529 2115,529 2117,533 2225,529 2237,523 2249,525 2279,503 2275,499 2263,507 2257,507 2253,517 2243,513 2243,499 2227,467 2195,421 2187,401 2183,359 2199,311 2195,309 2197,305 2183,283 2175,249 2171,249 2171,227 2167,225 2167,219 2151,219 2149,215 2137,211 2113,185 2107,185 2107,179 2101,179 2099,175 2081,175 2073,163 2047,163 2025,187 1993,209 1987,223 1989,233 1985,235 1985,253 1963,259 1951,251 1953,243 1959,239 1959,233 1953,229 1955,217 1959,215 1959,205 1947,185 1947,161 1959,125 1961,101ZM2011,313 2019,321 2021,341 2003,361 1989,367 1975,349 1975,325 1991,313ZM1685,289 1703,293 1715,309 1713,327 1699,339 1691,341 1673,335 1663,321 1665,303 1675,293Z" fill="#ff5800"/>
<path fill-rule="evenodd" d="M1705,593 1687,597 1675,613 1679,631 1691,643 1701,643 1713,635 1721,635 1733,623 1725,609ZM2563,565 2547,577 2543,585 2543,599 2547,607 2555,611 2577,611 2589,603 2593,595 2593,581 2581,569ZM2053,569 2015,557 2015,597 2011,601 2011,613 1999,637 1983,657 1975,679 1989,683 2005,671 2053,619 2061,607 2061,595 2065,591 2065,577ZM2087,511 2099,527 2115,527 2119,531 2157,531 2161,527 2225,527 2229,523 2249,523 2257,515 2269,511 2277,501 2259,509 2253,517 2233,521 2229,517 2229,497 2221,481 2201,461 2173,445 2165,445 2149,437 2135,437 2123,449 2107,517 2101,521 2089,509ZM2287,329 2283,333 2283,345 2299,363 2299,377 2305,383 2303,389 2321,391 2333,379 2333,365 2321,337 2305,325ZM2207,121 2211,135 2219,143 2247,159 2275,183 2307,191 2347,223 2351,243 2359,259 2383,287 2399,319 2429,357 2427,383 2431,391 2439,395 2453,395 2461,379 2453,361 2437,349 2437,335 2445,319 2477,299 2505,291 2513,283 2523,291 2523,311 2545,311 2549,307 2569,303 2569,295 2577,283 2591,283 2619,303 2655,303 2659,307 2677,307 2681,303 2681,101 2227,101 2227,117 2223,125 2215,131ZM2435,357 2439,355 2441,359 2437,361ZM1555,547 1583,547 1593,551 1605,543 1613,543 1641,523 1649,523 1657,515 1667,519 1683,519 1687,523 1705,523 1705,519 1729,499 1737,483 1737,447 1751,429 1759,431 1783,459 1805,463 1825,443 1841,411 1845,351 1853,343 1867,337 1871,339 1869,345 1873,347 1877,343 1877,335 1891,317 1899,323 1909,315 1915,319 1915,333 1911,337 1901,333 1895,337 1895,367 1919,379 1953,379 1961,371 1953,349 1953,315 1961,303 1993,303 2009,291 2035,287 2059,319 2071,319 2083,331 2083,347 2081,349 2077,341 2053,321 2039,329 2031,329 2019,345 2019,373 2015,377 2015,403 2019,411 2027,411 2031,415 2041,411 2051,411 2055,415 2093,415 2097,411 2105,411 2113,403 2113,397 2105,381 2081,353 2083,347 2087,351 2099,351 2111,359 2119,359 2135,371 2147,367 2151,371 2149,401 2153,403 2153,365 2149,361 2141,361 2137,355 2153,327 2173,307 2197,315 2193,309 2173,301 2173,269 2169,265 2169,229 2165,221 2151,221 2151,265 2147,267 2141,225 2137,225 2109,197 2105,181 2097,177 2081,177 2073,165 2055,165 2051,169 2051,197 2035,213 2019,221 2007,221 1987,237 1987,253 1979,269 1961,277 1953,273 1941,257 1957,239 1957,233 1953,231 1953,217 1941,201 1925,197 1917,185 1917,163 1921,159 1921,143 1925,139 1925,101 1555,101ZM1693,265 1715,283 1723,299 1723,325 1719,329 1719,337 1691,365 1685,365 1649,329 1649,295 1657,279 1681,267Z" fill="#ff4800"/>
<path fill-rule="evenodd" d="M1703,593 1697,599 1689,597 1675,615 1681,621 1679,629 1693,643 1699,643 1711,633 1721,633 1731,623 1723,615 1725,611 1717,603 1711,603ZM2565,565 2547,579 2543,597 2549,603 2547,605 2557,611 2575,611 2589,601 2593,583 2579,569ZM2063,577 2059,579 2043,565 2031,567 2027,561 2023,563 2019,557 2015,559 2017,601 2011,603 2013,615 2003,627 2005,631 1999,635 2001,639 1991,647 1993,651 1983,659 1985,663 1979,667 1981,673 1977,679 1985,677 1989,681 2037,637 2035,633 2059,607ZM2271,505 2261,509 2257,515 2267,511ZM2095,521 2101,527 2117,525 2119,529 2157,529 2159,525 2225,525 2227,521 2251,519 2231,521 2227,517 2229,499 2223,493 2221,483 2199,461 2197,463 2187,453 2185,455 2171,445 2165,447 2159,441 2153,443 2147,437 2137,437 2123,451 2125,457 2119,463 2121,473 2115,479 2117,493 2107,511 2109,519 2105,523ZM2289,329 2283,335 2285,347 2289,349 2289,355 2301,363 2299,367 2305,389 2319,391 2333,377 2333,367 2327,361 2329,355 2323,349 2321,339 2311,329 2303,325ZM2033,329 2033,335 2029,339 2025,337 2025,343 2019,347 2021,375 2015,379 2015,401 2021,405 2019,409 2029,409 2033,415 2041,409 2051,409 2057,415 2091,415 2097,409 2103,411 2113,399 2107,395 2109,391 2103,387 2105,383 2087,367 2089,363 2075,347 2075,341 2053,323 2049,327 2045,325 2041,331ZM2207,123 2213,131 2211,133 2221,143 2225,141 2233,151 2237,149 2245,159 2249,157 2277,183 2285,181 2289,187 2301,185 2305,191 2309,189 2321,203 2325,201 2337,215 2341,213 2349,221 2347,225 2353,229 2351,241 2357,245 2355,249 2361,253 2359,257 2385,285 2383,289 2393,297 2391,301 2397,305 2395,309 2401,313 2399,317 2409,325 2407,329 2417,337 2415,341 2431,357 2427,363 2427,381 2433,385 2431,389 2437,389 2441,395 2451,395 2451,389 2459,379 2447,357 2441,363 2433,361 2433,355 2439,355 2435,349 2435,333 2441,329 2439,325 2445,321 2443,317 2447,313 2451,315 2459,305 2463,307 2467,301 2471,303 2475,297 2483,299 2487,293 2495,295 2499,289 2503,291 2511,281 2517,281 2525,289 2525,311 2543,311 2547,305 2559,307 2563,301 2567,303 2567,293 2573,289 2571,285 2575,281 2593,281 2621,303 2657,301 2661,307 2675,307 2681,301 2681,101 2229,101 2229,117 2217,135ZM1555,545 1583,545 1591,551 1595,545 1599,547 1603,541 1611,543 1619,533 1623,535 1627,529 1631,531 1639,521 1647,523 1655,513 1665,513 1669,519 1685,517 1689,523 1703,523 1703,517 1719,501 1723,503 1729,497 1727,493 1737,481 1735,445 1749,433 1747,429 1751,425 1757,431 1761,429 1785,459 1793,457 1797,463 1803,463 1825,441 1823,437 1833,429 1831,421 1841,409 1839,381 1845,377 1843,349 1859,337 1863,339 1867,333 1873,337 1873,345 1877,341 1875,335 1889,321 1887,317 1891,313 1899,321 1907,313 1917,317 1917,335 1913,339 1905,339 1901,335 1895,339 1895,365 1901,365 1909,375 1917,373 1921,379 1951,379 1961,369 1955,363 1957,355 1951,351 1951,313 1957,309 1955,305 1959,301 1991,303 2007,289 2015,291 2019,285 2037,285 2053,307 2051,309 2061,313 2059,317 2073,317 2085,331 2085,347 2089,351 2101,349 2105,355 2109,353 2113,359 2119,357 2137,371 2147,365 2151,369 2153,401 2153,367 2147,361 2139,363 2135,355 2141,349 2143,339 2153,329 2151,327 2171,305 2191,311 2171,301 2173,271 2167,267 2169,231 2163,223 2151,223 2153,267 2147,271 2143,267 2143,241 2139,239 2141,227 2135,227 2107,199 2109,191 2095,177 2079,179 2071,167 2057,165 2051,171 2053,199 2037,215 2033,213 2021,223 2009,221 2001,231 1997,229 1989,237 1989,255 1983,259 1985,263 1979,267 1981,271 1959,279 1955,273 1951,275 1947,271 1949,267 1939,259 1939,253 1943,249 1947,251 1947,245 1957,237 1951,231 1949,211 1939,201 1931,203 1927,197 1923,199 1919,195 1921,191 1915,187 1915,161 1921,157 1919,141 1925,137 1923,101 1555,101ZM1693,261 1717,281 1715,285 1725,297 1725,327 1719,331 1721,339 1693,367 1683,367 1647,331 1647,293 1653,289 1651,281 1655,277 1659,279 1663,273 1667,275 1671,269 1675,271 1679,265 1687,267Z" fill="#ff3800"/>
<path fill-rule="evenodd" d="M1697,603 1689,609 1687,621 1695,633 1705,635 1719,625 1719,617 1713,605ZM2043,585 2027,583 2019,591 2019,603 2015,605 2019,625 2033,625 2047,613 2049,593ZM2583,575 2581,577 2577,571 2555,577 2555,599 2563,603 2577,603 2585,591 2581,581ZM2165,491 2161,505 2173,521 2203,523 2211,519 2215,503 2207,489 2199,483 2179,481ZM2441,369 2439,385 2447,387 2449,375ZM2301,365 2305,389 2319,389 2327,381 2323,379 2317,387 2309,387ZM2049,339 2035,347 2031,355 2031,369 2041,383 2059,385 2071,373 2071,359 2061,343ZM2005,247 2003,267 2009,275 2021,279 2057,277 2113,295 2129,289 2135,277 2131,257 2079,219 2057,219ZM2263,101 2265,127 2277,151 2289,163 2331,183 2357,205 2377,231 2397,273 2407,285 2421,293 2441,293 2477,279 2511,271 2523,271 2539,279 2553,281 2591,261 2681,261 2681,101ZM1555,485 1659,475 1675,469 1687,455 1693,433 1691,403 1659,355 1639,333 1633,313 1633,289 1639,273 1657,253 1675,245 1697,245 1709,249 1731,267 1745,287 1765,335 1765,389 1769,399 1789,417 1803,417 1811,411 1819,397 1819,385 1811,363 1819,343 1867,309 1911,295 1919,281 1915,229 1895,183 1891,161 1891,101 1555,101Z" fill="#ff2800"/>
<path fill-rule="evenodd" d="M2179,503 2175,511 2179,521 2201,521 2205,517 2203,505 2195,497ZM1555,187 1555,379 1567,385 1597,413 1613,421 1635,421 1647,413 1655,399 1655,391 1651,391 1651,357 1641,347 1631,345 1579,349 1567,341 1571,321 1591,297 1615,259 1617,231 1607,219 1589,211 1565,191ZM1643,403 1645,401 1647,405 1645,407ZM1647,395 1649,393 1651,397 1649,399ZM2295,131 2295,141 2305,151 2317,151 2333,139 2345,141 2353,151 2357,171 2365,185 2381,193 2397,193 2413,201 2421,213 2421,227 2413,245 2413,263 2423,273 2437,273 2465,249 2505,257 2539,237 2539,233 2557,233 2575,225 2595,199 2611,151 2613,101 2325,101 2323,107 2305,119ZM1555,101 1555,149 1603,149 1625,161 1653,189 1687,201 1703,219 1741,215 1775,229 1787,247 1789,285 1803,301 1831,301 1851,281 1865,249 1863,211 1867,209 1869,199 1843,153 1839,137 1839,101ZM1835,289 1837,287 1839,291 1837,293ZM1859,233 1861,229 1865,231 1861,235Z" fill="#ff1800"/>
<path fill-rule="evenodd" d="M1641,349 1635,349 1621,359 1623,369 1617,375 1619,397 1615,403 1623,411 1641,407 1649,391 1649,357ZM1555,223 1555,277 1569,267 1579,269 1585,263 1599,265 1605,259 1605,237 1593,229 1569,229 1563,223ZM1847,187 1839,193 1825,191 1817,203 1819,209 1809,227 1811,237 1805,243 1807,249 1797,263 1803,291 1811,295 1825,295 1833,291 1833,275 1839,269 1837,263 1861,227 1861,211 1865,205ZM2543,179 2531,185 2525,195 2525,217 2531,227 2539,231 2571,209 2571,199 2559,187 2557,189ZM1625,101 1631,107 1629,117 1635,123 1633,125 1643,135 1641,137 1651,155 1661,165 1671,163 1683,173 1709,151 1715,153 1721,147 1731,147 1739,155 1737,157 1759,175 1757,189 1769,201 1779,197 1777,175 1783,169 1781,159 1815,133 1809,125 1811,101Z" fill="#ff0800"/>
<path fill-rule="evenodd" d="M1639,349 1623,359 1623,371 1619,375 1619,399 1615,403 1625,411 1639,407 1649,389 1649,359ZM1555,225 1555,275 1567,267 1599,263 1605,257 1605,239 1591,229 1567,229 1563,225ZM1847,189 1841,193 1823,195 1811,227 1807,251 1799,263 1803,289 1813,295 1823,295 1833,289 1837,261 1861,225 1861,209 1865,205ZM2543,181 2533,185 2527,195 2527,217 2539,231 2551,219 2569,209 2569,199 2559,189ZM1627,101 1631,105 1635,125 1643,133 1651,153 1661,163 1673,163 1683,171 1707,151 1733,147 1739,157 1759,173 1759,189 1769,199 1777,197 1781,157 1813,133 1809,127 1809,101Z" fill="#f70000"/>
<path fill-rule="evenodd" d="M1639,351 1625,359 1625,373 1621,375 1621,399 1633,405 1625,407 1621,403 1625,409 1639,405 1637,399 1643,397 1643,391 1647,389 1647,359ZM1805,281 1805,289 1809,289ZM1831,273 1831,285 1827,289 1831,289ZM1555,227 1555,273 1565,265 1599,261 1603,257 1603,239 1591,231 1565,231 1563,227ZM1841,195 1825,195 1825,201 1821,203 1821,213 1817,215 1817,223 1813,227 1813,241 1809,243 1809,253 1805,255 1815,269 1827,269 1831,265 1835,269 1833,257 1839,257 1837,251 1847,245 1847,237 1851,237 1859,225 1859,209ZM2543,183 2533,187 2529,195 2529,217 2533,219 2533,225 2541,227 2551,217 2567,209 2567,199 2555,191 2557,195 2553,203 2549,191 2551,187 2545,187ZM1703,151 1695,159 1685,153 1679,155 1677,165 1681,169 1691,165ZM1629,101 1633,103 1633,117 1637,119 1637,125 1645,131 1653,153 1661,161 1673,161 1671,157 1687,143 1691,131 1711,137 1727,129 1735,137 1741,157 1747,155 1749,161 1761,171 1761,189 1769,197 1775,197 1773,171 1779,169 1779,157 1801,137 1811,133 1807,129 1807,101ZM1771,177 1775,187 1773,195 1763,189 1763,181ZM1803,131 1807,129 1809,133 1805,135ZM1635,115 1637,113 1639,117 1637,119Z" fill="#e70000"/>
<path fill-rule="evenodd" d="M1631,363 1625,387 1639,389 1643,385 1643,365ZM1635,383 1639,381 1641,385 1637,387ZM1629,377 1633,379 1631,387 1627,385ZM1631,367 1639,365 1641,369 1633,371ZM1601,239 1593,239 1591,233 1579,235 1573,243 1577,257 1595,257 1599,253ZM1591,251 1595,249 1597,253 1593,255ZM1577,241 1581,243 1579,251 1575,249ZM1587,239 1591,237 1593,241 1589,243ZM1579,239 1583,237 1585,241 1581,243ZM1827,217 1819,223 1815,233 1823,247 1839,247 1845,241 1845,225 1837,217ZM1675,135 1661,135 1657,141 1657,149 1665,157 1683,141ZM1663,151 1667,149 1669,153 1665,155ZM1667,147 1671,145 1673,149 1669,151ZM1661,141 1665,143 1663,151 1659,149ZM1673,137 1677,139 1675,147 1671,145ZM1765,133 1755,139 1755,157 1769,167 1777,161 1785,145 1777,135Z" fill="#d70000"/></g>
<path d="M1642,130 1645,138 1654,157 1667,160 1681,148 1688,136 1690,130 M1724,130 1726,133 1736,152 1748,160 1759,172 1760,193 1774,196 1776,169 1781,152 1802,138 1812,129 M1822,193 1846,189 1860,203 1857,224 1843,244 1833,262 1831,286 1815,293 1802,286 1798,265 1809,238 1815,210 1822,193 M1568,227 1599,231 1604,244 1599,260 1568,263 M1623,355 1637,348 1647,361 1645,385 1637,403 1626,410 1616,399 1619,375 1623,355 M1924,122 1920,139 1915,164 1912,183 1920,195 1938,201 1946,208 1951,224 1953,237 1946,244 1938,252 M1984,252 1992,232 2007,221 2028,216 2041,208 2049,198 2049,175 2054,164 2069,164 2075,175 2090,177 2100,180 2108,198 2118,211 2131,221 2139,226 2142,265 2149,268 2152,250 2152,221 2160,219 2165,226 2167,255 2170,301 2194,312 M1958,296 1979,301 1997,293 2002,288 2015,284 2033,283 2041,291 2049,304 2059,314 2072,314 2080,324 2085,348 2100,350 2118,358 2136,368 2142,361 2149,363 2152,384 2152,400 M2018,400 2020,345 2031,330 2049,322 2062,327 2075,345 2087,366 2100,379 2111,400 M1950,220 1952,231 1946,241 1939,246 1937,254 1946,269 1962,277 1977,269 1984,252 1986,239 1996,229 2009,220 M2034,282 2015,286 2001,290 1994,298 1975,301 1965,299 1958,298 1950,315 1950,343 1958,369 1946,375 1928,377 1909,371 1895,364 1893,343 1897,334 1907,337 1914,334 1916,320 1910,311 1903,311 1897,318 1890,309 1886,318 1880,322 1875,334 1871,343 1869,330 1861,335 1852,341 1844,343 1842,352 1840,371 1839,390 1833,409 1823,428 1814,440 M2034,330 2022,337 2018,352 2016,371 2013,390 2015,402 2022,409 2034,411 M1724,496 1709,506 1698,522 1678,517 1657,512 1637,522 1611,537 1585,548 M1838,403 1822,439 1802,460 1781,455 1766,434 1750,424 1735,444 1735,475 1724,496 M2432,365 2446,363 2451,375 2449,389 2436,389 2432,375 2432,365 M2529,186 2542,179 2551,189 2549,217 2539,227 2529,220 2527,200 2529,186 M2477,403 2487,392 2501,379 2511,377 2515,392 2515,403 M2546,406 2570,406 2584,416 2587,440 2577,451 2563,451 2556,458 M1681,600 1702,593 1716,603 1729,620 1719,631 1705,634 1692,641 1681,631 1674,613 1681,600 M1809,500 1802,517 1798,541 1812,555 1829,569 1843,586 1846,607 1836,613 1822,624 1815,638 1802,651 1791,662 1774,669 1760,665 1750,658 1740,662 1719,693 1705,720 1685,717 1667,720 1650,717 1637,720 1606,720 M1925,500 1929,534 1939,569 1954,589 M2014,555 2027,562 2052,569 2062,579 2058,600 2045,620 2027,641 2007,662 1986,679 1976,675 1983,658 1997,638 2010,610 2014,589 2014,555 M1928,500 1928,521 1935,548 1940,569 1945,586 1952,600 1948,631 1942,665 1942,696 1948,713 1966,720 1983,706 2003,713 2017,713 2031,699 2031,682 2038,665 2052,655 2065,641 2079,617 2086,596 2093,576 2107,565 2120,545 2141,538 2169,534 2189,538 2217,541 2230,534 2241,521 2251,514 M2086,507 2100,524 2127,528 2189,524 2241,521 2258,510 2275,500 M2117,600 2134,603 2155,610 2165,631 2155,641 2134,638 2120,624 2117,600 M2179,596 2206,591 2237,589 2248,607 2244,631 2237,644 2217,648 2189,644 2181,631 2179,596 M2169,651 2186,648 2206,662 2224,672 2234,686 2224,699 2206,710 2196,713 2189,693 2175,679 2169,662 2169,651 M2170,187 2183,212 2200,236 2216,264 2229,286 2243,310 2257,332 2270,358 2281,380 2286,392 2288,402 2288,418 2285,433 2282,450 M2090,115 2093,118 2098,128 2113,134 2131,139 2142,146 2152,152 M1943,430 1963,420 1987,430 2001,451 1998,471 1977,475 1956,464 1943,447 1943,430 M1650,279 1667,269 1692,260 1709,272 1723,299 1723,320 1716,341 1685,368 1664,348 1647,330 1645,306 1650,279 M1843,500 1846,444 1857,427 1877,420 1894,444 1915,461 1932,485 1932,500 M2207,121 2212,134 2240,152 2253,162 2274,179 2302,186 2326,203 2346,217 2353,244 2367,265 2387,293 2405,324 2418,344 2429,355 2425,375 2432,389 2449,392 2456,375 2449,361 2436,351 2432,341 2443,313 2467,299 2498,289 2515,279 2522,286 2522,306 2542,306 2566,299 2570,279 2590,279 2618,299 2674,303 M2597,500 2604,471 2618,458 2642,444 2674,440 M2549,406 2577,406 2587,420 2587,444 2573,454 2559,454 M1671,958 1685,945 1709,931 1733,921 1760,917 1764,931 1747,955 1726,976 1702,989 1685,1000 1671,1000 1667,983 1671,958 M1815,900 1829,928 1846,945 1850,969 1846,989 1853,1003 M1774,993 1795,993 1815,1000 1829,1013 1829,1031 1815,1055 1802,1069 1788,1048 1760,1017 1740,993 M1657,1013 1671,1017 1674,1038 1678,1048 1702,1062 1729,1069 1747,1089 1771,1079 1781,1093 1791,1124 1802,1141 1815,1148 M1667,1065 1685,1072 1702,1093 1705,1124 1702,1148 1705,1165 1712,1155 1733,1148 1743,1165 1760,1161 1781,1155 1802,1158 1822,1179 1826,1192 1815,1196 1795,1199 1778,1203 1774,1216 1795,1230 1829,1234 1857,1230 1864,1244 M1692,1275 1726,1275 1760,1271 1829,1271 1864,1261 1898,1258 M2089,1032 2107,1020 2124,1010 2148,1003 2155,996 M2179,979 2199,983 2224,979 2244,972 2258,958 2268,934 2272,900 M2182,1000 2206,1000 2217,1010 2224,1031 2241,1038 2261,1031 2268,1003 2279,986 2314,984 M2151,1027 2169,1024 2182,1038 2186,1058 2175,1075 2158,1079 2151,1062 2151,1027 M2027,1161 2034,1148 2052,1120 2069,1103 2100,1087 2113,1093 2120,1120 2141,1134 2151,1130 2158,1141 2158,1210 2162,1244 M2027,1161 2052,1168 2072,1165 2076,1192 2072,1227 2062,1244 2055,1251 M1924,1258 1983,1254 2017,1254 2045,1258 2069,1254 2155,1251 2258,1247 2303,1244 M2274,982 2295,984 2315,991 2332,1001 2350,987 2360,963 2370,946 2394,936 2412,929 2456,915 2470,912 2484,918 2487,894 2491,905 2508,912 2529,918 2549,943 2577,953 2587,970 M2484,918 2482,998 2480,1066 2477,1121 M2370,1008 2377,1011 2374,1032 2370,1059 2367,1073 2360,1097 2336,1101 2312,1104 2308,1121 M2446,977 2432,980 2429,1032 2436,1066 2443,1094 2439,1121 M2446,977 2449,1018 2473,1022 2480,1018 M2487,998 2511,984 2546,980 2549,998 2539,1015 2535,1046 2508,1059 2494,1080 2491,1121 M2312,874 2332,870 2339,884 2336,894 2319,898 2312,888 2312,874 M1753,772 1786,762 1833,759 1853,767 1864,803 1884,829 1864,855 1827,865 1802,860 1781,829 1760,798 1753,772" fill="none" stroke="#000" stroke-width="2" stroke-linejoin="round"/>
</g>
<text class="cl" transform="translate(1729,151) rotate(-60)">26</text>
<text class="cl" transform="translate(1976,151) rotate(15)">25</text>
<text class="cl" transform="translate(2153,180) rotate(45)">24</text>
<text class="cl" transform="translate(2236,163) rotate(0)">25</text>
<text class="cl" transform="translate(2510,163) rotate(0)">25</text>
<text class="cl" transform="translate(1810,238) rotate(-70)">26</text>
<text class="cl" transform="translate(2007,226) rotate(-30)">25</text>
<text class="cl" transform="translate(2537,215) rotate(0)">26</text>
<text class="cl" transform="translate(2507,250) rotate(-60)">25</text>
<text class="cl" transform="translate(2594,290) rotate(40)">25</text>
<text class="cl" transform="translate(2629,261) rotate(90)">25</text>
<text class="cl" transform="translate(1706,348) rotate(-45)">25</text>
<text class="cl" transform="translate(1619,395) rotate(60)">26</text>
<text class="cl" transform="translate(1967,354) rotate(-90)">25</text>
<text class="cl" transform="translate(2146,372) rotate(40)">25</text>
<text class="cl" transform="translate(1969,464) rotate(0)">24</text>
<text class="cl" transform="translate(2199,459) rotate(-90)">25</text>
<text class="cl" transform="translate(2256,432) rotate(75)">25</text>
<text class="cl" transform="translate(2228,494) rotate(0)">26</text>
<text class="cl" transform="translate(2182,523) rotate(0)">25</text>
<text class="cl" transform="translate(2611,488) rotate(60)">24</text>
<text class="cl" transform="translate(1653,621) rotate(60)">25</text>
<text class="cl" transform="translate(1950,598) rotate(30)">24</text>
<text class="cl" transform="translate(1984,633) rotate(-60)">25</text>
<text class="cl" transform="translate(2135,592) rotate(40)">24</text>
<text class="cl" transform="translate(2211,621) rotate(0)">23</text>
<text class="cl" transform="translate(2266,633) rotate(0)">23</text>
<text class="cl" transform="translate(2524,627) rotate(0)">25</text>
<text class="cl" transform="translate(2524,679) rotate(45)">24</text>
<text class="cl" transform="translate(1729,685) rotate(-45)">24</text>
<text class="cl" transform="translate(2472,731) rotate(0)">23</text>
<text class="cl" transform="translate(1746,813) rotate(-45)">23</text>
<text class="cl" transform="translate(1897,801) rotate(-70)">23</text>
<text class="cl" transform="translate(1926,830) rotate(45)">24</text>
<text class="cl" transform="translate(1880,848) rotate(-80)">23</text>
<text class="cl" transform="translate(2397,795) rotate(50)">22</text>
<text class="cl" transform="translate(1694,883) rotate(60)">23</text>
<text class="cl" transform="translate(1700,935) rotate(60)">22</text>
<text class="cl" transform="translate(1682,964) rotate(-80)">23</text>
<text class="cl" transform="translate(2367,883) rotate(-80)">21</text>
<text class="cl" transform="translate(2431,917) rotate(0)">20</text>
<text class="cl" transform="translate(2129,981) rotate(0)">22</text>
<text class="cl" transform="translate(2158,993) rotate(60)">21</text>
<text class="cl" transform="translate(1810,1022) rotate(0)">23</text>
<text class="cl" transform="translate(1706,1051) rotate(20)">21</text>
<text class="cl" transform="translate(2391,1080) rotate(-70)">19</text>
<text class="cl" transform="translate(2571,1051) rotate(-40)">20</text>
<text class="cl" transform="translate(1694,1184) rotate(-90)">20</text>
<text class="cl" transform="translate(1735,1231) rotate(30)">19</text>
<text class="cl" transform="translate(1955,1219) rotate(30)">20</text>
<text class="cl" transform="translate(1973,1237) rotate(0)">18</text>
<text class="cl" transform="translate(2246,1208) rotate(-60)">19</text>
<text class="cl" transform="translate(1787,1277) rotate(0)">18</text>
<path d="M651.0,152.4 L673.0,150.3 L675.8,164.8 L681.3,175.8 L686.8,186.8 L692.3,193.6 L701.9,191.6 L717.0,197.8 L728.0,197.8 L739.0,204.6 L750.0,215.7 L759.7,217.0 L763.8,225.3 L767.9,236.3 L772.0,250.0 L774.8,263.8 L772.0,277.6 L777.6,288.6 L786.0,294.0 L796.0,300.0 L806.0,306.0 L815.0,320.0 L822.0,335.0 L826.0,350.0 L829.0,365.0 L832.0,377.0 L836.0,372.0 L836.0,350.0 L833.0,325.0 L831.0,300.0 L836.4,287.0 L850.2,309.0 L861.2,328.0 L864.0,350.2 L866.7,377.7 L866.7,399.3 L869.0,413.7 L881.1,423.3 L900.4,430.6 L919.6,437.8 L938.9,449.8 L948.5,451.0 L967.8,445.0 L982.2,428.1 L1001.5,416.1 L1015.9,416.1 L1023.1,423.3 L1035.2,428.1 L1028.0,440.2 L1023.1,454.6 L1018.3,469.1 L1018.3,483.5 L1013.5,495.6 L1001.5,505.2 L991.8,514.8 L989.4,529.3 L987.0,536.5 L984.6,538.9 L963.0,537.7 L943.7,541.3 L929.3,550.9 L922.0,563.0 L924.4,577.4 L931.7,584.6 L934.1,591.8 L926.8,601.5 L917.2,618.3 L907.6,632.8 L898.0,647.2 L893.1,660.0 L885.4,674.7 L872.5,700.5 L855.0,717.7 L833.8,732.8 L820.0,739.7 L811.1,731.4 L798.7,723.2 L786.4,717.0 L774.0,715.0 L786.4,702.5 L798.7,688.0 L807.0,671.6 L811.1,651.0 L813.2,630.3 L810.4,620.0 L807.0,614.4 L793.2,600.6 L776.0,593.8 L762.3,583.4 L750.2,574.8 L734.7,569.7 L724.4,557.6 L722.7,547.3 L733.0,537.0 L748.5,528.4 L765.7,521.5 L774.3,511.2 L777.7,497.4 L779.5,480.2 L782.9,468.2 L786.3,454.4 L789.8,437.2 L793.2,420.0 L793.0,400.0 L790.0,386.0 L784.0,372.0 L773.0,350.0 L759.4,322.7 L744.5,300.0 L733.5,283.0 L722.5,267.9 L711.5,252.8 L699.1,236.3 L688.1,222.5 L678.5,211.5 L684.0,204.6 L684.0,195.0 L675.8,181.3 L664.8,167.5 Z" fill="#c8c8c8" stroke="#000" stroke-width="1.8" stroke-linejoin="round"/>
<path d="M648.0,651.0 L656.0,655.0 L658.4,671.6 L668.7,677.8 L672.9,692.2 L677.0,708.7 L685.2,714.9 L695.6,706.7 L708.0,698.4 L720.3,692.2 L736.8,702.5 L761.6,698.4 L755.4,712.9 L741.0,723.2 L741.0,743.8 L747.1,752.0 L743.0,764.5 L730.5,780.0 L728.4,788.3 L716.0,800.6 L705.7,813.0 L699.5,827.5 L691.3,846.0 L676.8,858.4 L662.4,866.7 L656.2,877.0 L658.3,895.6 L654.1,905.9 L664.4,908.0 L676.8,912.0 L678.9,922.4 L670.6,927.5 L660.3,924.5 L643.8,924.5 L627.3,930.6 L606.7,941.0 L586.0,953.3 L571.6,965.7 L566.5,984.1 L561.7,1008.2 L554.5,1032.2 L547.3,1056.3 L540.0,1075.6 L535.2,1090.0 L520.8,1099.7 L511.2,1114.1 L496.7,1128.6 L489.5,1143.0 L472.6,1155.0 L453.4,1162.3 L434.1,1159.9 L414.8,1155.0 L402.8,1147.8 L390.8,1140.6 L376.3,1138.2 L369.1,1128.6 L357.0,1126.1 L347.4,1131.0 L328.2,1133.4 L311.3,1131.0 L301.7,1116.5 L296.9,1099.7 L301.7,1080.4 L313.7,1061.1 L325.7,1039.5 L340.2,1020.2 L357.0,998.5 L371.5,981.7 L386.0,964.8 L398.7,957.0 L434.8,933.8 L476.0,906.0 L512.2,877.0 L540.6,844.0 L555.1,825.4 L567.5,800.6 L571.6,780.0 L578.0,765.0 L592.4,752.0 L606.8,739.7 L615.1,723.2 L617.1,702.5 L619.2,681.9 L627.5,671.6 L641.9,657.1 Z" fill="#c8c8c8" stroke="#000" stroke-width="1.8" stroke-linejoin="round"/>
<path d="M376.3,1169.5 L386.0,1167.0 L398.0,1176.7 L402.8,1191.2 L398.0,1203.2 L383.5,1210.4 L366.7,1217.6 L369.1,1203.2 L373.9,1186.3 Z" fill="#c8c8c8" stroke="#000" stroke-width="1.8" stroke-linejoin="round"/>
<path d="M366.0,996.1 L374.6,1002.2 M355.7,1004.7 L360.9,1015.0 M345.4,1020.2 L352.3,1028.8 M336.8,1032.3 L343.7,1035.7 M329.9,1040.9 L338.5,1042.6 M323.0,1051.2 L335.0,1056.3 M319.6,1059.8 L335.0,1066.7 M314.4,1070.1 L331.6,1071.8 M309.2,1080.4 L326.5,1080.4 M305.8,1087.3 L326.5,1092.5 M302.4,1094.2 L317.8,1097.6 M302.4,1106.2 L323.0,1111.4 M305.8,1114.8 L317.8,1120.0 M673.5,150.7 L672.4,153.0 M667.6,155.1 L664.4,154.3 M667.7,150.9 L671.1,151.7 M668.2,152.2 L663.9,154.5 M672.8,154.0 L669.1,150.2 M675.6,152.9 L677.7,152.6 M681.5,182.5 L682.9,184.3 M684.1,179.0 L685.6,182.2 M679.5,177.6 L677.4,177.0 M681.5,180.7 L680.2,177.9 M704.4,193.6 L701.7,194.4 M702.2,195.0 L702.3,198.5 M705.8,188.9 L705.5,186.2 M699.2,191.9 L695.8,193.9 M742.6,206.7 L746.9,207.8 M742.0,206.9 L744.2,204.8 M743.4,210.4 L740.2,208.7 M735.6,208.0 L731.3,208.7 M743.2,203.8 L739.9,199.5 M735.2,205.6 L732.0,208.5 M755.6,224.7 L756.8,226.8 M758.9,225.7 L760.9,227.8 M760.5,225.8 L763.6,227.6 M757.8,221.2 L759.9,216.6 M764.6,218.5 L761.4,222.5 M757.3,221.8 L758.6,224.4 M766.0,247.4 L763.8,245.9 M773.6,249.5 L771.3,252.1 M771.4,244.4 L767.8,244.1 M773.0,250.4 L776.2,248.0 M766.8,249.1 L764.5,251.0 M753.5,255.9 L755.6,256.8 M751.0,255.8 L749.8,257.7 M751.3,264.5 L754.2,266.6 M754.0,258.2 L752.0,256.4 M761.2,265.9 L759.5,267.8 M752.0,255.2 L748.0,256.1 M760.9,255.9 L759.2,258.6 M757.3,255.8 L763.5,256.7 M770.3,289.8 L768.3,289.2 M767.6,283.7 L770.5,280.3 M770.3,287.8 L772.7,291.9 M773.1,289.8 L771.8,292.3 M773.2,287.4 L776.1,283.5 M768.6,280.3 L769.1,284.1 M697.6,226.9 L700.5,227.4 M704.4,229.9 L707.8,228.9 M697.2,222.3 L700.4,221.4 M701.2,229.0 L702.1,231.6 M701.5,228.0 L703.5,224.9 M708.3,242.3 L711.5,244.1 M702.4,242.3 L702.4,239.1 M708.8,239.2 L706.8,242.7 M706.8,237.4 L703.2,240.0 M790.7,304.3 L792.6,306.3 M791.7,302.2 L795.6,307.3 M779.8,293.2 L776.9,297.2 M785.4,306.1 L790.7,305.1 M789.6,296.0 L783.5,298.6 M781.4,301.2 L781.3,304.8 M779.8,305.7 L779.6,310.0 M786.2,305.7 L783.5,309.2 M785.0,300.4 L779.0,303.7 M784.2,295.6 L782.1,295.3 M796.1,317.7 L801.6,317.8 M797.9,318.2 L797.2,313.8 M795.3,318.7 L790.1,316.9 M803.3,318.1 L803.3,321.3 M804.9,317.3 L800.0,315.3 M800.1,320.3 L796.9,317.6 M799.7,323.3 L795.6,324.6 M805.3,315.1 L803.5,309.6 M815.4,336.4 L810.5,334.4 M807.7,337.4 L810.3,339.9 M814.8,344.0 L818.7,345.9 M813.6,336.4 L816.1,340.1 M809.2,344.5 L813.2,340.9 M816.9,343.3 L813.9,345.5 M795.2,350.1 L797.2,353.4 M797.7,346.2 L798.8,349.4 M789.2,350.0 L785.5,348.7 M789.8,357.8 L786.7,354.8 M790.3,349.2 L791.8,343.1 M792.2,347.6 L797.5,348.9 M798.8,349.1 L793.5,351.9 M830.6,311.6 L833.2,315.1 M831.5,309.4 L833.3,310.5 M831.1,312.4 L835.1,314.4 M826.5,312.9 L830.2,315.0 M830.4,313.4 L827.7,314.2 M840.2,327.9 L840.0,330.2 M836.4,327.6 L838.3,329.2 M842.1,328.3 L841.0,330.9 M838.8,326.1 L836.3,326.1 M874.9,420.4 L874.9,422.4 M876.5,416.9 L877.7,419.9 M873.0,422.7 L874.3,419.8 M874.5,423.9 L871.9,425.9 M874.7,421.1 L872.4,424.6 M714.9,679.1 L711.4,681.4 M718.1,679.6 L724.0,682.4 M727.9,687.7 L734.2,691.4 M718.7,684.4 L718.0,687.8 M718.2,692.4 L720.8,696.4 M717.9,692.5 L723.2,691.5 M714.0,683.1 L712.5,687.0 M717.2,685.1 L712.2,685.9 M715.4,683.4 L719.1,683.5 M718.9,680.7 L720.9,681.3 M726.0,687.5 L721.5,684.8 M720.2,682.2 L718.7,674.9 M725.6,687.3 L728.5,687.0 M728.3,687.0 L735.2,689.0 M729.2,698.4 L728.5,691.4 M739.9,703.2 L732.7,703.0 M737.9,701.1 L731.4,697.3 M729.1,695.8 L729.4,697.9 M735.9,700.0 L741.6,704.4 M734.8,690.1 L730.5,685.6 M735.0,698.6 L737.0,692.2 M738.8,694.0 L737.5,692.0 M738.7,693.3 L741.9,694.9 M734.9,696.1 L734.4,688.1 M739.3,699.9 L733.1,700.7 M729.4,694.1 L727.8,692.1 M736.1,690.2 L735.9,686.3 M737.8,701.1 L741.2,702.4 M750.2,704.6 L748.7,701.6 M754.7,701.4 L752.3,701.9 M744.2,704.5 L750.3,703.7 M749.4,702.2 L752.1,696.6 M746.5,706.0 L748.1,711.9 M755.4,700.6 L758.1,703.9 M754.6,707.4 L756.5,703.6 M749.8,699.3 L750.5,705.2 M749.4,702.6 L753.6,702.7 M747.8,709.1 L750.0,711.8 M719.1,695.4 L724.4,695.5 M719.8,697.5 L724.4,695.2 M721.0,701.1 L718.4,703.8 M712.3,694.6 L709.8,697.6 M712.4,705.2 L717.0,708.6 M715.1,696.3 L715.1,699.4 M719.6,703.7 L715.3,708.2 M720.3,700.6 L716.2,696.2 M307.8,1089.4 L307.4,1087.2 M302.4,1084.6 L302.5,1079.8 M304.7,1088.1 L307.0,1087.0 M310.7,1087.1 L309.2,1092.1 M305.7,1088.7 L303.8,1086.0 M301.5,1094.9 L302.8,1097.2 M309.9,1096.0 L306.9,1096.0 M301.3,1085.1 L298.8,1085.9 M301.9,1087.1 L300.6,1089.1 M308.0,1089.0 L302.6,1086.5 M310.8,1113.4 L307.5,1115.4 M316.7,1111.3 L319.4,1112.4 M315.6,1112.2 L311.4,1112.1 M311.0,1114.5 L310.6,1117.3 M315.7,1110.2 L320.5,1108.8 M316.0,1114.7 L320.3,1115.6 M310.9,1119.3 L309.2,1118.2 M316.7,1112.5 L319.0,1108.0" fill="none" stroke="#000" stroke-width="2.6" stroke-linecap="round"/>
<path d="M2165.0,152.4 L2187.0,150.3 L2189.8,164.8 L2195.3,175.8 L2200.8,186.8 L2206.3,193.6 L2215.9,191.6 L2231.0,197.8 L2242.0,197.8 L2253.0,204.6 L2264.0,215.7 L2273.7,217.0 L2277.8,225.3 L2281.9,236.3 L2286.0,250.0 L2288.8,263.8 L2286.0,277.6 L2291.6,288.6 L2300.0,294.0 L2310.0,300.0 L2320.0,306.0 L2329.0,320.0 L2336.0,335.0 L2340.0,350.0 L2343.0,365.0 L2346.0,377.0 L2350.0,372.0 L2350.0,350.0 L2347.0,325.0 L2345.0,300.0 L2350.4,287.0 L2364.2,309.0 L2375.2,328.0 L2378.0,350.2 L2380.7,377.7 L2380.7,399.3 L2383.0,413.7 L2395.1,423.3 L2414.4,430.6 L2433.6,437.8 L2452.9,449.8 L2462.5,451.0 L2481.8,445.0 L2496.2,428.1 L2515.5,416.1 L2529.9,416.1 L2537.1,423.3 L2549.2,428.1 L2542.0,440.2 L2537.1,454.6 L2532.3,469.1 L2532.3,483.5 L2527.5,495.6 L2515.5,505.2 L2505.8,514.8 L2503.4,529.3 L2501.0,536.5 L2498.6,538.9 L2477.0,537.7 L2457.7,541.3 L2443.3,550.9 L2436.0,563.0 L2438.4,577.4 L2445.7,584.6 L2448.1,591.8 L2440.8,601.5 L2431.2,618.3 L2421.6,632.8 L2412.0,647.2 L2407.1,660.0 L2399.4,674.7 L2386.5,700.5 L2369.0,717.7 L2347.8,732.8 L2334.0,739.7 L2325.1,731.4 L2312.7,723.2 L2300.4,717.0 L2288.0,715.0 L2300.4,702.5 L2312.7,688.0 L2321.0,671.6 L2325.1,651.0 L2327.2,630.3 L2324.4,620.0 L2321.0,614.4 L2307.2,600.6 L2290.0,593.8 L2276.3,583.4 L2264.2,574.8 L2248.7,569.7 L2238.4,557.6 L2236.7,547.3 L2247.0,537.0 L2262.5,528.4 L2279.7,521.5 L2288.3,511.2 L2291.7,497.4 L2293.5,480.2 L2296.9,468.2 L2300.3,454.4 L2303.8,437.2 L2307.2,420.0 L2307.0,400.0 L2304.0,386.0 L2298.0,372.0 L2287.0,350.0 L2273.4,322.7 L2258.5,300.0 L2247.5,283.0 L2236.5,267.9 L2225.5,252.8 L2213.1,236.3 L2202.1,222.5 L2192.5,211.5 L2198.0,204.6 L2198.0,195.0 L2189.8,181.3 L2178.8,167.5 Z" fill="#c8c8c8" stroke="#000" stroke-width="1.8" stroke-linejoin="round"/>
<path d="M2162.0,651.0 L2170.0,655.0 L2172.4,671.6 L2182.7,677.8 L2186.9,692.2 L2191.0,708.7 L2199.2,714.9 L2209.6,706.7 L2222.0,698.4 L2234.3,692.2 L2250.8,702.5 L2275.6,698.4 L2269.4,712.9 L2255.0,723.2 L2255.0,743.8 L2261.1,752.0 L2257.0,764.5 L2244.5,780.0 L2242.4,788.3 L2230.0,800.6 L2219.7,813.0 L2213.5,827.5 L2205.3,846.0 L2190.8,858.4 L2176.4,866.7 L2170.2,877.0 L2172.3,895.6 L2168.1,905.9 L2178.4,908.0 L2190.8,912.0 L2192.9,922.4 L2184.6,927.5 L2174.3,924.5 L2157.8,924.5 L2141.3,930.6 L2120.7,941.0 L2100.0,953.3 L2085.6,965.7 L2080.5,984.1 L2075.7,1008.2 L2068.5,1032.2 L2061.3,1056.3 L2054.0,1075.6 L2049.2,1090.0 L2034.8,1099.7 L2025.2,1114.1 L2010.7,1128.6 L2003.5,1143.0 L1986.6,1155.0 L1967.4,1162.3 L1948.1,1159.9 L1928.8,1155.0 L1916.8,1147.8 L1904.8,1140.6 L1890.3,1138.2 L1883.1,1128.6 L1871.0,1126.1 L1861.4,1131.0 L1842.2,1133.4 L1825.3,1131.0 L1815.7,1116.5 L1810.9,1099.7 L1815.7,1080.4 L1827.7,1061.1 L1839.7,1039.5 L1854.2,1020.2 L1871.0,998.5 L1885.5,981.7 L1900.0,964.8 L1912.7,957.0 L1948.8,933.8 L1990.0,906.0 L2026.2,877.0 L2054.6,844.0 L2069.1,825.4 L2081.5,800.6 L2085.6,780.0 L2092.0,765.0 L2106.4,752.0 L2120.8,739.7 L2129.1,723.2 L2131.1,702.5 L2133.2,681.9 L2141.5,671.6 L2155.9,657.1 Z" fill="#c8c8c8" stroke="#000" stroke-width="1.8" stroke-linejoin="round"/>
<path d="M1890.3,1169.5 L1900.0,1167.0 L1912.0,1176.7 L1916.8,1191.2 L1912.0,1203.2 L1897.5,1210.4 L1880.7,1217.6 L1883.1,1203.2 L1887.9,1186.3 Z" fill="#c8c8c8" stroke="#000" stroke-width="1.8" stroke-linejoin="round"/>
<path d="M1880.0,996.1 L1888.6,1002.2 M1869.7,1004.7 L1874.9,1015.0 M1859.4,1020.2 L1866.3,1028.8 M1850.8,1032.3 L1857.7,1035.7 M1843.9,1040.9 L1852.5,1042.6 M1837.0,1051.2 L1849.0,1056.3 M1833.6,1059.8 L1849.0,1066.7 M1828.4,1070.1 L1845.6,1071.8 M1823.2,1080.4 L1840.5,1080.4 M1819.8,1087.3 L1840.5,1092.5 M1816.4,1094.2 L1831.8,1097.6 M1816.4,1106.2 L1837.0,1111.4 M1819.8,1114.8 L1831.8,1120.0 M2187.5,150.7 L2186.4,153.0 M2181.6,155.1 L2178.4,154.3 M2181.7,150.9 L2185.1,151.7 M2182.2,152.2 L2177.9,154.5 M2186.8,154.0 L2183.1,150.2 M2189.6,152.9 L2191.7,152.6 M2195.5,182.5 L2196.9,184.3 M2198.1,179.0 L2199.6,182.2 M2193.5,177.6 L2191.4,177.0 M2195.5,180.7 L2194.2,177.9 M2218.4,193.6 L2215.7,194.4 M2216.2,195.0 L2216.3,198.5 M2219.8,188.9 L2219.5,186.2 M2213.2,191.9 L2209.8,193.9 M2256.6,206.7 L2260.9,207.8 M2256.0,206.9 L2258.2,204.8 M2257.4,210.4 L2254.2,208.7 M2249.6,208.0 L2245.3,208.7 M2257.2,203.8 L2253.9,199.5 M2249.2,205.6 L2246.0,208.5 M2269.6,224.7 L2270.8,226.8 M2272.9,225.7 L2274.9,227.8 M2274.5,225.8 L2277.6,227.6 M2271.8,221.2 L2273.9,216.6 M2278.6,218.5 L2275.4,222.5 M2271.3,221.8 L2272.6,224.4 M2280.0,247.4 L2277.8,245.9 M2287.6,249.5 L2285.3,252.1 M2285.4,244.4 L2281.8,244.1 M2287.0,250.4 L2290.2,248.0 M2280.8,249.1 L2278.5,251.0 M2267.5,255.9 L2269.6,256.8 M2265.0,255.8 L2263.8,257.7 M2265.3,264.5 L2268.2,266.6 M2268.0,258.2 L2266.0,256.4 M2275.2,265.9 L2273.5,267.8 M2266.0,255.2 L2262.0,256.1 M2274.9,255.9 L2273.2,258.6 M2271.3,255.8 L2277.5,256.7 M2284.3,289.8 L2282.3,289.2 M2281.6,283.7 L2284.5,280.3 M2284.3,287.8 L2286.7,291.9 M2287.1,289.8 L2285.8,292.3 M2287.2,287.4 L2290.1,283.5 M2282.6,280.3 L2283.1,284.1 M2211.6,226.9 L2214.5,227.4 M2218.4,229.9 L2221.8,228.9 M2211.2,222.3 L2214.4,221.4 M2215.2,229.0 L2216.1,231.6 M2215.5,228.0 L2217.5,224.9 M2222.3,242.3 L2225.5,244.1 M2216.4,242.3 L2216.4,239.1 M2222.8,239.2 L2220.8,242.7 M2220.8,237.4 L2217.2,240.0 M2304.7,304.3 L2306.6,306.3 M2305.7,302.2 L2309.6,307.3 M2293.8,293.2 L2290.9,297.2 M2299.4,306.1 L2304.7,305.1 M2303.6,296.0 L2297.5,298.6 M2295.4,301.2 L2295.3,304.8 M2293.8,305.7 L2293.6,310.0 M2300.2,305.7 L2297.5,309.2 M2299.0,300.4 L2293.0,303.7 M2298.2,295.6 L2296.1,295.3 M2310.1,317.7 L2315.6,317.8 M2311.9,318.2 L2311.2,313.8 M2309.3,318.7 L2304.1,316.9 M2317.3,318.1 L2317.3,321.3 M2318.9,317.3 L2314.0,315.3 M2314.1,320.3 L2310.9,317.6 M2313.7,323.3 L2309.6,324.6 M2319.3,315.1 L2317.5,309.6 M2329.4,336.4 L2324.5,334.4 M2321.7,337.4 L2324.3,339.9 M2328.8,344.0 L2332.7,345.9 M2327.6,336.4 L2330.1,340.1 M2323.2,344.5 L2327.2,340.9 M2330.9,343.3 L2327.9,345.5 M2309.2,350.1 L2311.2,353.4 M2311.7,346.2 L2312.8,349.4 M2303.2,350.0 L2299.5,348.7 M2303.8,357.8 L2300.7,354.8 M2304.3,349.2 L2305.8,343.1 M2306.2,347.6 L2311.5,348.9 M2312.8,349.1 L2307.5,351.9 M2344.6,311.6 L2347.2,315.1 M2345.5,309.4 L2347.3,310.5 M2345.1,312.4 L2349.1,314.4 M2340.5,312.9 L2344.2,315.0 M2344.4,313.4 L2341.7,314.2 M2354.2,327.9 L2354.0,330.2 M2350.4,327.6 L2352.3,329.2 M2356.1,328.3 L2355.0,330.9 M2352.8,326.1 L2350.3,326.1 M2388.9,420.4 L2388.9,422.4 M2390.5,416.9 L2391.7,419.9 M2387.0,422.7 L2388.3,419.8 M2388.5,423.9 L2385.9,425.9 M2388.7,421.1 L2386.4,424.6 M2228.9,679.1 L2225.4,681.4 M2232.1,679.6 L2238.0,682.4 M2241.9,687.7 L2248.2,691.4 M2232.7,684.4 L2232.0,687.8 M2232.2,692.4 L2234.8,696.4 M2231.9,692.5 L2237.2,691.5 M2228.0,683.1 L2226.5,687.0 M2231.2,685.1 L2226.2,685.9 M2229.4,683.4 L2233.1,683.5 M2232.9,680.7 L2234.9,681.3 M2240.0,687.5 L2235.5,684.8 M2234.2,682.2 L2232.7,674.9 M2239.6,687.3 L2242.5,687.0 M2242.3,687.0 L2249.2,689.0 M2243.2,698.4 L2242.5,691.4 M2253.9,703.2 L2246.7,703.0 M2251.9,701.1 L2245.4,697.3 M2243.1,695.8 L2243.4,697.9 M2249.9,700.0 L2255.6,704.4 M2248.8,690.1 L2244.5,685.6 M2249.0,698.6 L2251.0,692.2 M2252.8,694.0 L2251.5,692.0 M2252.7,693.3 L2255.9,694.9 M2248.9,696.1 L2248.4,688.1 M2253.3,699.9 L2247.1,700.7 M2243.4,694.1 L2241.8,692.1 M2250.1,690.2 L2249.9,686.3 M2251.8,701.1 L2255.2,702.4 M2264.2,704.6 L2262.7,701.6 M2268.7,701.4 L2266.3,701.9 M2258.2,704.5 L2264.3,703.7 M2263.4,702.2 L2266.1,696.6 M2260.5,706.0 L2262.1,711.9 M2269.4,700.6 L2272.1,703.9 M2268.6,707.4 L2270.5,703.6 M2263.8,699.3 L2264.5,705.2 M2263.4,702.6 L2267.6,702.7 M2261.8,709.1 L2264.0,711.8 M2233.1,695.4 L2238.4,695.5 M2233.8,697.5 L2238.4,695.2 M2235.0,701.1 L2232.4,703.8 M2226.3,694.6 L2223.8,697.6 M2226.4,705.2 L2231.0,708.6 M2229.1,696.3 L2229.1,699.4 M2233.6,703.7 L2229.3,708.2 M2234.3,700.6 L2230.2,696.2 M1821.8,1089.4 L1821.4,1087.2 M1816.4,1084.6 L1816.5,1079.8 M1818.7,1088.1 L1821.0,1087.0 M1824.7,1087.1 L1823.2,1092.1 M1819.7,1088.7 L1817.8,1086.0 M1815.5,1094.9 L1816.8,1097.2 M1823.9,1096.0 L1820.9,1096.0 M1815.3,1085.1 L1812.8,1085.9 M1815.9,1087.1 L1814.6,1089.1 M1822.0,1089.0 L1816.6,1086.5 M1824.8,1113.4 L1821.5,1115.4 M1830.7,1111.3 L1833.4,1112.4 M1829.6,1112.2 L1825.4,1112.1 M1825.0,1114.5 L1824.6,1117.3 M1829.7,1110.2 L1834.5,1108.8 M1830.0,1114.7 L1834.3,1115.6 M1824.9,1119.3 L1823.2,1118.2 M1830.7,1112.5 L1833.0,1108.0" fill="none" stroke="#000" stroke-width="2.6" stroke-linecap="round"/>
<rect x="1187.5" y="115.5" width="73.5" height="1177.5" fill="url(#gA)" stroke="#262626" stroke-width="2"/>
<text x="1278.0" y="1308.0" class="tk">16</text>
<line x1="1250.0" y1="1096.8" x2="1261.0" y2="1096.8" stroke="#262626" stroke-width="2"/>
<text x="1278.0" y="1111.8" class="tk">18</text>
<line x1="1250.0" y1="900.5" x2="1261.0" y2="900.5" stroke="#262626" stroke-width="2"/>
<text x="1278.0" y="915.5" class="tk">20</text>
<line x1="1250.0" y1="704.2" x2="1261.0" y2="704.2" stroke="#262626" stroke-width="2"/>
<text x="1278.0" y="719.2" class="tk">22</text>
<line x1="1250.0" y1="508.0" x2="1261.0" y2="508.0" stroke="#262626" stroke-width="2"/>
<text x="1278.0" y="523.0" class="tk">24</text>
<line x1="1250.0" y1="311.8" x2="1261.0" y2="311.8" stroke="#262626" stroke-width="2"/>
<text x="1278.0" y="326.8" class="tk">26</text>
<text x="1278.0" y="130.5" class="tk">28</text>
<rect x="2772" y="132.5" width="73.5" height="1179.5" fill="url(#gB)" stroke="#262626" stroke-width="2"/>
<text x="2862.5" y="1327.0" class="tk">16</text>
<line x1="2834.5" y1="1115.4" x2="2845.5" y2="1115.4" stroke="#262626" stroke-width="2"/>
<text x="2862.5" y="1130.4" class="tk">18</text>
<line x1="2834.5" y1="918.8" x2="2845.5" y2="918.8" stroke="#262626" stroke-width="2"/>
<text x="2862.5" y="933.8" class="tk">20</text>
<line x1="2834.5" y1="722.2" x2="2845.5" y2="722.2" stroke="#262626" stroke-width="2"/>
<text x="2862.5" y="737.2" class="tk">22</text>
<line x1="2834.5" y1="525.7" x2="2845.5" y2="525.7" stroke="#262626" stroke-width="2"/>
<text x="2862.5" y="540.7" class="tk">24</text>
<line x1="2834.5" y1="329.1" x2="2845.5" y2="329.1" stroke="#262626" stroke-width="2"/>
<text x="2862.5" y="344.1" class="tk">26</text>
<text x="2862.5" y="147.5" class="tk">28</text>
<text class="ct" transform="translate(1385,708) rotate(-90)" text-anchor="middle">Maximum SST 2003 to 2023 (°C)</text>
<text class="ct" transform="translate(2968,726.5) rotate(-90)" text-anchor="middle">Maximum SST 2003 to 2024 (°C)</text>
<text x="49" y="102" class="pl">A</text>
<text x="1563" y="102" class="pl">B</text>
<rect x="780.2" y="1123.2" width="272" height="145.4" fill="#16262e"/>
<rect x="786.8" y="1129.7" width="259.5" height="132.3" fill="#000"/>
<rect x="840.2" y="1153.1" width="148.7" height="9.5" fill="#fff"/>
<text x="915.1" y="1222.6" class="sb" text-anchor="middle">200 km</text>
<rect x="2304.2" y="1123.2" width="272" height="145.4" fill="#16262e"/>
<rect x="2310.8" y="1129.7" width="259.5" height="132.3" fill="#000"/>
<rect x="2364.2" y="1153.1" width="148.7" height="9.5" fill="#fff"/>
<text x="2439.1" y="1222.6" class="sb" text-anchor="middle">200 km</text>
<path d="M176.6,154.2 L221,292.2 L171.9,245 L118,287.5 Z" fill="#fff"/>
<text x="181" y="347" class="na" text-anchor="middle">N</text>
<path d="M1770.5,250.3 L1800.6,343.2 L1776.5,320.8 L1756.8,320.8 L1732.7,339.7 Z" fill="#fff"/>
<text x="1770" y="239.5" class="na" text-anchor="middle">N</text>
</svg></body></html>
